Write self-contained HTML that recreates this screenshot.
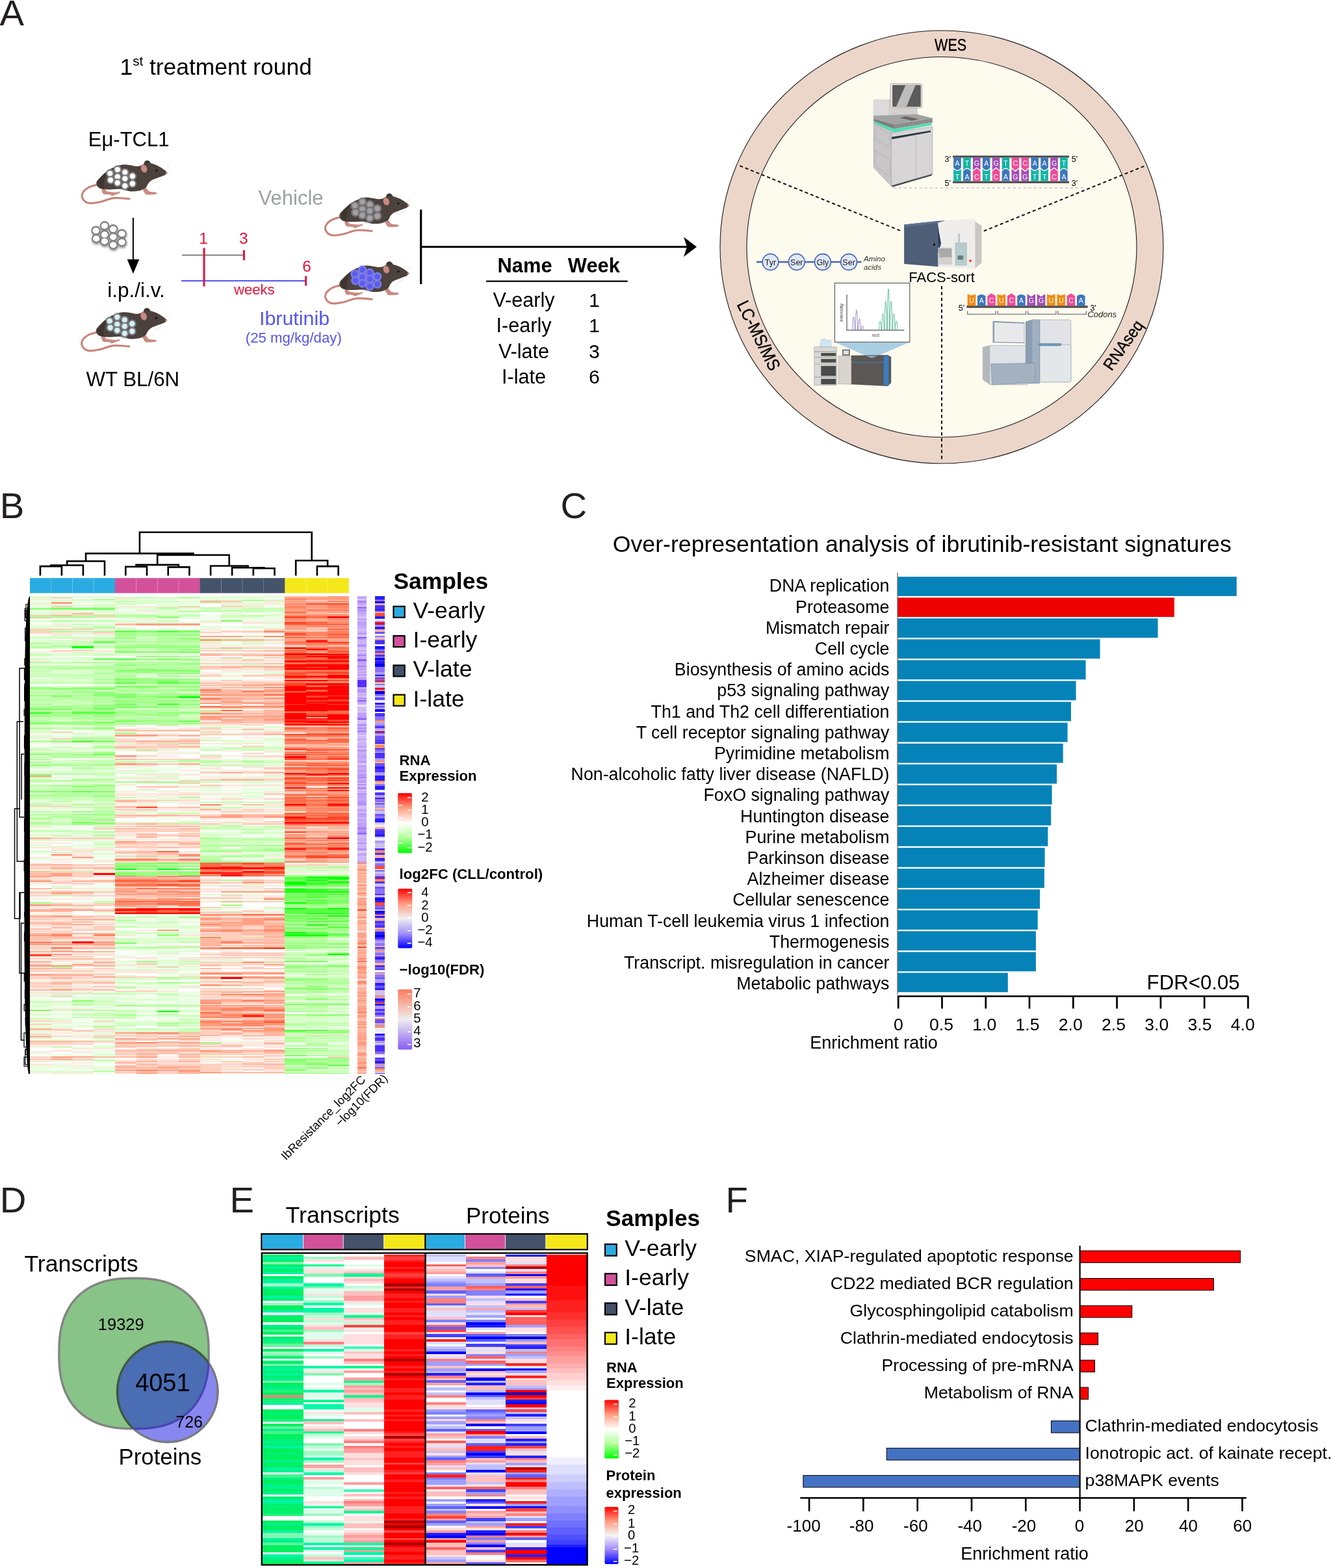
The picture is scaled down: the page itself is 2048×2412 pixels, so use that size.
<!DOCTYPE html>
<html><head><meta charset="utf-8"><title>Figure</title>
<style>html,body{margin:0;padding:0;background:#fff;overflow:hidden;width:2048px;height:2412px;}svg{display:block;}text{font-family:'Liberation Sans', Arial, sans-serif;}</style>
</head><body>
<svg width="2048" height="2412" viewBox="0 0 2048 2412">
<rect width="2048" height="2412" fill="#fff"/>
<defs><g id="mouse"><path d="M29.3,44.2C27.3,44.9 20.5,46.2 17,48C13.5,49.9 9.8,52.5 8.1,55.3C6.4,58 5.5,61.8 6.8,64.6C8.1,67.5 11.6,71.3 16.2,72.3C20.7,73.3 27.5,71.9 34,70.6C40.5,69.3 47.8,65.4 55.3,64.6C62.8,63.8 75.1,65.7 79.1,65.9" fill="none" stroke="#c98379" stroke-width="3.1" stroke-linecap="round"/><path d="M36.6,51C37.1,50.2 39.4,50 40.8,50.6C42.2,51.2 42,53.6 45.1,54.4C48.2,55.3 56.5,55.7 59.5,55.7C62.6,55.7 62.5,54.3 63.4,54.4C64.2,54.6 65.3,55.8 64.6,56.5C64,57.3 61.6,57.9 59.5,58.7C57.4,59.5 53.5,61.1 51.9,61.2C50.2,61.4 51.7,59.9 49.7,59.5C47.8,59.1 42,59.4 40,58.7C37.9,58 38,56.5 37.4,55.3C36.8,54 36,51.8 36.6,51Z" fill="#c98a80"/><path d="M98.6,49.7C99.2,48.8 102.7,48.1 104.6,48.9C106.4,49.7 107.3,53.3 109.7,54.4C112.1,55.6 117.1,55.1 119,55.7C121,56.3 122.6,57.6 121.2,58.2C119.8,58.9 113.4,59.5 110.5,59.5C107.7,59.6 105.7,59.5 104.2,58.7C102.6,57.8 102.1,55.9 101.2,54.4C100.3,52.9 98.1,50.7 98.6,49.7Z" fill="#c98a80"/><path d="M102,11.9C100.7,11.1 102.5,8.9 103.3,8.1C104.2,7.2 105.9,6.6 107.1,6.8C108.4,7 110.3,8.4 111,9.4C111.7,10.3 112.9,12.3 111.4,12.8C109.9,13.2 103.4,12.7 102,11.9Z" fill="#3d3431"/><path d="M28.5,40C29.3,37.3 32.5,34.6 35.7,31.5C38.9,28.3 42.8,24.2 47.6,21.3C52.4,18.4 59.8,15.3 64.6,14C69.4,12.8 72.4,13.3 76.5,13.6C80.6,13.9 86,15.5 89.3,15.7C92.5,15.9 94,15.5 96.1,14.9C98.2,14.2 99.6,12.5 102,11.9C104.5,11.3 107,10.5 110.5,11.1C114.1,11.6 119,13.2 123.3,15.3C127.6,17.4 133.8,22 136.1,23.8C138.4,25.6 137.6,25.2 137.1,26.2C136.5,27.2 134.9,28.6 132.7,29.8C130.4,30.9 126.6,31.9 123.3,33.2C120,34.4 115.6,35.9 113.1,37.4C110.5,39 109.3,40.8 108,42.5C106.7,44.2 106.4,46.3 105.4,47.6C104.5,48.9 104,49.2 102,50.2C100.1,51.2 97.1,52.9 93.5,53.6C90,54.3 85,54.8 80.8,54.4C76.5,54 73,51.5 68,51C63.1,50.5 56,51.4 51,51.4C46.1,51.4 41.7,51.7 38.3,51C34.9,50.4 32.2,49.5 30.6,47.6C29,45.8 27.6,42.7 28.5,40Z" fill="#4b413d"/><path d="M30,41 C33,33 40,27 47,22 C42,30 38,40 40,50 C35,50 31,46 30,41Z" fill="#3e3531"/><ellipse cx="101.6" cy="19.4" rx="4.6" ry="6.2" transform="rotate(-20 101.6 19.4)" fill="#c98a80"/><circle cx="120.7" cy="22.5" r="1.7" fill="#1b1212"/><circle cx="136.3" cy="25.5" r="1.6" fill="#d89088"/><path d="M133,22 L141,13 M134,23 L141,16 M130,34 L120,42 M129,35 L117,41" stroke="#d8d8d8" stroke-width="0.5" fill="none"/></g><linearGradient id="gRNA" x1="0" y1="0" x2="0" y2="1"><stop offset="0" stop-color="#ff0000"/><stop offset="0.25" stop-color="#ff9e81"/><stop offset="0.5" stop-color="#ffffff"/><stop offset="0.75" stop-color="#b1ff9a"/><stop offset="1" stop-color="#00ff00"/></linearGradient><linearGradient id="gFC" x1="0" y1="0" x2="0" y2="1"><stop offset="0" stop-color="#ff0000"/><stop offset="0.25" stop-color="#ff9a80"/><stop offset="0.5" stop-color="#f0f0f0"/><stop offset="0.75" stop-color="#a392fb"/><stop offset="1" stop-color="#0000ff"/></linearGradient><linearGradient id="gFDR" x1="0" y1="0" x2="0" y2="1"><stop offset="0" stop-color="#fa7b5d"/><stop offset="0.5" stop-color="#eeeeee"/><stop offset="1" stop-color="#8b5cf6"/></linearGradient><linearGradient id="gPROT" x1="0" y1="0" x2="0" y2="1"><stop offset="0" stop-color="#ff0000"/><stop offset="0.25" stop-color="#ff9a80"/><stop offset="0.5" stop-color="#f4f4f4"/><stop offset="0.75" stop-color="#9c86ff"/><stop offset="1" stop-color="#0000ff"/></linearGradient><filter id="sh" x="-20%" y="-20%" width="140%" height="150%"><feDropShadow dx="0.6" dy="2.2" stdDeviation="1.8" flood-color="#000" flood-opacity="0.4"/></filter></defs><text x="-0.5" y="39.2" font-size="56.3" fill="#231f20">A</text><text x="184.5" y="114.8" font-size="35.4">1<tspan font-size="20.5" dy="-13.5">st</tspan><tspan dy="13.5"> treatment round</tspan></text><text x="135.8" y="225.3" font-size="31">Eμ-TCL1</text><g transform="translate(120,240) scale(1)"><use href="#mouse"/><ellipse cx="72" cy="52" rx="7" ry="2.2" fill="#000" opacity="0.12"/><circle cx="49.3" cy="26.8" r="5.3" fill="#ffffff" stroke="#7d7d7d" stroke-width="2.3"/><circle cx="60.8" cy="20.8" r="5.3" fill="#ffffff" stroke="#7d7d7d" stroke-width="2.3"/><circle cx="72.3" cy="25.1" r="5.3" fill="#ffffff" stroke="#7d7d7d" stroke-width="2.3"/><circle cx="83.8" cy="31.0" r="5.3" fill="#ffffff" stroke="#7d7d7d" stroke-width="2.3"/><circle cx="50.2" cy="37.0" r="5.3" fill="#ffffff" stroke="#7d7d7d" stroke-width="2.3"/><circle cx="60.8" cy="31.9" r="5.3" fill="#ffffff" stroke="#7d7d7d" stroke-width="2.3"/><circle cx="72.3" cy="34.9" r="5.3" fill="#ffffff" stroke="#7d7d7d" stroke-width="2.3"/><circle cx="60.8" cy="41.2" r="5.3" fill="#ffffff" stroke="#7d7d7d" stroke-width="2.3"/><circle cx="72.3" cy="45.9" r="5.3" fill="#ffffff" stroke="#7d7d7d" stroke-width="2.3"/><circle cx="83.8" cy="42.5" r="5.3" fill="#ffffff" stroke="#7d7d7d" stroke-width="2.3"/></g><g transform="translate(119.5,467) scale(1)"><use href="#mouse"/><ellipse cx="72" cy="52" rx="7" ry="2.2" fill="#000" opacity="0.12"/><circle cx="49.3" cy="26.8" r="5.3" fill="#d3f1f7" stroke="#7d7d7d" stroke-width="2.3"/><circle cx="60.8" cy="20.8" r="5.3" fill="#d3f1f7" stroke="#7d7d7d" stroke-width="2.3"/><circle cx="72.3" cy="25.1" r="5.3" fill="#d3f1f7" stroke="#7d7d7d" stroke-width="2.3"/><circle cx="83.8" cy="31.0" r="5.3" fill="#d3f1f7" stroke="#7d7d7d" stroke-width="2.3"/><circle cx="50.2" cy="37.0" r="5.3" fill="#d3f1f7" stroke="#7d7d7d" stroke-width="2.3"/><circle cx="60.8" cy="31.9" r="5.3" fill="#d3f1f7" stroke="#7d7d7d" stroke-width="2.3"/><circle cx="72.3" cy="34.9" r="5.3" fill="#d3f1f7" stroke="#7d7d7d" stroke-width="2.3"/><circle cx="60.8" cy="41.2" r="5.3" fill="#d3f1f7" stroke="#7d7d7d" stroke-width="2.3"/><circle cx="72.3" cy="45.9" r="5.3" fill="#d3f1f7" stroke="#7d7d7d" stroke-width="2.3"/><circle cx="83.8" cy="42.5" r="5.3" fill="#d3f1f7" stroke="#7d7d7d" stroke-width="2.3"/></g><g transform="translate(494.5,290.8) scale(0.982)"><use href="#mouse"/><ellipse cx="72" cy="52" rx="7" ry="2.2" fill="#000" opacity="0.12"/><circle cx="52.5" cy="26.2" r="5.6" fill="#a3a1a6" stroke="#7a7677" stroke-width="2.6"/><circle cx="64.2" cy="20.0" r="5.6" fill="#a3a1a6" stroke="#7a7677" stroke-width="2.6"/><circle cx="75.9" cy="24.4" r="5.6" fill="#a3a1a6" stroke="#7a7677" stroke-width="2.6"/><circle cx="87.6" cy="30.4" r="5.6" fill="#a3a1a6" stroke="#7a7677" stroke-width="2.6"/><circle cx="53.4" cy="36.6" r="5.6" fill="#a3a1a6" stroke="#7a7677" stroke-width="2.6"/><circle cx="64.2" cy="31.4" r="5.6" fill="#a3a1a6" stroke="#7a7677" stroke-width="2.6"/><circle cx="75.9" cy="34.4" r="5.6" fill="#a3a1a6" stroke="#7a7677" stroke-width="2.6"/><circle cx="64.2" cy="40.9" r="5.6" fill="#a3a1a6" stroke="#7a7677" stroke-width="2.6"/><circle cx="75.9" cy="45.6" r="5.6" fill="#a3a1a6" stroke="#7a7677" stroke-width="2.6"/><circle cx="87.6" cy="42.2" r="5.6" fill="#a3a1a6" stroke="#7a7677" stroke-width="2.6"/></g><g transform="translate(494.5,395.6) scale(0.982)"><use href="#mouse"/><ellipse cx="72" cy="52" rx="7" ry="2.2" fill="#000" opacity="0.12"/><circle cx="52.5" cy="26.2" r="5.6" fill="#5a5af5" stroke="#7b7be2" stroke-width="2.8"/><circle cx="64.2" cy="20.0" r="5.6" fill="#5a5af5" stroke="#7b7be2" stroke-width="2.8"/><circle cx="75.9" cy="24.4" r="5.6" fill="#5a5af5" stroke="#7b7be2" stroke-width="2.8"/><circle cx="87.6" cy="30.4" r="5.6" fill="#5a5af5" stroke="#7b7be2" stroke-width="2.8"/><circle cx="53.4" cy="36.6" r="5.6" fill="#5a5af5" stroke="#7b7be2" stroke-width="2.8"/><circle cx="64.2" cy="31.4" r="5.6" fill="#5a5af5" stroke="#7b7be2" stroke-width="2.8"/><circle cx="75.9" cy="34.4" r="5.6" fill="#5a5af5" stroke="#7b7be2" stroke-width="2.8"/><circle cx="64.2" cy="40.9" r="5.6" fill="#5a5af5" stroke="#7b7be2" stroke-width="2.8"/><circle cx="75.9" cy="45.6" r="5.6" fill="#5a5af5" stroke="#7b7be2" stroke-width="2.8"/><circle cx="87.6" cy="42.2" r="5.6" fill="#5a5af5" stroke="#7b7be2" stroke-width="2.8"/></g><g filter="url(#sh)"><circle cx="147.6" cy="354.7" r="7.3" fill="#838383"/><circle cx="160.9" cy="347.3" r="7.3" fill="#838383"/><circle cx="174.2" cy="352.4" r="7.3" fill="#838383"/><circle cx="187.5" cy="359.5" r="7.3" fill="#838383"/><circle cx="148.1" cy="367.1" r="7.3" fill="#838383"/><circle cx="160.9" cy="360.9" r="7.3" fill="#838383"/><circle cx="174.2" cy="364.6" r="7.3" fill="#838383"/><circle cx="160.9" cy="371.1" r="7.3" fill="#838383"/><circle cx="174.2" cy="376.8" r="7.3" fill="#838383"/><circle cx="187.5" cy="372.5" r="7.3" fill="#838383"/></g><ellipse cx="147.6" cy="354.7" rx="5.1" ry="4.6" fill="#fff"/><ellipse cx="160.9" cy="347.3" rx="5.1" ry="4.6" fill="#fff"/><ellipse cx="174.2" cy="352.4" rx="5.1" ry="4.6" fill="#fff"/><ellipse cx="187.5" cy="359.5" rx="5.1" ry="4.6" fill="#fff"/><ellipse cx="148.1" cy="367.1" rx="5.1" ry="4.6" fill="#fff"/><ellipse cx="160.9" cy="360.9" rx="5.1" ry="4.6" fill="#fff"/><ellipse cx="174.2" cy="364.6" rx="5.1" ry="4.6" fill="#fff"/><ellipse cx="160.9" cy="371.1" rx="5.1" ry="4.6" fill="#fff"/><ellipse cx="174.2" cy="376.8" rx="5.1" ry="4.6" fill="#fff"/><ellipse cx="187.5" cy="372.5" rx="5.1" ry="4.6" fill="#fff"/><line x1="204.9" y1="335" x2="204.9" y2="405" stroke="#000" stroke-width="2"/><path d="M195.7,399 L214.2,399 L204.9,421 Z" fill="#000"/><text x="165.2" y="457.0" font-size="31.5">i.p./i.v.</text><text x="132.4" y="593.7" font-size="31.3">WT BL/6N</text><line x1="280" y1="392.4" x2="376.5" y2="392.4" stroke="#808080" stroke-width="2"/><line x1="279" y1="432.1" x2="471" y2="432.1" stroke="#5555ee" stroke-width="2"/><line x1="314" y1="381.4" x2="314" y2="440.6" stroke="#e8103a" stroke-width="3"/><line x1="375.4" y1="384.8" x2="375.4" y2="400.4" stroke="#e8103a" stroke-width="3"/><line x1="470.7" y1="424.5" x2="470.7" y2="439.5" stroke="#e8103a" stroke-width="3"/><text x="313.0" y="375.4" font-size="24.5" text-anchor="middle" fill="#e8103a">1</text><text x="374.8" y="375.4" font-size="24.5" text-anchor="middle" fill="#e8103a">3</text><text x="472.0" y="418.0" font-size="24.5" text-anchor="middle" fill="#e8103a">6</text><text x="360.0" y="452.8" font-size="22.1" fill="#e8103a">weeks</text><text x="397.6" y="314.8" font-size="31" fill="#9d9fa2">Vehicle</text><text x="399.0" y="499.6" font-size="30.4" fill="#5555ee">Ibrutinib</text><text x="377.8" y="526.5" font-size="22.2" fill="#5555ee">(25 mg/kg/day)</text><line x1="647.7" y1="322.5" x2="647.7" y2="437.1" stroke="#000" stroke-width="3.2"/><line x1="647.7" y1="379.7" x2="1058" y2="379.7" stroke="#000" stroke-width="3"/><path d="M1052,364.5 L1072,379.7 L1052,394.9 L1057,379.7 Z" fill="#000"/><text x="765.5" y="418.8" font-size="30.9" font-weight="bold">Name</text><text x="873.8" y="418.8" font-size="30.9" font-weight="bold">Week</text><line x1="748" y1="432.7" x2="965.7" y2="432.7" stroke="#000" stroke-width="2.2"/><text x="806.0" y="472.2" font-size="30.6" text-anchor="middle">V-early</text><text x="914.4" y="472.2" font-size="30.2" text-anchor="middle">1</text><text x="806.0" y="511.3" font-size="30.6" text-anchor="middle">I-early</text><text x="914.4" y="511.3" font-size="30.2" text-anchor="middle">1</text><text x="806.0" y="551.0" font-size="30.6" text-anchor="middle">V-late</text><text x="914.4" y="551.0" font-size="30.2" text-anchor="middle">3</text><text x="806.0" y="590.0" font-size="30.6" text-anchor="middle">I-late</text><text x="914.4" y="590.0" font-size="30.2" text-anchor="middle">6</text><ellipse cx="1449" cy="380" rx="341" ry="333" fill="#ecd6c9" stroke="#1a1a1a" stroke-width="1.1"/><ellipse cx="1449" cy="380" rx="300" ry="292.5" fill="#fdfaee" stroke="#1a1a1a" stroke-width="1.1"/><text x="1462.6" y="77.6" font-size="26.5" text-anchor="middle" textLength="49.2" lengthAdjust="spacingAndGlyphs" stroke="#000" stroke-width="0.35">WES</text><text transform="translate(1133.2,468.3) rotate(63.5)" font-size="27" stroke="#000" stroke-width="0.35" textLength="116" lengthAdjust="spacingAndGlyphs">LC-MS/MS</text><text transform="translate(1710.5,571.5) rotate(-55)" font-size="25.5" stroke="#000" stroke-width="0.35" textLength="87" lengthAdjust="spacingAndGlyphs">RNAseq</text><path d="M1138.4,255 L1386.8,355.4 M1513.8,355.4 L1761.8,255 M1449,440 L1449,708" stroke="#111" stroke-width="2" stroke-dasharray="5 4" fill="none"/><path d="M1344.2,153.4 L1411.1,154 L1411.1,181.2 L1344.2,181.2Z" fill="#d2d0d0" stroke="#b8b6b6" stroke-width="0.6"/><path d="M1344.2,153.4 L1367.4,153.1 L1367.4,181.2 L1344.2,181.2Z" fill="#dcdada" /><rect x="1369.9" y="128.5" width="48.9" height="37.4" rx="2.5" fill="#e9e2da" stroke="#a89e96" stroke-width="0.7"/><rect x="1373.1" y="130.8" width="43.7" height="33.4" rx="1.5" fill="#5b5b5b"/><path d="M1393.5,130.8 L1408.8,130.8 L1394.6,164.2 L1378.8,164.2Z" fill="#bdbdbd" /><path d="M1344.2,178 L1411.1,175.8 L1434.9,181.8 L1375.9,191.2 L1344.2,182.6Z" fill="#a3a3a3" /><path d="M1384.4,181.2 L1393.5,179 L1413.3,182.9 L1403.7,185.8Z" fill="#666" /><path d="M1375.9,191.2 L1434.9,181.8 L1434.9,188.6 L1375.9,198.2Z" fill="#8d8d8d" /><path d="M1344.2,182.6 L1375.9,191.2 L1375.9,198.2 L1344.2,186.9Z" fill="#7f7f7f" /><path d="M1344.7,186.3 L1375.9,198.2 L1433.7,188.9 L1433.7,192.6 L1375.9,203.7 L1344.7,189.7Z" fill="#52dcb2" /><path d="M1344.2,188.9 L1374.8,204.1 L1371.4,286.1 L1344.2,257.8Z" fill="#c8c6c6" stroke="#9c9a9a" stroke-width="0.6"/><path d="M1371.4,204.8 L1434.9,194.3 L1434.9,267.4 L1371.4,285.8Z" fill="#d7d5d5" stroke="#9c9a9a" stroke-width="0.6"/><path d="M1372.2,210.7 L1432,200.7 L1432,203.3 L1372.2,214.3Z" fill="#2b3741" /><path d="M1371.4,285.8 L1434.9,267.4 L1433.2,270.2 L1373.1,287.8Z" fill="#46494c" /><path d="M1409.4,209.0 L1409.4,275.3" stroke="#aaa" stroke-width="0.6"/><path d="M1347.0,193.7 L1369.1,206.2 L1369.1,227.1 L1347.0,214.1Z M1347.0,231.7 L1369.1,245.9 L1369.1,271.9 L1347.0,254.9Z" fill="none" stroke="#aaa" stroke-width="0.6"/><path d="M1374.8,289 L1671,289" stroke="#c4c4c4" stroke-width="1.3" stroke-dasharray="4 4"/><rect x="1466" y="239.4" width="179" height="3.2" fill="#4d4d4d"/><rect x="1466" y="278.6" width="179" height="3.2" fill="#4d4d4d"/><path d="M1467.2,242.6 h11.6 v15.4 q-5.8,7 -11.6,0z" fill="#3b76bd"/><path d="M1467.2,278.6 v-18.8 q5.8,7 11.6,0 v18.8z" fill="#12b5a6"/><text x="1473.0" y="254.5" font-size="10.5" text-anchor="middle" fill="#fff">A</text><text x="1473.0" y="276.0" font-size="10.5" text-anchor="middle" fill="#fff">T</text><path d="M1482.1,242.6 h11.6 v19.2 q-5.8,-7 -11.6,0z" fill="#12b5a6"/><path d="M1482.1,278.6 v-15.4 q5.8,-7 11.6,0 v15.4z" fill="#3b76bd"/><text x="1487.9" y="254.5" font-size="10.5" text-anchor="middle" fill="#fff">T</text><text x="1487.9" y="276.0" font-size="10.5" text-anchor="middle" fill="#fff">A</text><path d="M1497.0,242.6 h11.6 v19.2 l-5.8,-4.5 l-5.8,4.5z" fill="#a24db5"/><path d="M1497.0,278.6 v-15.2 l5.8,-4.5 l5.8,4.5 v15.2z" fill="#ef4a9a"/><text x="1502.8" y="254.5" font-size="10.5" text-anchor="middle" fill="#fff">G</text><text x="1502.8" y="276.0" font-size="10.5" text-anchor="middle" fill="#fff">C</text><path d="M1511.9,242.6 h11.6 v15.4 q-5.8,7 -11.6,0z" fill="#3b76bd"/><path d="M1511.9,278.6 v-18.8 q5.8,7 11.6,0 v18.8z" fill="#12b5a6"/><text x="1517.7" y="254.5" font-size="10.5" text-anchor="middle" fill="#fff">A</text><text x="1517.7" y="276.0" font-size="10.5" text-anchor="middle" fill="#fff">T</text><path d="M1526.8,242.6 h11.6 v19.2 l-5.8,-4.5 l-5.8,4.5z" fill="#a24db5"/><path d="M1526.8,278.6 v-15.2 l5.8,-4.5 l5.8,4.5 v15.2z" fill="#ef4a9a"/><text x="1532.6" y="254.5" font-size="10.5" text-anchor="middle" fill="#fff">G</text><text x="1532.6" y="276.0" font-size="10.5" text-anchor="middle" fill="#fff">C</text><path d="M1541.7,242.6 h11.6 v19.2 q-5.8,-7 -11.6,0z" fill="#12b5a6"/><path d="M1541.7,278.6 v-15.4 q5.8,-7 11.6,0 v15.4z" fill="#3b76bd"/><text x="1547.5" y="254.5" font-size="10.5" text-anchor="middle" fill="#fff">T</text><text x="1547.5" y="276.0" font-size="10.5" text-anchor="middle" fill="#fff">A</text><path d="M1556.6,242.6 h11.6 v15.2 l-5.8,4.5 l-5.8,-4.5z" fill="#ef4a9a"/><path d="M1556.6,278.6 v-18.8 l5.8,4.5 l5.8,-4.5 v18.8z" fill="#a24db5"/><text x="1562.4" y="254.5" font-size="10.5" text-anchor="middle" fill="#fff">C</text><text x="1562.4" y="276.0" font-size="10.5" text-anchor="middle" fill="#fff">G</text><path d="M1571.5,242.6 h11.6 v15.2 l-5.8,4.5 l-5.8,-4.5z" fill="#ef4a9a"/><path d="M1571.5,278.6 v-18.8 l5.8,4.5 l5.8,-4.5 v18.8z" fill="#a24db5"/><text x="1577.3" y="254.5" font-size="10.5" text-anchor="middle" fill="#fff">C</text><text x="1577.3" y="276.0" font-size="10.5" text-anchor="middle" fill="#fff">G</text><path d="M1586.4,242.6 h11.6 v15.4 q-5.8,7 -11.6,0z" fill="#3b76bd"/><path d="M1586.4,278.6 v-18.8 q5.8,7 11.6,0 v18.8z" fill="#12b5a6"/><text x="1592.2" y="254.5" font-size="10.5" text-anchor="middle" fill="#fff">A</text><text x="1592.2" y="276.0" font-size="10.5" text-anchor="middle" fill="#fff">T</text><path d="M1601.3,242.6 h11.6 v15.4 q-5.8,7 -11.6,0z" fill="#3b76bd"/><path d="M1601.3,278.6 v-18.8 q5.8,7 11.6,0 v18.8z" fill="#12b5a6"/><text x="1607.1" y="254.5" font-size="10.5" text-anchor="middle" fill="#fff">A</text><text x="1607.1" y="276.0" font-size="10.5" text-anchor="middle" fill="#fff">T</text><path d="M1616.2,242.6 h11.6 v19.2 l-5.8,-4.5 l-5.8,4.5z" fill="#a24db5"/><path d="M1616.2,278.6 v-15.2 l5.8,-4.5 l5.8,4.5 v15.2z" fill="#ef4a9a"/><text x="1622.0" y="254.5" font-size="10.5" text-anchor="middle" fill="#fff">G</text><text x="1622.0" y="276.0" font-size="10.5" text-anchor="middle" fill="#fff">C</text><path d="M1631.1,242.6 h11.6 v19.2 q-5.8,-7 -11.6,0z" fill="#12b5a6"/><path d="M1631.1,278.6 v-15.4 q5.8,-7 11.6,0 v15.4z" fill="#3b76bd"/><text x="1636.9" y="254.5" font-size="10.5" text-anchor="middle" fill="#fff">T</text><text x="1636.9" y="276.0" font-size="10.5" text-anchor="middle" fill="#fff">A</text><text x="1453.6" y="248.7" font-size="12.5">3'</text><text x="1453.6" y="285.8" font-size="12.5">5'</text><text x="1648.7" y="249.4" font-size="12.5">5'</text><text x="1648.7" y="286.0" font-size="12.5">3'</text><path d="M1442.9,340 L1500.3,336.6 L1500.3,413.1 L1443.4,410.3Z" fill="#eeedeb" /><path d="M1500.3,340.4 L1510.5,347.2 L1510.5,404.2 L1500.3,413.1Z" fill="#cbc8c3" /><path d="M1391.1,345.5 L1442.9,340 L1443.4,410.3 L1391.1,405.9Z" fill="#4f5f78" /><path d="M1391.1,345.5 L1442.9,340 L1454.8,338.9 L1442.9,343.1 L1391.1,349.3Z" fill="#5e7291" /><path d="M1442.9,343.1 L1444.6,355.7 L1448,374.4 L1443.4,389.7Z" fill="#243a5a" /><path d="M1443.8,380.8 L1465,380.8 L1465,406.9 L1443.8,406.9Z" fill="#d3d1ce" /><path d="M1445.1,382.2 L1464.2,382.2 L1464.2,395.7 L1445.1,395.7Z" fill="#a9a9a9" /><path d="M1470.1,373.7 L1487.3,373.7 L1487.3,408 L1470.1,408Z" fill="#b5cdcc" stroke="#8aa6a6" stroke-width="0.5"/><path d="M1474.4,359.1 L1476.9,359.1 L1476.9,372.7 L1474.4,372.7Z" fill="#c3bfba" /><path d="M1473.5,393.1 L1482,393.1 L1482,399.5 L1473.5,399.5Z" fill="#667c7a" /><circle cx="1493.1" cy="401.2" r="1.9" fill="#ff3b12"/><circle cx="1437.4" cy="376.1" r="1.8" fill="#111"/><text x="1398.3" y="433.5" font-size="22">FACS-sort</text><line x1="1164" y1="403" x2="1325.7" y2="403" stroke="#4a65b5" stroke-width="2.6"/><circle cx="1185.5" cy="403" r="12.4" fill="#dfe8f8" stroke="#4a65b5" stroke-width="1.7"/><text x="1185.5" y="408.0" font-size="12.5" text-anchor="middle" fill="#1a1a1a">Tyr</text><circle cx="1225.8" cy="403" r="12.4" fill="#dfe8f8" stroke="#4a65b5" stroke-width="1.7"/><text x="1225.8" y="408.0" font-size="12.5" text-anchor="middle" fill="#1a1a1a">Ser</text><circle cx="1265.9" cy="403" r="12.4" fill="#dfe8f8" stroke="#4a65b5" stroke-width="1.7"/><text x="1265.9" y="408.0" font-size="12.5" text-anchor="middle" fill="#1a1a1a">Gly</text><circle cx="1306.1" cy="403" r="12.4" fill="#dfe8f8" stroke="#4a65b5" stroke-width="1.7"/><text x="1306.1" y="408.0" font-size="12.5" text-anchor="middle" fill="#1a1a1a">Ser</text><text x="1329.0" y="402.0" font-size="11.6" fill="#333" font-style="italic">Amino</text><text x="1329.0" y="414.5" font-size="11.6" fill="#333" font-style="italic">acids</text><path d="M1284.7,526.6 L1399.5,526.6 L1350.5,547.6 L1341.3,550.7 L1332.9,547.6Z" fill="#abcfe2" /><rect x="1284.4" y="435.4" width="115.4" height="90.8" fill="#fff" stroke="#444" stroke-width="1"/><path d="M1303,453 L1303,507.8 L1391.5,507.8" fill="none" stroke="#555" stroke-width="1.2"/><path d="M1311.8,507.5 C1312.4,480.3 1314.6,480.3 1315.2,507.5 M1316.2,507.5 C1316.8,466.4 1319.0,466.4 1319.6,507.5 M1320.8,507.5 C1321.4,484.4 1323.6,484.4 1324.2,507.5 M1325.4,507.5 C1326.0,498.7 1328.2,498.7 1328.8,507.5 " fill="none" stroke="#8e7fc6" stroke-width="0.9"/><path d="M1352.6,507.5 C1353.2,489.5 1355.4,489.5 1356.0,507.5 M1356.8,507.5 C1357.4,473.8 1359.6,473.8 1360.2,507.5 M1361.1,507.5 C1361.7,448.7 1363.9,448.7 1364.5,507.5 M1365.3,507.5 C1365.9,423.2 1368.1,423.2 1368.7,507.5 M1369.5,507.5 C1370.1,448.7 1372.3,448.7 1372.9,507.5 M1373.6,507.5 C1374.2,473.8 1376.4,473.8 1377.0,507.5 M1377.6,507.5 C1378.2,489.5 1380.4,489.5 1381.0,507.5 " fill="none" stroke="#4fb992" stroke-width="0.9"/><text transform="translate(1297,481) rotate(-90)" font-size="7.5" text-anchor="middle" fill="#444">Intensity</text><text x="1347.5" y="518.0" font-size="7.5" text-anchor="middle" fill="#444" font-style="italic">m/z</text><path d="M1261.7,533.8 L1263.3,523.1 L1267.9,520.8 L1272.5,523.1 L1278.6,523.1 L1278.9,533.8Z" fill="#cfe6f0" stroke="#9ab" stroke-width="0.4"/><rect x="1252.9" y="533.8" width="34.4" height="6.9" fill="#d8d8d8" stroke="#8a8a8a" stroke-width="0.5"/><rect x="1252.9" y="541.5" width="34.4" height="7.7" fill="#d8d8d8" stroke="#8a8a8a" stroke-width="0.5"/><rect x="1252.9" y="549.9" width="34.4" height="9.2" fill="#d8d8d8" stroke="#8a8a8a" stroke-width="0.5"/><rect x="1252.9" y="560.6" width="34.4" height="19.1" fill="#d8d8d8" stroke="#8a8a8a" stroke-width="0.5"/><rect x="1252.9" y="580.5" width="34.4" height="12.2" fill="#d8d8d8" stroke="#8a8a8a" stroke-width="0.5"/><rect x="1263.3" y="543.0" width="23.0" height="4.6" fill="#4a4a4a"/><rect x="1263.3" y="552.2" width="23.0" height="5.4" fill="#4a4a4a"/><rect x="1263.3" y="562.9" width="23.0" height="15.3" fill="#4a4a4a"/><rect x="1263.3" y="582.8" width="23.0" height="8.4" fill="#4a4a4a"/><path d="M1290.1,547.6 L1310,547.6 L1310,591.2 L1290.1,590.5Z" fill="#dad4ce" stroke="#888" stroke-width="0.5"/><path d="M1310,546.8 L1365.8,546.1 L1371.2,549.1 L1371.2,588.9 L1365.8,594 L1310,591.2Z" fill="#5a5755" /><path d="M1359.7,546.8 L1367.4,547.6 L1367.4,593.5 L1359.7,592Z" fill="#3a7cbf" /><path d="M1296.2,537.7 L1307.7,537.7 L1307.7,546.8 L1296.2,546.8Z" fill="#5a5a5a" /><path d="M1297.7,539.2 L1306.1,539.2 L1306.1,545.3 L1297.7,545.3Z" fill="#e0e0e0" /><path d="M1332.9,547.6 L1350.5,547.6 L1341.3,550.7Z" fill="#8ab6cf" /><line x1="1310.0" y1="557.6" x2="1363.5" y2="557.6" stroke="#3a8ac0" stroke-width="0.8"/><rect x="1487.3" y="470.2" width="186.4" height="3.4" fill="#4d4d4d"/><path d="M1488.7,470.2 v-18 q6.25,4 12.5,0 v18z" fill="#f5890c"/><text x="1495.0" y="466.0" font-size="10.5" text-anchor="middle" fill="#fff">U</text><path d="M1504.0,470.2 v-15 q6.25,-4.5 12.5,0 v15z" fill="#3b76bd"/><text x="1510.2" y="466.0" font-size="10.5" text-anchor="middle" fill="#fff">A</text><path d="M1519.3,470.2 v-15 l6.25,-4 l6.25,4 v15z" fill="#ef4a9a"/><text x="1525.5" y="466.0" font-size="10.5" text-anchor="middle" fill="#fff">C</text><path d="M1534.6,470.2 v-18 q6.25,4 12.5,0 v18z" fill="#f5890c"/><text x="1540.9" y="466.0" font-size="10.5" text-anchor="middle" fill="#fff">U</text><path d="M1549.9,470.2 v-15 l6.25,-4 l6.25,4 v15z" fill="#ef4a9a"/><text x="1556.2" y="466.0" font-size="10.5" text-anchor="middle" fill="#fff">C</text><path d="M1565.2,470.2 v-15 q6.25,-4.5 12.5,0 v15z" fill="#3b76bd"/><text x="1571.5" y="466.0" font-size="10.5" text-anchor="middle" fill="#fff">A</text><path d="M1580.5,470.2 v-18 l6.25,4 l6.25,-4 v18z" fill="#a24db5"/><text x="1586.8" y="466.0" font-size="10.5" text-anchor="middle" fill="#fff">G</text><path d="M1595.8,470.2 v-18 l6.25,4 l6.25,-4 v18z" fill="#a24db5"/><text x="1602.0" y="466.0" font-size="10.5" text-anchor="middle" fill="#fff">G</text><path d="M1611.1,470.2 v-18 q6.25,4 12.5,0 v18z" fill="#f5890c"/><text x="1617.4" y="466.0" font-size="10.5" text-anchor="middle" fill="#fff">U</text><path d="M1626.4,470.2 v-18 q6.25,4 12.5,0 v18z" fill="#f5890c"/><text x="1632.7" y="466.0" font-size="10.5" text-anchor="middle" fill="#fff">U</text><path d="M1641.7,470.2 v-15 l6.25,-4 l6.25,4 v15z" fill="#ef4a9a"/><text x="1648.0" y="466.0" font-size="10.5" text-anchor="middle" fill="#fff">C</text><path d="M1657.0,470.2 v-15 q6.25,-4.5 12.5,0 v15z" fill="#3b76bd"/><text x="1663.2" y="466.0" font-size="10.5" text-anchor="middle" fill="#fff">A</text><text x="1474.7" y="477.6" font-size="12.5">5'</text><text x="1677.4" y="477.6" font-size="12.5">3'</text><path d="M1488.7,478.3 V483.3 H1532.2 V478.3 M1535.2,478.3 V483.3 H1578.6 V478.3 M1581.6,478.3 V483.3 H1625 V478.3 M1628,478.3 V483.3 H1671.5 V478.3 " fill="none" stroke="#7a7a7a" stroke-width="1.3"/><text x="1673.4" y="488.3" font-size="13" fill="#222" font-style="italic">Codons</text><path d="M1512.3,534.3 L1523.4,531.4 L1580.9,531.4 L1580.9,591.8 L1523.4,591.8 L1512.3,583.7Z" fill="#dfe2e6" stroke="#8d9aa8" stroke-width="0.6"/><path d="M1512.3,534.3 L1523.4,531.4 L1523.4,591.8 L1512.3,583.7Z" fill="#b3b8bd" /><path d="M1577.9,494.5 L1589.7,491.3 L1600,491.6 L1600,590 L1577.9,590Z" fill="#8a9db1" /><path d="M1588.2,492.3 L1599.3,491.9 L1599.3,589.6 L1588.2,589.6Z" fill="#9fb0c2" /><rect x="1600.0" y="491.9" width="47.9" height="95.8" rx="2.5" fill="#e1e3e6" stroke="#8d9aa8" stroke-width="0.6"/><rect x="1600.0" y="530.2" width="47.9" height="57.5" rx="2" fill="#e4e7ea" stroke="#8d9aa8" stroke-width="0.6"/><path d="M1527.5,493.8 L1576.4,496 L1576.4,528.1 L1527.5,527Z" fill="#8a9db1" /><path d="M1530,496 L1575.7,497.8 L1575.7,526.7 L1530,525.8Z" fill="#e9e9eb" /><path d="M1524.8,559.7 L1592.6,558.6 L1592.6,588.9 L1526.3,591.8Z" fill="#a4b1c1" stroke="#7d8c9c" stroke-width="0.6"/><rect x="1597.1" y="528.1" width="36.1" height="4.1" rx="2" fill="#7a91a8"/><line x1="1598.5" y1="529.5" x2="1631.7" y2="529.5" stroke="#3fb0e6" stroke-width="1"/><text x="-0.2" y="796.9" font-size="56.3" fill="#231f20">B</text><rect x="46.00" y="889.2" width="33.00" height="23.2" fill="#2aace2"/><rect x="78.70" y="889.2" width="33.00" height="23.2" fill="#2aace2"/><rect x="111.40" y="889.2" width="33.00" height="23.2" fill="#2aace2"/><rect x="144.10" y="889.2" width="33.00" height="23.2" fill="#2aace2"/><rect x="176.80" y="889.2" width="33.00" height="23.2" fill="#d3519b"/><rect x="209.50" y="889.2" width="33.00" height="23.2" fill="#d3519b"/><rect x="242.20" y="889.2" width="33.00" height="23.2" fill="#d3519b"/><rect x="274.90" y="889.2" width="33.00" height="23.2" fill="#d3519b"/><rect x="307.60" y="889.2" width="33.00" height="23.2" fill="#44536a"/><rect x="340.30" y="889.2" width="33.00" height="23.2" fill="#44536a"/><rect x="373.00" y="889.2" width="33.00" height="23.2" fill="#44536a"/><rect x="405.70" y="889.2" width="33.00" height="23.2" fill="#44536a"/><rect x="438.40" y="889.2" width="33.00" height="23.2" fill="#f4e81b"/><rect x="471.10" y="889.2" width="33.00" height="23.2" fill="#f4e81b"/><rect x="503.80" y="889.2" width="33.00" height="23.2" fill="#f4e81b"/><line x1="78.70" y1="889.2" x2="78.70" y2="912.4" stroke="#fff" stroke-width="0.5" opacity="0.5"/><line x1="111.40" y1="889.2" x2="111.40" y2="912.4" stroke="#fff" stroke-width="0.5" opacity="0.5"/><line x1="144.10" y1="889.2" x2="144.10" y2="912.4" stroke="#fff" stroke-width="0.5" opacity="0.5"/><line x1="209.50" y1="889.2" x2="209.50" y2="912.4" stroke="#fff" stroke-width="0.5" opacity="0.5"/><line x1="242.20" y1="889.2" x2="242.20" y2="912.4" stroke="#fff" stroke-width="0.5" opacity="0.5"/><line x1="274.90" y1="889.2" x2="274.90" y2="912.4" stroke="#fff" stroke-width="0.5" opacity="0.5"/><line x1="340.30" y1="889.2" x2="340.30" y2="912.4" stroke="#fff" stroke-width="0.5" opacity="0.5"/><line x1="373.00" y1="889.2" x2="373.00" y2="912.4" stroke="#fff" stroke-width="0.5" opacity="0.5"/><line x1="405.70" y1="889.2" x2="405.70" y2="912.4" stroke="#fff" stroke-width="0.5" opacity="0.5"/><line x1="471.10" y1="889.2" x2="471.10" y2="912.4" stroke="#fff" stroke-width="0.5" opacity="0.5"/><line x1="503.80" y1="889.2" x2="503.80" y2="912.4" stroke="#fff" stroke-width="0.5" opacity="0.5"/><path d="M61.9,885.4V871.1H94.9V885.4M78.4,871.1V869.5H127.9V885.4M103.2,869.5V863.2H161.0V885.4M193.3,885.4V871.7H226.0V885.4M258.7,885.4V872.4H291.4V885.4M209.5,871.7V868.9H274.9V872.4M389.8,885.4V874.3H422.5V885.4M357.1,885.4V873.3H406.3V874.3M324.1,885.4V870.5H381.6V873.3M242.2,868.9V853.7H352.7V870.5M132.1,863.2V851.4H297.5V853.7M487.9,885.4V871.1H520.6V885.4M455.2,885.4V862.2H504.1V871.1M214.9,851.4V818.7H479.7V862.2" fill="none" stroke="#000" stroke-width="2.6"/><g shape-rendering="crispEdges"><g transform="translate(46.0,0)"><path fill="#dbffcd" d="M0 917.0v2.3h32.9v-2.3zM0 920.7v2.3h32.9v-2.3zM0 926.2v2.3h32.9v-2.3zM0 929.9v2.3h32.9v-2.3zM0 933.5v2.3h32.9v-2.3zM0 940.9v2.3h32.9v-2.3zM0 953.8v2.3h32.9v-2.3zM0 963.0v4.2h32.9v-4.2zM0 977.7v6.0h32.9v-6.0zM0 985.0v4.2h32.9v-4.2zM0 996.0v2.3h32.9v-2.3zM0 1012.6v4.2h32.9v-4.2zM0 1021.8v2.3h32.9v-2.3zM0 1032.8v2.3h32.9v-2.3zM0 1036.5v2.3h32.9v-2.3zM0 1040.1v2.3h32.9v-2.3zM0 1043.8v6.0h32.9v-6.0zM0 1054.8v2.3h32.9v-2.3zM0 1065.9v2.3h32.9v-2.3zM0 1080.6v2.3h32.9v-2.3zM0 1102.6v2.3h32.9v-2.3zM0 1115.5v4.2h32.9v-4.2zM0 1122.9v6.0h32.9v-6.0zM0 1132.0v4.2h32.9v-4.2zM0 1148.6v4.2h32.9v-4.2zM0 1155.9v2.3h32.9v-2.3zM0 1174.3v2.3h32.9v-2.3zM0 1185.3v2.3h32.9v-2.3zM0 1218.4v4.2h32.9v-4.2zM0 1231.3v2.3h32.9v-2.3zM0 1240.5v2.3h32.9v-2.3zM0 1244.2v2.3h32.9v-2.3zM0 1260.7v2.3h32.9v-2.3zM0 1271.7v2.3h32.9v-2.3zM0 1279.1v2.3h32.9v-2.3zM0 1282.8v4.2h32.9v-4.2zM0 1290.1v4.2h32.9v-4.2zM0 1299.3v2.3h32.9v-2.3zM0 1319.5v2.3h32.9v-2.3zM0 1337.9v2.3h32.9v-2.3zM0 1527.2v2.3h32.9v-2.3zM0 1541.9v2.3h32.9v-2.3zM0 1545.6v4.2h32.9v-4.2zM0 1558.5v4.2h32.9v-4.2zM0 1573.2v2.3h32.9v-2.3zM0 1578.7v2.3h32.9v-2.3zM0 1586.0v2.3h32.9v-2.3zM0 1595.2v2.3h32.9v-2.3zM0 1598.9v2.3h32.9v-2.3zM0 1630.1v2.3h32.9v-2.3zM0 1641.2v2.3h32.9v-2.3zM0 1646.7v2.3h32.9v-2.3z"/><path fill="#ffe7de" d="M0 918.8v2.3h32.9v-2.3zM0 928.0v2.3h32.9v-2.3zM0 950.1v2.3h32.9v-2.3zM0 974.0v2.3h32.9v-2.3zM0 1001.5v2.3h32.9v-2.3zM0 1016.3v2.3h32.9v-2.3zM0 1121.0v2.3h32.9v-2.3zM0 1130.2v2.3h32.9v-2.3zM0 1154.1v2.3h32.9v-2.3zM0 1165.1v2.3h32.9v-2.3zM0 1262.5v2.3h32.9v-2.3zM0 1269.9v2.3h32.9v-2.3zM0 1295.6v2.3h32.9v-2.3zM0 1303.0v2.3h32.9v-2.3zM0 1317.7v2.3h32.9v-2.3zM0 1326.9v2.3h32.9v-2.3zM0 1332.4v2.3h32.9v-2.3zM0 1336.1v2.3h32.9v-2.3zM0 1350.8v2.3h32.9v-2.3zM0 1358.1v2.3h32.9v-2.3zM0 1374.7v2.3h32.9v-2.3zM0 1382.0v2.3h32.9v-2.3zM0 1389.4v2.3h32.9v-2.3zM0 1394.9v4.2h32.9v-4.2zM0 1405.9v2.3h32.9v-2.3zM0 1411.4v2.3h32.9v-2.3zM0 1422.5v4.2h32.9v-4.2zM0 1429.8v2.3h32.9v-2.3zM0 1453.7v2.3h32.9v-2.3zM0 1459.2v4.2h32.9v-4.2zM0 1464.7v2.3h32.9v-2.3zM0 1470.2v2.3h32.9v-2.3zM0 1486.8v2.3h32.9v-2.3zM0 1490.5v2.3h32.9v-2.3zM0 1501.5v2.3h32.9v-2.3zM0 1505.2v2.3h32.9v-2.3zM0 1508.8v2.3h32.9v-2.3zM0 1514.3v2.3h32.9v-2.3zM0 1518.0v4.2h32.9v-4.2zM0 1525.4v2.3h32.9v-2.3zM0 1530.9v2.3h32.9v-2.3zM0 1554.8v2.3h32.9v-2.3zM0 1567.7v2.3h32.9v-2.3zM0 1580.5v2.3h32.9v-2.3zM0 1606.2v4.2h32.9v-4.2zM0 1617.3v2.3h32.9v-2.3zM0 1626.5v2.3h32.9v-2.3zM0 1632.0v2.3h32.9v-2.3zM0 1635.7v4.2h32.9v-4.2zM0 1648.5v2.3h32.9v-2.3z"/><path fill="#edffe6" d="M0 922.5v4.2h32.9v-4.2zM0 937.2v4.2h32.9v-4.2zM0 942.7v2.3h32.9v-2.3zM0 955.6v2.3h32.9v-2.3zM0 959.3v4.2h32.9v-4.2zM0 990.5v2.3h32.9v-2.3zM0 997.9v2.3h32.9v-2.3zM0 1008.9v4.2h32.9v-4.2zM0 1019.9v2.3h32.9v-2.3zM0 1042.0v2.3h32.9v-2.3zM0 1128.4v2.3h32.9v-2.3zM0 1135.7v2.3h32.9v-2.3zM0 1141.2v4.2h32.9v-4.2zM0 1168.8v2.3h32.9v-2.3zM0 1187.2v2.3h32.9v-2.3zM0 1196.4v2.3h32.9v-2.3zM0 1205.6v2.3h32.9v-2.3zM0 1211.1v2.3h32.9v-2.3zM0 1229.5v2.3h32.9v-2.3zM0 1233.1v2.3h32.9v-2.3zM0 1242.3v2.3h32.9v-2.3zM0 1246.0v2.3h32.9v-2.3zM0 1249.7v2.3h32.9v-2.3zM0 1255.2v2.3h32.9v-2.3zM0 1275.4v2.3h32.9v-2.3zM0 1301.1v2.3h32.9v-2.3zM0 1312.2v2.3h32.9v-2.3zM0 1321.4v2.3h32.9v-2.3zM0 1360.0v2.3h32.9v-2.3zM0 1367.3v4.2h32.9v-4.2zM0 1380.2v2.3h32.9v-2.3zM0 1385.7v2.3h32.9v-2.3zM0 1402.2v2.3h32.9v-2.3zM0 1472.1v2.3h32.9v-2.3zM0 1494.1v2.3h32.9v-2.3zM0 1507.0v2.3h32.9v-2.3zM0 1529.1v2.3h32.9v-2.3zM0 1532.7v2.3h32.9v-2.3zM0 1536.4v4.2h32.9v-4.2zM0 1543.8v2.3h32.9v-2.3zM0 1549.3v2.3h32.9v-2.3zM0 1556.6v2.3h32.9v-2.3zM0 1562.1v4.2h32.9v-4.2zM0 1576.8v2.3h32.9v-2.3zM0 1587.9v2.3h32.9v-2.3zM0 1591.5v2.3h32.9v-2.3zM0 1609.9v2.3h32.9v-2.3zM0 1619.1v4.2h32.9v-4.2zM0 1639.3v2.3h32.9v-2.3zM0 1643.0v4.2h32.9v-4.2zM0 1650.4v1.8h32.9v-1.8z"/><path fill="#99ff80" d="M0 935.4v2.3h32.9v-2.3zM0 948.2v2.3h32.9v-2.3zM0 1056.7v4.2h32.9v-4.2zM0 1064.0v2.3h32.9v-2.3zM0 1069.6v2.3h32.9v-2.3zM0 1075.1v2.3h32.9v-2.3zM0 1087.9v2.3h32.9v-2.3zM0 1100.8v2.3h32.9v-2.3zM0 1110.0v2.3h32.9v-2.3zM0 1159.6v2.3h32.9v-2.3zM0 1176.2v2.3h32.9v-2.3zM0 1190.9v2.3h32.9v-2.3zM0 1387.5v2.3h32.9v-2.3z"/><path fill="#b1ff9a" d="M0 944.6v2.3h32.9v-2.3zM0 970.3v2.3h32.9v-2.3zM0 988.7v2.3h32.9v-2.3zM0 994.2v2.3h32.9v-2.3zM0 1018.1v2.3h32.9v-2.3zM0 1025.4v2.3h32.9v-2.3zM0 1031.0v2.3h32.9v-2.3zM0 1060.4v2.3h32.9v-2.3zM0 1067.7v2.3h32.9v-2.3zM0 1082.4v2.3h32.9v-2.3zM0 1086.1v2.3h32.9v-2.3zM0 1091.6v2.3h32.9v-2.3zM0 1099.0v2.3h32.9v-2.3zM0 1104.5v2.3h32.9v-2.3zM0 1108.2v2.3h32.9v-2.3zM0 1119.2v2.3h32.9v-2.3zM0 1139.4v2.3h32.9v-2.3zM0 1157.8v2.3h32.9v-2.3zM0 1167.0v2.3h32.9v-2.3zM0 1170.6v2.3h32.9v-2.3zM0 1200.1v2.3h32.9v-2.3zM0 1222.1v4.2h32.9v-4.2zM0 1247.8v2.3h32.9v-2.3zM0 1251.5v2.3h32.9v-2.3zM0 1257.0v4.2h32.9v-4.2zM0 1264.4v4.2h32.9v-4.2z"/><path fill="#ffcfbf" d="M0 946.4v2.3h32.9v-2.3zM0 966.6v4.2h32.9v-4.2zM0 972.1v2.3h32.9v-2.3zM0 1238.7v2.3h32.9v-2.3zM0 1330.5v2.3h32.9v-2.3zM0 1334.2v2.3h32.9v-2.3zM0 1341.6v2.3h32.9v-2.3zM0 1345.3v2.3h32.9v-2.3zM0 1348.9v2.3h32.9v-2.3zM0 1371.0v4.2h32.9v-4.2zM0 1376.5v2.3h32.9v-2.3zM0 1413.3v2.3h32.9v-2.3zM0 1416.9v2.3h32.9v-2.3zM0 1420.6v2.3h32.9v-2.3zM0 1431.6v2.3h32.9v-2.3zM0 1439.0v2.3h32.9v-2.3zM0 1442.7v2.3h32.9v-2.3zM0 1455.5v4.2h32.9v-4.2zM0 1473.9v2.3h32.9v-2.3zM0 1479.4v2.3h32.9v-2.3zM0 1492.3v2.3h32.9v-2.3zM0 1503.3v2.3h32.9v-2.3zM0 1510.7v4.2h32.9v-4.2zM0 1516.2v2.3h32.9v-2.3zM0 1569.5v2.3h32.9v-2.3zM0 1575.0v2.3h32.9v-2.3zM0 1589.7v2.3h32.9v-2.3zM0 1602.6v4.2h32.9v-4.2zM0 1624.6v2.3h32.9v-2.3zM0 1628.3v2.3h32.9v-2.3z"/><path fill="#c7ffb4" d="M0 992.4v2.3h32.9v-2.3zM0 1005.2v4.2h32.9v-4.2zM0 1023.6v2.3h32.9v-2.3zM0 1027.3v2.3h32.9v-2.3zM0 1034.6v2.3h32.9v-2.3zM0 1038.3v2.3h32.9v-2.3zM0 1049.3v2.3h32.9v-2.3zM0 1062.2v2.3h32.9v-2.3zM0 1071.4v4.2h32.9v-4.2zM0 1076.9v4.2h32.9v-4.2zM0 1084.3v2.3h32.9v-2.3zM0 1093.4v2.3h32.9v-2.3zM0 1106.3v2.3h32.9v-2.3zM0 1113.7v2.3h32.9v-2.3zM0 1152.3v2.3h32.9v-2.3zM0 1163.3v2.3h32.9v-2.3zM0 1172.5v2.3h32.9v-2.3zM0 1179.8v2.3h32.9v-2.3zM0 1189.0v2.3h32.9v-2.3zM0 1194.5v2.3h32.9v-2.3zM0 1198.2v2.3h32.9v-2.3zM0 1201.9v2.3h32.9v-2.3zM0 1207.4v4.2h32.9v-4.2zM0 1212.9v4.2h32.9v-4.2zM0 1225.8v4.2h32.9v-4.2zM0 1235.0v4.2h32.9v-4.2zM0 1253.4v2.3h32.9v-2.3zM0 1268.1v2.3h32.9v-2.3zM0 1277.2v2.3h32.9v-2.3zM0 1308.5v2.3h32.9v-2.3zM0 1540.1v2.3h32.9v-2.3zM0 1565.8v2.3h32.9v-2.3z"/><path fill="#7dff64" d="M0 1089.8v2.3h32.9v-2.3zM0 1097.1v2.3h32.9v-2.3zM0 1111.8v2.3h32.9v-2.3zM0 1216.6v2.3h32.9v-2.3zM0 1552.9v2.3h32.9v-2.3z"/><path fill="#58ff43" d="M0 1095.3v2.3h32.9v-2.3z"/><path fill="#ff9e81" d="M0 1192.7v2.3h32.9v-2.3zM0 1347.1v2.3h32.9v-2.3zM0 1354.4v2.3h32.9v-2.3zM0 1391.2v2.3h32.9v-2.3zM0 1398.6v2.3h32.9v-2.3zM0 1437.2v2.3h32.9v-2.3zM0 1451.9v2.3h32.9v-2.3zM0 1484.9v2.3h32.9v-2.3zM0 1497.8v2.3h32.9v-2.3z"/><path fill="#ffb7a0" d="M0 1288.3v2.3h32.9v-2.3zM0 1328.7v2.3h32.9v-2.3zM0 1339.7v2.3h32.9v-2.3zM0 1343.4v2.3h32.9v-2.3zM0 1352.6v2.3h32.9v-2.3zM0 1365.5v2.3h32.9v-2.3zM0 1400.4v2.3h32.9v-2.3zM0 1407.7v4.2h32.9v-4.2zM0 1418.8v2.3h32.9v-2.3zM0 1428.0v2.3h32.9v-2.3zM0 1435.3v2.3h32.9v-2.3zM0 1440.8v2.3h32.9v-2.3zM0 1444.5v2.3h32.9v-2.3zM0 1450.0v2.3h32.9v-2.3zM0 1462.9v2.3h32.9v-2.3zM0 1466.6v2.3h32.9v-2.3zM0 1477.6v2.3h32.9v-2.3zM0 1483.1v2.3h32.9v-2.3zM0 1488.6v2.3h32.9v-2.3zM0 1499.6v2.3h32.9v-2.3zM0 1521.7v2.3h32.9v-2.3zM0 1582.4v2.3h32.9v-2.3zM0 1593.4v2.3h32.9v-2.3zM0 1600.7v2.3h32.9v-2.3z"/><path fill="#ff8464" d="M0 1448.2v2.3h32.9v-2.3z"/><path fill="#ff4628" d="M0 1468.4v2.3h32.9v-2.3z"/></g><g transform="translate(78.7,0)"><path fill="#dbffcd" d="M0 917.0v2.3h32.9v-2.3zM0 922.5v2.3h32.9v-2.3zM0 929.9v2.3h32.9v-2.3zM0 940.9v2.3h32.9v-2.3zM0 955.6v2.3h32.9v-2.3zM0 959.3v2.3h32.9v-2.3zM0 963.0v2.3h32.9v-2.3zM0 977.7v2.3h32.9v-2.3zM0 996.0v2.3h32.9v-2.3zM0 1005.2v4.2h32.9v-4.2zM0 1010.7v4.2h32.9v-4.2zM0 1019.9v2.3h32.9v-2.3zM0 1025.4v2.3h32.9v-2.3zM0 1031.0v6.0h32.9v-6.0zM0 1040.1v9.7h32.9v-9.7zM0 1054.8v2.3h32.9v-2.3zM0 1060.4v2.3h32.9v-2.3zM0 1075.1v2.3h32.9v-2.3zM0 1082.4v2.3h32.9v-2.3zM0 1106.3v4.2h32.9v-4.2zM0 1117.3v2.3h32.9v-2.3zM0 1121.0v2.3h32.9v-2.3zM0 1126.5v2.3h32.9v-2.3zM0 1133.9v2.3h32.9v-2.3zM0 1152.3v6.0h32.9v-6.0zM0 1168.8v4.2h32.9v-4.2zM0 1179.8v2.3h32.9v-2.3zM0 1185.3v2.3h32.9v-2.3zM0 1190.9v2.3h32.9v-2.3zM0 1194.5v2.3h32.9v-2.3zM0 1201.9v2.3h32.9v-2.3zM0 1218.4v2.3h32.9v-2.3zM0 1229.5v2.3h32.9v-2.3zM0 1235.0v4.2h32.9v-4.2zM0 1240.5v4.2h32.9v-4.2zM0 1249.7v2.3h32.9v-2.3zM0 1253.4v2.3h32.9v-2.3zM0 1258.9v2.3h32.9v-2.3zM0 1282.8v2.3h32.9v-2.3zM0 1292.0v2.3h32.9v-2.3zM0 1301.1v2.3h32.9v-2.3zM0 1337.9v2.3h32.9v-2.3zM0 1363.6v2.3h32.9v-2.3zM0 1387.5v2.3h32.9v-2.3zM0 1532.7v2.3h32.9v-2.3zM0 1543.8v2.3h32.9v-2.3zM0 1558.5v2.3h32.9v-2.3zM0 1565.8v4.2h32.9v-4.2zM0 1573.2v2.3h32.9v-2.3zM0 1578.7v2.3h32.9v-2.3zM0 1598.9v2.3h32.9v-2.3zM0 1630.1v2.3h32.9v-2.3zM0 1639.3v2.3h32.9v-2.3zM0 1646.7v2.3h32.9v-2.3zM0 1650.4v1.8h32.9v-1.8z"/><path fill="#ffcfbf" d="M0 918.8v2.3h32.9v-2.3zM0 931.7v2.3h32.9v-2.3zM0 966.6v2.3h32.9v-2.3zM0 999.7v2.3h32.9v-2.3zM0 1124.7v2.3h32.9v-2.3zM0 1135.7v2.3h32.9v-2.3zM0 1238.7v2.3h32.9v-2.3zM0 1288.3v2.3h32.9v-2.3zM0 1310.3v2.3h32.9v-2.3zM0 1330.5v4.2h32.9v-4.2zM0 1336.1v2.3h32.9v-2.3zM0 1339.7v4.2h32.9v-4.2zM0 1347.1v2.3h32.9v-2.3zM0 1354.4v6.0h32.9v-6.0zM0 1365.5v2.3h32.9v-2.3zM0 1374.7v2.3h32.9v-2.3zM0 1389.4v2.3h32.9v-2.3zM0 1413.3v2.3h32.9v-2.3zM0 1416.9v2.3h32.9v-2.3zM0 1422.5v2.3h32.9v-2.3zM0 1431.6v2.3h32.9v-2.3zM0 1442.7v4.2h32.9v-4.2zM0 1455.5v2.3h32.9v-2.3zM0 1461.0v2.3h32.9v-2.3zM0 1468.4v4.2h32.9v-4.2zM0 1483.1v2.3h32.9v-2.3zM0 1492.3v2.3h32.9v-2.3zM0 1508.8v2.3h32.9v-2.3zM0 1516.2v2.3h32.9v-2.3zM0 1519.9v2.3h32.9v-2.3zM0 1530.9v2.3h32.9v-2.3zM0 1582.4v4.2h32.9v-4.2zM0 1593.4v2.3h32.9v-2.3zM0 1602.6v4.2h32.9v-4.2zM0 1626.5v2.3h32.9v-2.3z"/><path fill="#edffe6" d="M0 920.7v2.3h32.9v-2.3zM0 937.2v2.3h32.9v-2.3zM0 957.4v2.3h32.9v-2.3zM0 964.8v2.3h32.9v-2.3zM0 981.3v2.3h32.9v-2.3zM0 986.8v2.3h32.9v-2.3zM0 990.5v2.3h32.9v-2.3zM0 1014.4v2.3h32.9v-2.3zM0 1021.8v2.3h32.9v-2.3zM0 1029.1v2.3h32.9v-2.3zM0 1115.5v2.3h32.9v-2.3zM0 1128.4v6.0h32.9v-6.0zM0 1137.6v2.3h32.9v-2.3zM0 1144.9v4.2h32.9v-4.2zM0 1150.4v2.3h32.9v-2.3zM0 1167.0v2.3h32.9v-2.3zM0 1172.5v2.3h32.9v-2.3zM0 1181.7v4.2h32.9v-4.2zM0 1198.2v2.3h32.9v-2.3zM0 1203.7v2.3h32.9v-2.3zM0 1211.1v2.3h32.9v-2.3zM0 1233.1v2.3h32.9v-2.3zM0 1244.2v4.2h32.9v-4.2zM0 1271.7v6.0h32.9v-6.0zM0 1279.1v4.2h32.9v-4.2zM0 1308.5v2.3h32.9v-2.3zM0 1312.2v2.3h32.9v-2.3zM0 1317.7v2.3h32.9v-2.3zM0 1367.3v2.3h32.9v-2.3zM0 1405.9v2.3h32.9v-2.3zM0 1446.3v2.3h32.9v-2.3zM0 1481.3v2.3h32.9v-2.3zM0 1507.0v2.3h32.9v-2.3zM0 1523.5v2.3h32.9v-2.3zM0 1541.9v2.3h32.9v-2.3zM0 1545.6v2.3h32.9v-2.3zM0 1549.3v2.3h32.9v-2.3zM0 1556.6v2.3h32.9v-2.3zM0 1560.3v2.3h32.9v-2.3zM0 1564.0v2.3h32.9v-2.3zM0 1575.0v4.2h32.9v-4.2zM0 1586.0v2.3h32.9v-2.3zM0 1595.2v2.3h32.9v-2.3zM0 1613.6v2.3h32.9v-2.3zM0 1621.0v4.2h32.9v-4.2zM0 1632.0v2.3h32.9v-2.3zM0 1641.2v2.3h32.9v-2.3zM0 1644.8v2.3h32.9v-2.3z"/><path fill="#ff9e81" d="M0 926.2v2.3h32.9v-2.3zM0 1343.4v4.2h32.9v-4.2zM0 1372.8v2.3h32.9v-2.3zM0 1398.6v2.3h32.9v-2.3zM0 1407.7v2.3h32.9v-2.3zM0 1448.2v2.3h32.9v-2.3zM0 1451.9v2.3h32.9v-2.3zM0 1462.9v2.3h32.9v-2.3zM0 1466.6v2.3h32.9v-2.3zM0 1484.9v2.3h32.9v-2.3zM0 1521.7v2.3h32.9v-2.3zM0 1624.6v2.3h32.9v-2.3z"/><path fill="#c7ffb4" d="M0 933.5v2.3h32.9v-2.3zM0 944.6v2.3h32.9v-2.3zM0 979.5v2.3h32.9v-2.3zM0 985.0v2.3h32.9v-2.3zM0 988.7v2.3h32.9v-2.3zM0 994.2v2.3h32.9v-2.3zM0 1018.1v2.3h32.9v-2.3zM0 1036.5v4.2h32.9v-4.2zM0 1049.3v2.3h32.9v-2.3zM0 1062.2v2.3h32.9v-2.3zM0 1065.9v2.3h32.9v-2.3zM0 1071.4v2.3h32.9v-2.3zM0 1076.9v6.0h32.9v-6.0zM0 1084.3v2.3h32.9v-2.3zM0 1091.6v4.2h32.9v-4.2zM0 1097.1v2.3h32.9v-2.3zM0 1102.6v4.2h32.9v-4.2zM0 1113.7v2.3h32.9v-2.3zM0 1119.2v2.3h32.9v-2.3zM0 1148.6v2.3h32.9v-2.3zM0 1161.5v2.3h32.9v-2.3zM0 1209.2v2.3h32.9v-2.3zM0 1214.8v2.3h32.9v-2.3zM0 1225.8v4.2h32.9v-4.2zM0 1231.3v2.3h32.9v-2.3zM0 1247.8v2.3h32.9v-2.3zM0 1257.0v2.3h32.9v-2.3zM0 1260.7v2.3h32.9v-2.3zM0 1264.4v6.0h32.9v-6.0zM0 1277.2v2.3h32.9v-2.3zM0 1284.6v2.3h32.9v-2.3zM0 1376.5v2.3h32.9v-2.3zM0 1527.2v2.3h32.9v-2.3zM0 1540.1v2.3h32.9v-2.3zM0 1552.9v2.3h32.9v-2.3zM0 1609.9v2.3h32.9v-2.3z"/><path fill="#7dff64" d="M0 935.4v2.3h32.9v-2.3zM0 1058.5v2.3h32.9v-2.3zM0 1069.6v2.3h32.9v-2.3zM0 1089.8v2.3h32.9v-2.3zM0 1216.6v2.3h32.9v-2.3z"/><path fill="#ffe7de" d="M0 939.1v2.3h32.9v-2.3zM0 942.7v2.3h32.9v-2.3zM0 961.1v2.3h32.9v-2.3zM0 968.5v2.3h32.9v-2.3zM0 972.1v6.0h32.9v-6.0zM0 1001.5v2.3h32.9v-2.3zM0 1141.2v2.3h32.9v-2.3zM0 1295.6v2.3h32.9v-2.3zM0 1303.0v6.0h32.9v-6.0zM0 1315.8v2.3h32.9v-2.3zM0 1321.4v2.3h32.9v-2.3zM0 1325.0v2.3h32.9v-2.3zM0 1348.9v6.0h32.9v-6.0zM0 1361.8v2.3h32.9v-2.3zM0 1369.1v2.3h32.9v-2.3zM0 1382.0v2.3h32.9v-2.3zM0 1393.0v2.3h32.9v-2.3zM0 1404.1v2.3h32.9v-2.3zM0 1411.4v2.3h32.9v-2.3zM0 1415.1v2.3h32.9v-2.3zM0 1424.3v2.3h32.9v-2.3zM0 1428.0v4.2h32.9v-4.2zM0 1433.5v2.3h32.9v-2.3zM0 1453.7v2.3h32.9v-2.3zM0 1472.1v2.3h32.9v-2.3zM0 1475.8v4.2h32.9v-4.2zM0 1496.0v2.3h32.9v-2.3zM0 1501.5v2.3h32.9v-2.3zM0 1505.2v2.3h32.9v-2.3zM0 1518.0v2.3h32.9v-2.3zM0 1525.4v2.3h32.9v-2.3zM0 1551.1v2.3h32.9v-2.3zM0 1569.5v4.2h32.9v-4.2zM0 1587.9v2.3h32.9v-2.3zM0 1591.5v2.3h32.9v-2.3zM0 1608.1v2.3h32.9v-2.3zM0 1615.4v2.3h32.9v-2.3zM0 1635.7v2.3h32.9v-2.3zM0 1648.5v2.3h32.9v-2.3z"/><path fill="#ffb7a0" d="M0 946.4v2.3h32.9v-2.3zM0 1328.7v2.3h32.9v-2.3zM0 1334.2v2.3h32.9v-2.3zM0 1371.0v2.3h32.9v-2.3zM0 1391.2v2.3h32.9v-2.3zM0 1396.7v2.3h32.9v-2.3zM0 1400.4v2.3h32.9v-2.3zM0 1409.6v2.3h32.9v-2.3zM0 1418.8v4.2h32.9v-4.2zM0 1426.1v2.3h32.9v-2.3zM0 1435.3v2.3h32.9v-2.3zM0 1439.0v4.2h32.9v-4.2zM0 1450.0v2.3h32.9v-2.3zM0 1473.9v2.3h32.9v-2.3zM0 1488.6v2.3h32.9v-2.3zM0 1497.8v4.2h32.9v-4.2zM0 1503.3v2.3h32.9v-2.3zM0 1510.7v4.2h32.9v-4.2zM0 1600.7v2.3h32.9v-2.3zM0 1628.3v2.3h32.9v-2.3z"/><path fill="#b1ff9a" d="M0 948.2v2.3h32.9v-2.3zM0 953.8v2.3h32.9v-2.3zM0 970.3v2.3h32.9v-2.3zM0 992.4v2.3h32.9v-2.3zM0 1023.6v2.3h32.9v-2.3zM0 1027.3v2.3h32.9v-2.3zM0 1056.7v2.3h32.9v-2.3zM0 1064.0v2.3h32.9v-2.3zM0 1067.7v2.3h32.9v-2.3zM0 1073.2v2.3h32.9v-2.3zM0 1087.9v2.3h32.9v-2.3zM0 1100.8v2.3h32.9v-2.3zM0 1157.8v4.2h32.9v-4.2zM0 1163.3v2.3h32.9v-2.3zM0 1174.3v4.2h32.9v-4.2zM0 1189.0v2.3h32.9v-2.3zM0 1200.1v2.3h32.9v-2.3zM0 1207.4v2.3h32.9v-2.3zM0 1212.9v2.3h32.9v-2.3zM0 1220.3v6.0h32.9v-6.0zM0 1251.5v2.3h32.9v-2.3zM0 1255.2v2.3h32.9v-2.3zM0 1486.8v2.3h32.9v-2.3z"/><path fill="#99ff80" d="M0 1086.1v2.3h32.9v-2.3zM0 1095.3v2.3h32.9v-2.3zM0 1099.0v2.3h32.9v-2.3zM0 1110.0v4.2h32.9v-4.2zM0 1139.4v2.3h32.9v-2.3z"/><path fill="#ff8464" d="M0 1314.0v2.3h32.9v-2.3zM0 1437.2v2.3h32.9v-2.3zM0 1457.4v2.3h32.9v-2.3z"/></g><g transform="translate(111.4,0)"><path fill="#dbffcd" d="M0 917.0v2.3h32.9v-2.3zM0 920.7v2.3h32.9v-2.3zM0 929.9v2.3h32.9v-2.3zM0 937.2v2.3h32.9v-2.3zM0 940.9v2.3h32.9v-2.3zM0 955.6v2.3h32.9v-2.3zM0 963.0v2.3h32.9v-2.3zM0 981.3v2.3h32.9v-2.3zM0 997.9v2.3h32.9v-2.3zM0 1003.4v6.0h32.9v-6.0zM0 1010.7v6.0h32.9v-6.0zM0 1021.8v4.2h32.9v-4.2zM0 1031.0v6.0h32.9v-6.0zM0 1040.1v2.3h32.9v-2.3zM0 1043.8v6.0h32.9v-6.0zM0 1054.8v2.3h32.9v-2.3zM0 1080.6v2.3h32.9v-2.3zM0 1106.3v2.3h32.9v-2.3zM0 1117.3v2.3h32.9v-2.3zM0 1126.5v4.2h32.9v-4.2zM0 1132.0v2.3h32.9v-2.3zM0 1137.6v2.3h32.9v-2.3zM0 1148.6v6.0h32.9v-6.0zM0 1161.5v2.3h32.9v-2.3zM0 1170.6v2.3h32.9v-2.3zM0 1183.5v4.2h32.9v-4.2zM0 1190.9v2.3h32.9v-2.3zM0 1194.5v2.3h32.9v-2.3zM0 1201.9v6.0h32.9v-6.0zM0 1218.4v2.3h32.9v-2.3zM0 1225.8v2.3h32.9v-2.3zM0 1229.5v4.2h32.9v-4.2zM0 1235.0v2.3h32.9v-2.3zM0 1242.3v2.3h32.9v-2.3zM0 1246.0v2.3h32.9v-2.3zM0 1253.4v2.3h32.9v-2.3zM0 1262.5v2.3h32.9v-2.3zM0 1279.1v4.2h32.9v-4.2zM0 1284.6v2.3h32.9v-2.3zM0 1290.1v4.2h32.9v-4.2zM0 1301.1v2.3h32.9v-2.3zM0 1337.9v2.3h32.9v-2.3zM0 1393.0v2.3h32.9v-2.3zM0 1494.1v2.3h32.9v-2.3zM0 1532.7v2.3h32.9v-2.3zM0 1541.9v2.3h32.9v-2.3zM0 1545.6v2.3h32.9v-2.3zM0 1576.8v2.3h32.9v-2.3zM0 1641.2v2.3h32.9v-2.3zM0 1646.7v2.3h32.9v-2.3zM0 1650.4v1.8h32.9v-1.8z"/><path fill="#c7ffb4" d="M0 922.5v2.3h32.9v-2.3zM0 933.5v2.3h32.9v-2.3zM0 944.6v2.3h32.9v-2.3zM0 953.8v2.3h32.9v-2.3zM0 959.3v2.3h32.9v-2.3zM0 964.8v2.3h32.9v-2.3zM0 979.5v2.3h32.9v-2.3zM0 985.0v6.0h32.9v-6.0zM0 996.0v2.3h32.9v-2.3zM0 1036.5v4.2h32.9v-4.2zM0 1042.0v2.3h32.9v-2.3zM0 1049.3v2.3h32.9v-2.3zM0 1065.9v2.3h32.9v-2.3zM0 1071.4v2.3h32.9v-2.3zM0 1075.1v6.0h32.9v-6.0zM0 1082.4v2.3h32.9v-2.3zM0 1086.1v2.3h32.9v-2.3zM0 1091.6v2.3h32.9v-2.3zM0 1108.2v2.3h32.9v-2.3zM0 1135.7v2.3h32.9v-2.3zM0 1155.9v4.2h32.9v-4.2zM0 1168.8v2.3h32.9v-2.3zM0 1172.5v4.2h32.9v-4.2zM0 1181.7v2.3h32.9v-2.3zM0 1214.8v2.3h32.9v-2.3zM0 1222.1v2.3h32.9v-2.3zM0 1227.6v2.3h32.9v-2.3zM0 1240.5v2.3h32.9v-2.3zM0 1255.2v2.3h32.9v-2.3zM0 1277.2v2.3h32.9v-2.3zM0 1308.5v2.3h32.9v-2.3zM0 1507.0v2.3h32.9v-2.3zM0 1527.2v2.3h32.9v-2.3zM0 1558.5v4.2h32.9v-4.2zM0 1564.0v2.3h32.9v-2.3zM0 1586.0v2.3h32.9v-2.3zM0 1630.1v2.3h32.9v-2.3z"/><path fill="#edffe6" d="M0 924.4v4.2h32.9v-4.2zM0 939.1v2.3h32.9v-2.3zM0 951.9v2.3h32.9v-2.3zM0 957.4v2.3h32.9v-2.3zM0 975.8v2.3h32.9v-2.3zM0 1016.3v2.3h32.9v-2.3zM0 1019.9v2.3h32.9v-2.3zM0 1029.1v2.3h32.9v-2.3zM0 1115.5v2.3h32.9v-2.3zM0 1121.0v4.2h32.9v-4.2zM0 1130.2v2.3h32.9v-2.3zM0 1143.1v4.2h32.9v-4.2zM0 1167.0v2.3h32.9v-2.3zM0 1192.7v2.3h32.9v-2.3zM0 1196.4v2.3h32.9v-2.3zM0 1211.1v2.3h32.9v-2.3zM0 1233.1v2.3h32.9v-2.3zM0 1244.2v2.3h32.9v-2.3zM0 1249.7v2.3h32.9v-2.3zM0 1268.1v2.3h32.9v-2.3zM0 1271.7v2.3h32.9v-2.3zM0 1275.4v2.3h32.9v-2.3zM0 1282.8v2.3h32.9v-2.3zM0 1297.5v4.2h32.9v-4.2zM0 1312.2v2.3h32.9v-2.3zM0 1321.4v2.3h32.9v-2.3zM0 1325.0v2.3h32.9v-2.3zM0 1363.6v2.3h32.9v-2.3zM0 1367.3v4.2h32.9v-4.2zM0 1378.3v2.3h32.9v-2.3zM0 1385.7v4.2h32.9v-4.2zM0 1415.1v2.3h32.9v-2.3zM0 1472.1v2.3h32.9v-2.3zM0 1481.3v2.3h32.9v-2.3zM0 1490.5v2.3h32.9v-2.3zM0 1514.3v2.3h32.9v-2.3zM0 1518.0v2.3h32.9v-2.3zM0 1523.5v2.3h32.9v-2.3zM0 1534.6v4.2h32.9v-4.2zM0 1547.4v4.2h32.9v-4.2zM0 1554.8v4.2h32.9v-4.2zM0 1562.1v2.3h32.9v-2.3zM0 1565.8v4.2h32.9v-4.2zM0 1571.3v4.2h32.9v-4.2zM0 1578.7v2.3h32.9v-2.3zM0 1591.5v2.3h32.9v-2.3zM0 1595.2v2.3h32.9v-2.3zM0 1598.9v2.3h32.9v-2.3zM0 1609.9v2.3h32.9v-2.3zM0 1613.6v2.3h32.9v-2.3zM0 1621.0v4.2h32.9v-4.2zM0 1639.3v2.3h32.9v-2.3z"/><path fill="#7dff64" d="M0 935.4v2.3h32.9v-2.3zM0 1058.5v2.3h32.9v-2.3zM0 1264.4v2.3h32.9v-2.3z"/><path fill="#ffb7a0" d="M0 942.7v2.3h32.9v-2.3zM0 1334.2v2.3h32.9v-2.3zM0 1354.4v2.3h32.9v-2.3zM0 1371.0v4.2h32.9v-4.2zM0 1391.2v2.3h32.9v-2.3zM0 1409.6v2.3h32.9v-2.3zM0 1413.3v2.3h32.9v-2.3zM0 1416.9v2.3h32.9v-2.3zM0 1420.6v2.3h32.9v-2.3zM0 1435.3v2.3h32.9v-2.3zM0 1440.8v2.3h32.9v-2.3zM0 1457.4v2.3h32.9v-2.3zM0 1473.9v2.3h32.9v-2.3zM0 1497.8v4.2h32.9v-4.2zM0 1503.3v2.3h32.9v-2.3zM0 1600.7v2.3h32.9v-2.3z"/><path fill="#ffcfbf" d="M0 946.4v2.3h32.9v-2.3zM0 966.6v2.3h32.9v-2.3zM0 999.7v2.3h32.9v-2.3zM0 1288.3v2.3h32.9v-2.3zM0 1328.7v4.2h32.9v-4.2zM0 1339.7v9.7h32.9v-9.7zM0 1352.6v2.3h32.9v-2.3zM0 1358.1v2.3h32.9v-2.3zM0 1376.5v2.3h32.9v-2.3zM0 1396.7v2.3h32.9v-2.3zM0 1407.7v2.3h32.9v-2.3zM0 1422.5v2.3h32.9v-2.3zM0 1428.0v4.2h32.9v-4.2zM0 1442.7v2.3h32.9v-2.3zM0 1455.5v2.3h32.9v-2.3zM0 1466.6v2.3h32.9v-2.3zM0 1470.2v2.3h32.9v-2.3zM0 1484.9v2.3h32.9v-2.3zM0 1492.3v2.3h32.9v-2.3zM0 1508.8v4.2h32.9v-4.2zM0 1519.9v4.2h32.9v-4.2zM0 1584.2v2.3h32.9v-2.3zM0 1604.4v2.3h32.9v-2.3zM0 1628.3v2.3h32.9v-2.3z"/><path fill="#b1ff9a" d="M0 948.2v2.3h32.9v-2.3zM0 970.3v2.3h32.9v-2.3zM0 992.4v2.3h32.9v-2.3zM0 1018.1v2.3h32.9v-2.3zM0 1025.4v4.2h32.9v-4.2zM0 1060.4v4.2h32.9v-4.2zM0 1067.7v4.2h32.9v-4.2zM0 1073.2v2.3h32.9v-2.3zM0 1084.3v2.3h32.9v-2.3zM0 1089.8v2.3h32.9v-2.3zM0 1099.0v7.9h32.9v-7.9zM0 1113.7v2.3h32.9v-2.3zM0 1119.2v2.3h32.9v-2.3zM0 1133.9v2.3h32.9v-2.3zM0 1163.3v2.3h32.9v-2.3zM0 1176.2v2.3h32.9v-2.3zM0 1179.8v2.3h32.9v-2.3zM0 1189.0v2.3h32.9v-2.3zM0 1198.2v4.2h32.9v-4.2zM0 1207.4v2.3h32.9v-2.3zM0 1212.9v2.3h32.9v-2.3zM0 1220.3v2.3h32.9v-2.3zM0 1223.9v2.3h32.9v-2.3zM0 1236.8v2.3h32.9v-2.3zM0 1257.0v6.0h32.9v-6.0zM0 1540.1v2.3h32.9v-2.3zM0 1543.8v2.3h32.9v-2.3zM0 1552.9v2.3h32.9v-2.3z"/><path fill="#ffe7de" d="M0 968.5v2.3h32.9v-2.3zM0 974.0v2.3h32.9v-2.3zM0 983.2v2.3h32.9v-2.3zM0 1141.2v2.3h32.9v-2.3zM0 1238.7v2.3h32.9v-2.3zM0 1304.8v4.2h32.9v-4.2zM0 1310.3v2.3h32.9v-2.3zM0 1314.0v4.2h32.9v-4.2zM0 1319.5v2.3h32.9v-2.3zM0 1336.1v2.3h32.9v-2.3zM0 1348.9v2.3h32.9v-2.3zM0 1360.0v2.3h32.9v-2.3zM0 1365.5v2.3h32.9v-2.3zM0 1374.7v2.3h32.9v-2.3zM0 1382.0v2.3h32.9v-2.3zM0 1389.4v2.3h32.9v-2.3zM0 1394.9v2.3h32.9v-2.3zM0 1418.8v2.3h32.9v-2.3zM0 1424.3v4.2h32.9v-4.2zM0 1437.2v4.2h32.9v-4.2zM0 1453.7v2.3h32.9v-2.3zM0 1464.7v2.3h32.9v-2.3zM0 1468.4v2.3h32.9v-2.3zM0 1475.8v2.3h32.9v-2.3zM0 1479.4v2.3h32.9v-2.3zM0 1488.6v2.3h32.9v-2.3zM0 1496.0v2.3h32.9v-2.3zM0 1501.5v2.3h32.9v-2.3zM0 1505.2v2.3h32.9v-2.3zM0 1512.5v2.3h32.9v-2.3zM0 1516.2v2.3h32.9v-2.3zM0 1525.4v2.3h32.9v-2.3zM0 1551.1v2.3h32.9v-2.3zM0 1589.7v2.3h32.9v-2.3zM0 1593.4v2.3h32.9v-2.3zM0 1602.6v2.3h32.9v-2.3zM0 1611.8v2.3h32.9v-2.3zM0 1617.3v2.3h32.9v-2.3zM0 1633.8v2.3h32.9v-2.3zM0 1637.5v2.3h32.9v-2.3zM0 1648.5v2.3h32.9v-2.3z"/><path fill="#0f0" d="M0 994.2v2.3h32.9v-2.3z"/><path fill="#99ff80" d="M0 1056.7v2.3h32.9v-2.3zM0 1064.0v2.3h32.9v-2.3zM0 1087.9v2.3h32.9v-2.3zM0 1093.4v2.3h32.9v-2.3zM0 1097.1v2.3h32.9v-2.3zM0 1110.0v4.2h32.9v-4.2zM0 1159.6v2.3h32.9v-2.3zM0 1209.2v2.3h32.9v-2.3zM0 1247.8v2.3h32.9v-2.3zM0 1251.5v2.3h32.9v-2.3zM0 1266.2v2.3h32.9v-2.3zM0 1538.2v2.3h32.9v-2.3z"/><path fill="#58ff43" d="M0 1095.3v2.3h32.9v-2.3zM0 1139.4v2.3h32.9v-2.3zM0 1216.6v2.3h32.9v-2.3z"/><path fill="#ff9e81" d="M0 1317.7v2.3h32.9v-2.3zM0 1398.6v2.3h32.9v-2.3zM0 1450.0v4.2h32.9v-4.2zM0 1462.9v2.3h32.9v-2.3zM0 1483.1v2.3h32.9v-2.3zM0 1624.6v2.3h32.9v-2.3z"/><path fill="#f00" d="M0 1448.2v2.3h32.9v-2.3z"/></g><g transform="translate(144.1,0)"><path fill="#dbffcd" d="M0 917.0v2.3h32.9v-2.3zM0 922.5v4.2h32.9v-4.2zM0 940.9v2.3h32.9v-2.3zM0 955.6v2.3h32.9v-2.3zM0 959.3v2.3h32.9v-2.3zM0 975.8v2.3h32.9v-2.3zM0 983.2v2.3h32.9v-2.3zM0 996.0v2.3h32.9v-2.3zM0 1007.1v2.3h32.9v-2.3zM0 1010.7v2.3h32.9v-2.3zM0 1016.3v2.3h32.9v-2.3zM0 1019.9v4.2h32.9v-4.2zM0 1029.1v2.3h32.9v-2.3zM0 1040.1v2.3h32.9v-2.3zM0 1047.5v2.3h32.9v-2.3zM0 1051.2v2.3h32.9v-2.3zM0 1060.4v2.3h32.9v-2.3zM0 1115.5v2.3h32.9v-2.3zM0 1121.0v4.2h32.9v-4.2zM0 1126.5v2.3h32.9v-2.3zM0 1130.2v4.2h32.9v-4.2zM0 1137.6v2.3h32.9v-2.3zM0 1150.4v4.2h32.9v-4.2zM0 1165.1v2.3h32.9v-2.3zM0 1172.5v2.3h32.9v-2.3zM0 1185.3v4.2h32.9v-4.2zM0 1192.7v2.3h32.9v-2.3zM0 1196.4v2.3h32.9v-2.3zM0 1205.6v2.3h32.9v-2.3zM0 1211.1v2.3h32.9v-2.3zM0 1268.1v2.3h32.9v-2.3zM0 1277.2v2.3h32.9v-2.3zM0 1293.8v4.2h32.9v-4.2zM0 1301.1v4.2h32.9v-4.2zM0 1312.2v2.3h32.9v-2.3zM0 1325.0v2.3h32.9v-2.3zM0 1337.9v2.3h32.9v-2.3zM0 1369.1v2.3h32.9v-2.3zM0 1507.0v2.3h32.9v-2.3zM0 1532.7v7.9h32.9v-7.9zM0 1541.9v6.0h32.9v-6.0zM0 1549.3v2.3h32.9v-2.3zM0 1556.6v2.3h32.9v-2.3zM0 1565.8v2.3h32.9v-2.3zM0 1571.3v2.3h32.9v-2.3zM0 1591.5v2.3h32.9v-2.3zM0 1598.9v2.3h32.9v-2.3zM0 1608.1v4.2h32.9v-4.2zM0 1621.0v2.3h32.9v-2.3zM0 1641.2v2.3h32.9v-2.3z"/><path fill="#b1ff9a" d="M0 920.7v2.3h32.9v-2.3zM0 933.5v2.3h32.9v-2.3zM0 948.2v2.3h32.9v-2.3zM0 963.0v2.3h32.9v-2.3zM0 970.3v2.3h32.9v-2.3zM0 985.0v2.3h32.9v-2.3zM0 992.4v2.3h32.9v-2.3zM0 1018.1v2.3h32.9v-2.3zM0 1023.6v6.0h32.9v-6.0zM0 1034.6v2.3h32.9v-2.3zM0 1043.8v2.3h32.9v-2.3zM0 1049.3v2.3h32.9v-2.3zM0 1073.2v7.9h32.9v-7.9zM0 1091.6v4.2h32.9v-4.2zM0 1104.5v4.2h32.9v-4.2zM0 1113.7v2.3h32.9v-2.3zM0 1133.9v2.3h32.9v-2.3zM0 1146.8v4.2h32.9v-4.2zM0 1155.9v2.3h32.9v-2.3zM0 1174.3v4.2h32.9v-4.2zM0 1198.2v2.3h32.9v-2.3zM0 1209.2v2.3h32.9v-2.3zM0 1212.9v2.3h32.9v-2.3zM0 1220.3v4.2h32.9v-4.2zM0 1231.3v2.3h32.9v-2.3zM0 1240.5v2.3h32.9v-2.3zM0 1247.8v2.3h32.9v-2.3zM0 1257.0v4.2h32.9v-4.2zM0 1266.2v2.3h32.9v-2.3zM0 1279.1v2.3h32.9v-2.3zM0 1284.6v2.3h32.9v-2.3zM0 1527.2v2.3h32.9v-2.3zM0 1552.9v2.3h32.9v-2.3zM0 1578.7v2.3h32.9v-2.3zM0 1630.1v2.3h32.9v-2.3zM0 1646.7v2.3h32.9v-2.3z"/><path fill="#edffe6" d="M0 926.2v4.2h32.9v-4.2zM0 931.7v2.3h32.9v-2.3zM0 942.7v2.3h32.9v-2.3zM0 950.1v4.2h32.9v-4.2zM0 957.4v2.3h32.9v-2.3zM0 977.7v2.3h32.9v-2.3zM0 990.5v2.3h32.9v-2.3zM0 997.9v2.3h32.9v-2.3zM0 1003.4v2.3h32.9v-2.3zM0 1014.4v2.3h32.9v-2.3zM0 1053.0v2.3h32.9v-2.3zM0 1128.4v2.3h32.9v-2.3zM0 1141.2v2.3h32.9v-2.3zM0 1144.9v2.3h32.9v-2.3zM0 1154.1v2.3h32.9v-2.3zM0 1167.0v2.3h32.9v-2.3zM0 1183.5v2.3h32.9v-2.3zM0 1194.5v2.3h32.9v-2.3zM0 1203.7v2.3h32.9v-2.3zM0 1233.1v2.3h32.9v-2.3zM0 1275.4v2.3h32.9v-2.3zM0 1280.9v2.3h32.9v-2.3zM0 1290.1v4.2h32.9v-4.2zM0 1299.3v2.3h32.9v-2.3zM0 1308.5v2.3h32.9v-2.3zM0 1315.8v4.2h32.9v-4.2zM0 1321.4v2.3h32.9v-2.3zM0 1360.0v2.3h32.9v-2.3zM0 1363.6v2.3h32.9v-2.3zM0 1367.3v2.3h32.9v-2.3zM0 1380.2v2.3h32.9v-2.3zM0 1383.9v2.3h32.9v-2.3zM0 1402.2v4.2h32.9v-4.2zM0 1415.1v2.3h32.9v-2.3zM0 1433.5v2.3h32.9v-2.3zM0 1464.7v2.3h32.9v-2.3zM0 1472.1v2.3h32.9v-2.3zM0 1481.3v2.3h32.9v-2.3zM0 1486.8v2.3h32.9v-2.3zM0 1494.1v2.3h32.9v-2.3zM0 1525.4v2.3h32.9v-2.3zM0 1554.8v2.3h32.9v-2.3zM0 1567.7v2.3h32.9v-2.3zM0 1573.2v2.3h32.9v-2.3zM0 1587.9v2.3h32.9v-2.3zM0 1615.4v4.2h32.9v-4.2zM0 1622.8v2.3h32.9v-2.3zM0 1626.5v2.3h32.9v-2.3zM0 1632.0v4.2h32.9v-4.2zM0 1639.3v2.3h32.9v-2.3zM0 1644.8v2.3h32.9v-2.3zM0 1650.4v1.8h32.9v-1.8z"/><path fill="#c7ffb4" d="M0 929.9v2.3h32.9v-2.3zM0 937.2v2.3h32.9v-2.3zM0 953.8v2.3h32.9v-2.3zM0 964.8v2.3h32.9v-2.3zM0 979.5v4.2h32.9v-4.2zM0 988.7v2.3h32.9v-2.3zM0 994.2v2.3h32.9v-2.3zM0 1005.2v2.3h32.9v-2.3zM0 1031.0v4.2h32.9v-4.2zM0 1036.5v4.2h32.9v-4.2zM0 1042.0v2.3h32.9v-2.3zM0 1045.7v2.3h32.9v-2.3zM0 1054.8v2.3h32.9v-2.3zM0 1062.2v2.3h32.9v-2.3zM0 1071.4v2.3h32.9v-2.3zM0 1080.6v4.2h32.9v-4.2zM0 1102.6v2.3h32.9v-2.3zM0 1108.2v2.3h32.9v-2.3zM0 1117.3v2.3h32.9v-2.3zM0 1135.7v2.3h32.9v-2.3zM0 1143.1v2.3h32.9v-2.3zM0 1161.5v4.2h32.9v-4.2zM0 1168.8v4.2h32.9v-4.2zM0 1179.8v4.2h32.9v-4.2zM0 1189.0v4.2h32.9v-4.2zM0 1200.1v4.2h32.9v-4.2zM0 1214.8v2.3h32.9v-2.3zM0 1218.4v2.3h32.9v-2.3zM0 1225.8v6.0h32.9v-6.0zM0 1235.0v4.2h32.9v-4.2zM0 1242.3v6.0h32.9v-6.0zM0 1249.7v2.3h32.9v-2.3zM0 1253.4v4.2h32.9v-4.2zM0 1271.7v2.3h32.9v-2.3zM0 1282.8v2.3h32.9v-2.3zM0 1297.5v2.3h32.9v-2.3zM0 1385.7v4.2h32.9v-4.2zM0 1540.1v2.3h32.9v-2.3zM0 1558.5v4.2h32.9v-4.2zM0 1564.0v2.3h32.9v-2.3zM0 1576.8v2.3h32.9v-2.3zM0 1586.0v2.3h32.9v-2.3zM0 1595.2v2.3h32.9v-2.3z"/><path fill="#7dff64" d="M0 935.4v2.3h32.9v-2.3zM0 1058.5v2.3h32.9v-2.3zM0 1067.7v2.3h32.9v-2.3zM0 1087.9v4.2h32.9v-4.2zM0 1110.0v2.3h32.9v-2.3zM0 1139.4v2.3h32.9v-2.3zM0 1159.6v2.3h32.9v-2.3zM0 1216.6v2.3h32.9v-2.3zM0 1264.4v2.3h32.9v-2.3z"/><path fill="#99ff80" d="M0 944.6v2.3h32.9v-2.3zM0 1056.7v2.3h32.9v-2.3zM0 1064.0v4.2h32.9v-4.2zM0 1069.6v2.3h32.9v-2.3zM0 1084.3v4.2h32.9v-4.2zM0 1097.1v6.0h32.9v-6.0zM0 1111.8v2.3h32.9v-2.3zM0 1119.2v2.3h32.9v-2.3zM0 1157.8v2.3h32.9v-2.3zM0 1207.4v2.3h32.9v-2.3zM0 1223.9v2.3h32.9v-2.3zM0 1251.5v2.3h32.9v-2.3zM0 1260.7v2.3h32.9v-2.3z"/><path fill="#ffcfbf" d="M0 946.4v2.3h32.9v-2.3zM0 972.1v2.3h32.9v-2.3zM0 1273.6v2.3h32.9v-2.3zM0 1288.3v2.3h32.9v-2.3zM0 1328.7v2.3h32.9v-2.3zM0 1341.6v2.3h32.9v-2.3zM0 1352.6v2.3h32.9v-2.3zM0 1371.0v2.3h32.9v-2.3zM0 1376.5v2.3h32.9v-2.3zM0 1389.4v4.2h32.9v-4.2zM0 1400.4v2.3h32.9v-2.3zM0 1407.7v4.2h32.9v-4.2zM0 1420.6v2.3h32.9v-2.3zM0 1424.3v7.9h32.9v-7.9zM0 1440.8v6.0h32.9v-6.0zM0 1453.7v2.3h32.9v-2.3zM0 1466.6v2.3h32.9v-2.3zM0 1473.9v2.3h32.9v-2.3zM0 1483.1v2.3h32.9v-2.3zM0 1488.6v2.3h32.9v-2.3zM0 1497.8v2.3h32.9v-2.3zM0 1508.8v2.3h32.9v-2.3zM0 1516.2v2.3h32.9v-2.3zM0 1569.5v2.3h32.9v-2.3zM0 1582.4v2.3h32.9v-2.3zM0 1593.4v2.3h32.9v-2.3zM0 1600.7v2.3h32.9v-2.3z"/><path fill="#ffe7de" d="M0 966.6v2.3h32.9v-2.3zM0 974.0v2.3h32.9v-2.3zM0 999.7v4.2h32.9v-4.2zM0 1238.7v2.3h32.9v-2.3zM0 1262.5v2.3h32.9v-2.3zM0 1269.9v2.3h32.9v-2.3zM0 1304.8v4.2h32.9v-4.2zM0 1323.2v2.3h32.9v-2.3zM0 1330.5v4.2h32.9v-4.2zM0 1336.1v2.3h32.9v-2.3zM0 1339.7v2.3h32.9v-2.3zM0 1345.3v4.2h32.9v-4.2zM0 1356.3v2.3h32.9v-2.3zM0 1365.5v2.3h32.9v-2.3zM0 1372.8v2.3h32.9v-2.3zM0 1396.7v2.3h32.9v-2.3zM0 1411.4v2.3h32.9v-2.3zM0 1416.9v4.2h32.9v-4.2zM0 1439.0v2.3h32.9v-2.3zM0 1446.3v2.3h32.9v-2.3zM0 1455.5v2.3h32.9v-2.3zM0 1468.4v2.3h32.9v-2.3zM0 1475.8v4.2h32.9v-4.2zM0 1490.5v4.2h32.9v-4.2zM0 1496.0v2.3h32.9v-2.3zM0 1499.6v2.3h32.9v-2.3zM0 1505.2v2.3h32.9v-2.3zM0 1512.5v2.3h32.9v-2.3zM0 1519.9v2.3h32.9v-2.3zM0 1584.2v2.3h32.9v-2.3zM0 1589.7v2.3h32.9v-2.3zM0 1602.6v2.3h32.9v-2.3zM0 1611.8v2.3h32.9v-2.3z"/><path fill="#58ff43" d="M0 986.8v2.3h32.9v-2.3zM0 1012.6v2.3h32.9v-2.3zM0 1095.3v2.3h32.9v-2.3z"/><path fill="#ffb7a0" d="M0 1334.2v2.3h32.9v-2.3zM0 1354.4v2.3h32.9v-2.3zM0 1398.6v2.3h32.9v-2.3zM0 1413.3v2.3h32.9v-2.3zM0 1435.3v2.3h32.9v-2.3zM0 1450.0v2.3h32.9v-2.3zM0 1457.4v2.3h32.9v-2.3zM0 1462.9v2.3h32.9v-2.3zM0 1479.4v2.3h32.9v-2.3zM0 1484.9v2.3h32.9v-2.3zM0 1510.7v2.3h32.9v-2.3zM0 1521.7v2.3h32.9v-2.3zM0 1624.6v2.3h32.9v-2.3z"/><path fill="#f00" d="M0 1343.4v2.3h32.9v-2.3z"/><path fill="#ff8464" d="M0 1437.2v2.3h32.9v-2.3z"/><path fill="#ff9e81" d="M0 1448.2v2.3h32.9v-2.3zM0 1451.9v2.3h32.9v-2.3zM0 1501.5v2.3h32.9v-2.3z"/></g><g transform="translate(176.8,0)"><path fill="#edffe6" d="M0 917.0v2.3h32.9v-2.3zM0 922.5v2.3h32.9v-2.3zM0 929.9v2.3h32.9v-2.3zM0 935.4v4.2h32.9v-4.2zM0 940.9v2.3h32.9v-2.3zM0 961.1v2.3h32.9v-2.3zM0 1010.7v2.3h32.9v-2.3zM0 1036.5v2.3h32.9v-2.3zM0 1051.2v2.3h32.9v-2.3zM0 1064.0v2.3h32.9v-2.3zM0 1110.0v2.3h32.9v-2.3zM0 1124.7v2.3h32.9v-2.3zM0 1132.0v2.3h32.9v-2.3zM0 1154.1v2.3h32.9v-2.3zM0 1185.3v2.3h32.9v-2.3zM0 1189.0v2.3h32.9v-2.3zM0 1192.7v2.3h32.9v-2.3zM0 1207.4v2.3h32.9v-2.3zM0 1211.1v2.3h32.9v-2.3zM0 1214.8v2.3h32.9v-2.3zM0 1218.4v2.3h32.9v-2.3zM0 1227.6v2.3h32.9v-2.3zM0 1246.0v2.3h32.9v-2.3zM0 1251.5v2.3h32.9v-2.3zM0 1257.0v2.3h32.9v-2.3zM0 1288.3v2.3h32.9v-2.3zM0 1312.2v4.2h32.9v-4.2zM0 1317.7v2.3h32.9v-2.3zM0 1337.9v2.3h32.9v-2.3zM0 1405.9v2.3h32.9v-2.3zM0 1411.4v2.3h32.9v-2.3zM0 1420.6v2.3h32.9v-2.3zM0 1426.1v2.3h32.9v-2.3zM0 1429.8v2.3h32.9v-2.3zM0 1439.0v2.3h32.9v-2.3zM0 1451.9v4.2h32.9v-4.2zM0 1461.0v2.3h32.9v-2.3zM0 1468.4v4.2h32.9v-4.2zM0 1479.4v4.2h32.9v-4.2zM0 1488.6v2.3h32.9v-2.3zM0 1507.0v4.2h32.9v-4.2zM0 1514.3v2.3h32.9v-2.3zM0 1525.4v2.3h32.9v-2.3zM0 1530.9v4.2h32.9v-4.2zM0 1536.4v6.0h32.9v-6.0zM0 1543.8v2.3h32.9v-2.3zM0 1547.4v4.2h32.9v-4.2zM0 1567.7v2.3h32.9v-2.3zM0 1584.2v2.3h32.9v-2.3z"/><path fill="#c7ffb4" d="M0 918.8v2.3h32.9v-2.3zM0 924.4v2.3h32.9v-2.3zM0 928.0v2.3h32.9v-2.3zM0 977.7v2.3h32.9v-2.3zM0 997.9v2.3h32.9v-2.3zM0 1003.4v2.3h32.9v-2.3zM0 1025.4v2.3h32.9v-2.3zM0 1040.1v2.3h32.9v-2.3zM0 1053.0v2.3h32.9v-2.3zM0 1058.5v2.3h32.9v-2.3zM0 1073.2v2.3h32.9v-2.3zM0 1084.3v2.3h32.9v-2.3zM0 1113.7v2.3h32.9v-2.3zM0 1150.4v2.3h32.9v-2.3zM0 1170.6v2.3h32.9v-2.3zM0 1225.8v2.3h32.9v-2.3zM0 1409.6v2.3h32.9v-2.3zM0 1424.3v2.3h32.9v-2.3zM0 1433.5v2.3h32.9v-2.3zM0 1442.7v2.3h32.9v-2.3zM0 1448.2v2.3h32.9v-2.3zM0 1455.5v4.2h32.9v-4.2zM0 1490.5v2.3h32.9v-2.3zM0 1503.3v2.3h32.9v-2.3zM0 1510.7v2.3h32.9v-2.3zM0 1527.2v2.3h32.9v-2.3zM0 1552.9v4.2h32.9v-4.2zM0 1564.0v2.3h32.9v-2.3zM0 1573.2v2.3h32.9v-2.3zM0 1576.8v2.3h32.9v-2.3z"/><path fill="#ffe7de" d="M0 920.7v2.3h32.9v-2.3zM0 931.7v2.3h32.9v-2.3zM0 1115.5v2.3h32.9v-2.3zM0 1128.4v2.3h32.9v-2.3zM0 1137.6v2.3h32.9v-2.3zM0 1143.1v4.2h32.9v-4.2zM0 1152.3v2.3h32.9v-2.3zM0 1163.3v2.3h32.9v-2.3zM0 1176.2v2.3h32.9v-2.3zM0 1183.5v2.3h32.9v-2.3zM0 1196.4v2.3h32.9v-2.3zM0 1205.6v2.3h32.9v-2.3zM0 1216.6v2.3h32.9v-2.3zM0 1220.3v4.2h32.9v-4.2zM0 1235.0v2.3h32.9v-2.3zM0 1247.8v2.3h32.9v-2.3zM0 1271.7v2.3h32.9v-2.3zM0 1275.4v2.3h32.9v-2.3zM0 1279.1v7.9h32.9v-7.9zM0 1290.1v4.2h32.9v-4.2zM0 1299.3v2.3h32.9v-2.3zM0 1306.7v2.3h32.9v-2.3zM0 1325.0v2.3h32.9v-2.3zM0 1394.9v2.3h32.9v-2.3zM0 1437.2v2.3h32.9v-2.3zM0 1472.1v2.3h32.9v-2.3zM0 1483.1v2.3h32.9v-2.3zM0 1492.3v4.2h32.9v-4.2zM0 1516.2v2.3h32.9v-2.3zM0 1589.7v2.3h32.9v-2.3zM0 1593.4v2.3h32.9v-2.3zM0 1600.7v2.3h32.9v-2.3zM0 1617.3v2.3h32.9v-2.3zM0 1622.8v2.3h32.9v-2.3zM0 1630.1v2.3h32.9v-2.3zM0 1635.7v4.2h32.9v-4.2zM0 1643.0v2.3h32.9v-2.3zM0 1650.4v1.8h32.9v-1.8z"/><path fill="#dbffcd" d="M0 933.5v2.3h32.9v-2.3zM0 942.7v4.2h32.9v-4.2zM0 948.2v4.2h32.9v-4.2zM0 953.8v4.2h32.9v-4.2zM0 964.8v6.0h32.9v-6.0zM0 983.2v2.3h32.9v-2.3zM0 988.7v2.3h32.9v-2.3zM0 1005.2v4.2h32.9v-4.2zM0 1089.8v2.3h32.9v-2.3zM0 1102.6v2.3h32.9v-2.3zM0 1141.2v2.3h32.9v-2.3zM0 1168.8v2.3h32.9v-2.3zM0 1179.8v2.3h32.9v-2.3zM0 1187.2v2.3h32.9v-2.3zM0 1194.5v2.3h32.9v-2.3zM0 1233.1v2.3h32.9v-2.3zM0 1249.7v2.3h32.9v-2.3zM0 1264.4v2.3h32.9v-2.3zM0 1334.2v2.3h32.9v-2.3zM0 1413.3v2.3h32.9v-2.3zM0 1416.9v4.2h32.9v-4.2zM0 1431.6v2.3h32.9v-2.3zM0 1435.3v2.3h32.9v-2.3zM0 1444.5v4.2h32.9v-4.2zM0 1477.6v2.3h32.9v-2.3zM0 1484.9v2.3h32.9v-2.3zM0 1499.6v2.3h32.9v-2.3zM0 1505.2v2.3h32.9v-2.3zM0 1519.9v2.3h32.9v-2.3zM0 1529.1v2.3h32.9v-2.3zM0 1534.6v2.3h32.9v-2.3zM0 1541.9v2.3h32.9v-2.3zM0 1556.6v4.2h32.9v-4.2zM0 1562.1v2.3h32.9v-2.3zM0 1565.8v2.3h32.9v-2.3zM0 1571.3v2.3h32.9v-2.3zM0 1575.0v2.3h32.9v-2.3zM0 1580.5v4.2h32.9v-4.2zM0 1586.0v2.3h32.9v-2.3z"/><path fill="#b1ff9a" d="M0 946.4v2.3h32.9v-2.3zM0 974.0v2.3h32.9v-2.3zM0 981.3v2.3h32.9v-2.3zM0 985.0v4.2h32.9v-4.2zM0 990.5v4.2h32.9v-4.2zM0 996.0v2.3h32.9v-2.3zM0 999.7v2.3h32.9v-2.3zM0 1014.4v2.3h32.9v-2.3zM0 1018.1v4.2h32.9v-4.2zM0 1023.6v2.3h32.9v-2.3zM0 1027.3v4.2h32.9v-4.2zM0 1032.8v4.2h32.9v-4.2zM0 1038.3v2.3h32.9v-2.3zM0 1042.0v2.3h32.9v-2.3zM0 1056.7v2.3h32.9v-2.3zM0 1060.4v4.2h32.9v-4.2zM0 1075.1v2.3h32.9v-2.3zM0 1080.6v2.3h32.9v-2.3zM0 1091.6v4.2h32.9v-4.2zM0 1097.1v6.0h32.9v-6.0zM0 1104.5v4.2h32.9v-4.2zM0 1339.7v2.3h32.9v-2.3zM0 1415.1v2.3h32.9v-2.3zM0 1518.0v2.3h32.9v-2.3zM0 1560.3v2.3h32.9v-2.3z"/><path fill="#ffb7a0" d="M0 959.3v2.3h32.9v-2.3zM0 1122.9v2.3h32.9v-2.3zM0 1148.6v2.3h32.9v-2.3zM0 1167.0v2.3h32.9v-2.3zM0 1229.5v4.2h32.9v-4.2zM0 1240.5v2.3h32.9v-2.3zM0 1253.4v2.3h32.9v-2.3zM0 1273.6v2.3h32.9v-2.3zM0 1295.6v2.3h32.9v-2.3zM0 1310.3v2.3h32.9v-2.3zM0 1348.9v2.3h32.9v-2.3zM0 1367.3v2.3h32.9v-2.3zM0 1372.8v2.3h32.9v-2.3zM0 1604.4v2.3h32.9v-2.3zM0 1608.1v2.3h32.9v-2.3zM0 1615.4v2.3h32.9v-2.3zM0 1624.6v2.3h32.9v-2.3zM0 1633.8v2.3h32.9v-2.3zM0 1639.3v4.2h32.9v-4.2z"/><path fill="#58ff43" d="M0 970.3v2.3h32.9v-2.3zM0 1012.6v2.3h32.9v-2.3zM0 1049.3v2.3h32.9v-2.3zM0 1345.3v2.3h32.9v-2.3z"/><path fill="#99ff80" d="M0 972.1v2.3h32.9v-2.3zM0 975.8v2.3h32.9v-2.3zM0 979.5v2.3h32.9v-2.3zM0 994.2v2.3h32.9v-2.3zM0 1021.8v2.3h32.9v-2.3zM0 1045.7v4.2h32.9v-4.2zM0 1065.9v2.3h32.9v-2.3zM0 1069.6v2.3h32.9v-2.3zM0 1076.9v4.2h32.9v-4.2zM0 1087.9v2.3h32.9v-2.3zM0 1095.3v2.3h32.9v-2.3zM0 1111.8v2.3h32.9v-2.3zM0 1126.5v2.3h32.9v-2.3zM0 1201.9v2.3h32.9v-2.3zM0 1326.9v4.2h32.9v-4.2zM0 1332.4v2.3h32.9v-2.3zM0 1343.4v2.3h32.9v-2.3zM0 1545.6v2.3h32.9v-2.3z"/><path fill="#7dff64" d="M0 1001.5v2.3h32.9v-2.3zM0 1031.0v2.3h32.9v-2.3zM0 1043.8v2.3h32.9v-2.3zM0 1054.8v2.3h32.9v-2.3zM0 1067.7v2.3h32.9v-2.3zM0 1071.4v2.3h32.9v-2.3zM0 1082.4v2.3h32.9v-2.3zM0 1086.1v2.3h32.9v-2.3zM0 1108.2v2.3h32.9v-2.3zM0 1330.5v2.3h32.9v-2.3zM0 1341.6v2.3h32.9v-2.3zM0 1450.0v2.3h32.9v-2.3z"/><path fill="#ffcfbf" d="M0 1121.0v2.3h32.9v-2.3zM0 1135.7v2.3h32.9v-2.3zM0 1139.4v2.3h32.9v-2.3zM0 1146.8v2.3h32.9v-2.3zM0 1172.5v2.3h32.9v-2.3zM0 1238.7v2.3h32.9v-2.3zM0 1244.2v2.3h32.9v-2.3zM0 1255.2v2.3h32.9v-2.3zM0 1266.2v2.3h32.9v-2.3zM0 1269.9v2.3h32.9v-2.3zM0 1277.2v2.3h32.9v-2.3zM0 1297.5v2.3h32.9v-2.3zM0 1301.1v4.2h32.9v-4.2zM0 1308.5v2.3h32.9v-2.3zM0 1315.8v2.3h32.9v-2.3zM0 1319.5v2.3h32.9v-2.3zM0 1323.2v2.3h32.9v-2.3zM0 1363.6v2.3h32.9v-2.3zM0 1376.5v6.0h32.9v-6.0zM0 1501.5v2.3h32.9v-2.3zM0 1523.5v2.3h32.9v-2.3zM0 1591.5v2.3h32.9v-2.3zM0 1598.9v2.3h32.9v-2.3zM0 1606.2v2.3h32.9v-2.3zM0 1609.9v2.3h32.9v-2.3zM0 1613.6v2.3h32.9v-2.3zM0 1619.1v4.2h32.9v-4.2zM0 1632.0v2.3h32.9v-2.3zM0 1646.7v4.2h32.9v-4.2z"/><path fill="#ff9e81" d="M0 1130.2v2.3h32.9v-2.3zM0 1174.3v2.3h32.9v-2.3zM0 1293.8v2.3h32.9v-2.3zM0 1347.1v2.3h32.9v-2.3zM0 1350.8v2.3h32.9v-2.3zM0 1356.3v4.2h32.9v-4.2zM0 1365.5v2.3h32.9v-2.3zM0 1369.1v4.2h32.9v-4.2zM0 1374.7v2.3h32.9v-2.3zM0 1382.0v4.2h32.9v-4.2zM0 1387.5v2.3h32.9v-2.3zM0 1391.2v4.2h32.9v-4.2zM0 1587.9v2.3h32.9v-2.3zM0 1597.1v2.3h32.9v-2.3zM0 1602.6v2.3h32.9v-2.3zM0 1644.8v2.3h32.9v-2.3z"/><path fill="#ff8464" d="M0 1161.5v2.3h32.9v-2.3zM0 1321.4v2.3h32.9v-2.3zM0 1361.8v2.3h32.9v-2.3zM0 1389.4v2.3h32.9v-2.3z"/><path fill="#0f0" d="M0 1336.1v2.3h32.9v-2.3z"/><path fill="#ff6846" d="M0 1352.6v4.2h32.9v-4.2zM0 1360.0v2.3h32.9v-2.3zM0 1385.7v2.3h32.9v-2.3zM0 1400.4v4.2h32.9v-4.2z"/><path fill="#ff4628" d="M0 1396.7v2.3h32.9v-2.3z"/><path fill="#f00" d="M0 1398.6v2.3h32.9v-2.3zM0 1404.1v2.3h32.9v-2.3z"/></g><g transform="translate(209.5,0)"><path fill="#edffe6" d="M0 917.0v2.3h32.9v-2.3zM0 920.7v2.3h32.9v-2.3zM0 928.0v2.3h32.9v-2.3zM0 935.4v2.3h32.9v-2.3zM0 940.9v4.2h32.9v-4.2zM0 950.1v2.3h32.9v-2.3zM0 953.8v2.3h32.9v-2.3zM0 957.4v2.3h32.9v-2.3zM0 961.1v2.3h32.9v-2.3zM0 966.6v2.3h32.9v-2.3zM0 1036.5v2.3h32.9v-2.3zM0 1040.1v2.3h32.9v-2.3zM0 1064.0v2.3h32.9v-2.3zM0 1110.0v2.3h32.9v-2.3zM0 1124.7v2.3h32.9v-2.3zM0 1159.6v2.3h32.9v-2.3zM0 1168.8v2.3h32.9v-2.3zM0 1178.0v6.0h32.9v-6.0zM0 1192.7v2.3h32.9v-2.3zM0 1198.2v2.3h32.9v-2.3zM0 1225.8v4.2h32.9v-4.2zM0 1233.1v2.3h32.9v-2.3zM0 1236.8v2.3h32.9v-2.3zM0 1249.7v2.3h32.9v-2.3zM0 1257.0v2.3h32.9v-2.3zM0 1268.1v2.3h32.9v-2.3zM0 1405.9v2.3h32.9v-2.3zM0 1413.3v2.3h32.9v-2.3zM0 1426.1v2.3h32.9v-2.3zM0 1435.3v2.3h32.9v-2.3zM0 1439.0v4.2h32.9v-4.2zM0 1444.5v2.3h32.9v-2.3zM0 1451.9v2.3h32.9v-2.3zM0 1459.2v9.7h32.9v-9.7zM0 1488.6v2.3h32.9v-2.3zM0 1514.3v2.3h32.9v-2.3zM0 1519.9v2.3h32.9v-2.3zM0 1525.4v2.3h32.9v-2.3zM0 1532.7v2.3h32.9v-2.3zM0 1538.2v7.9h32.9v-7.9zM0 1551.1v4.2h32.9v-4.2zM0 1556.6v2.3h32.9v-2.3zM0 1562.1v4.2h32.9v-4.2zM0 1567.7v4.2h32.9v-4.2zM0 1576.8v2.3h32.9v-2.3zM0 1580.5v2.3h32.9v-2.3zM0 1584.2v2.3h32.9v-2.3z"/><path fill="#c7ffb4" d="M0 918.8v2.3h32.9v-2.3zM0 944.6v2.3h32.9v-2.3zM0 948.2v2.3h32.9v-2.3zM0 972.1v2.3h32.9v-2.3zM0 977.7v2.3h32.9v-2.3zM0 981.3v6.0h32.9v-6.0zM0 997.9v2.3h32.9v-2.3zM0 1014.4v2.3h32.9v-2.3zM0 1019.9v2.3h32.9v-2.3zM0 1027.3v2.3h32.9v-2.3zM0 1034.6v2.3h32.9v-2.3zM0 1053.0v2.3h32.9v-2.3zM0 1058.5v2.3h32.9v-2.3zM0 1073.2v2.3h32.9v-2.3zM0 1104.5v2.3h32.9v-2.3zM0 1150.4v2.3h32.9v-2.3zM0 1170.6v2.3h32.9v-2.3zM0 1334.2v2.3h32.9v-2.3zM0 1409.6v2.3h32.9v-2.3zM0 1433.5v2.3h32.9v-2.3zM0 1457.4v2.3h32.9v-2.3zM0 1490.5v2.3h32.9v-2.3zM0 1510.7v2.3h32.9v-2.3zM0 1582.4v2.3h32.9v-2.3z"/><path fill="#dbffcd" d="M0 922.5v6.0h32.9v-6.0zM0 933.5v2.3h32.9v-2.3zM0 937.2v2.3h32.9v-2.3zM0 955.6v2.3h32.9v-2.3zM0 968.5v2.3h32.9v-2.3zM0 979.5v2.3h32.9v-2.3zM0 988.7v2.3h32.9v-2.3zM0 996.0v2.3h32.9v-2.3zM0 999.7v2.3h32.9v-2.3zM0 1003.4v6.0h32.9v-6.0zM0 1016.3v2.3h32.9v-2.3zM0 1023.6v2.3h32.9v-2.3zM0 1038.3v2.3h32.9v-2.3zM0 1051.2v2.3h32.9v-2.3zM0 1084.3v2.3h32.9v-2.3zM0 1089.8v2.3h32.9v-2.3zM0 1100.8v2.3h32.9v-2.3zM0 1113.7v2.3h32.9v-2.3zM0 1183.5v4.2h32.9v-4.2zM0 1189.0v2.3h32.9v-2.3zM0 1194.5v2.3h32.9v-2.3zM0 1214.8v2.3h32.9v-2.3zM0 1247.8v2.3h32.9v-2.3zM0 1264.4v2.3h32.9v-2.3zM0 1317.7v2.3h32.9v-2.3zM0 1416.9v6.0h32.9v-6.0zM0 1424.3v2.3h32.9v-2.3zM0 1442.7v2.3h32.9v-2.3zM0 1446.3v6.0h32.9v-6.0zM0 1479.4v2.3h32.9v-2.3zM0 1484.9v2.3h32.9v-2.3zM0 1503.3v4.2h32.9v-4.2zM0 1512.5v2.3h32.9v-2.3zM0 1518.0v2.3h32.9v-2.3zM0 1527.2v2.3h32.9v-2.3zM0 1536.4v2.3h32.9v-2.3zM0 1547.4v2.3h32.9v-2.3zM0 1554.8v2.3h32.9v-2.3zM0 1560.3v2.3h32.9v-2.3zM0 1571.3v6.0h32.9v-6.0zM0 1586.0v2.3h32.9v-2.3z"/><path fill="#ffe7de" d="M0 931.7v2.3h32.9v-2.3zM0 939.1v2.3h32.9v-2.3zM0 951.9v2.3h32.9v-2.3zM0 1119.2v2.3h32.9v-2.3zM0 1128.4v2.3h32.9v-2.3zM0 1133.9v2.3h32.9v-2.3zM0 1137.6v2.3h32.9v-2.3zM0 1141.2v2.3h32.9v-2.3zM0 1144.9v2.3h32.9v-2.3zM0 1172.5v2.3h32.9v-2.3zM0 1176.2v2.3h32.9v-2.3zM0 1190.9v2.3h32.9v-2.3zM0 1196.4v2.3h32.9v-2.3zM0 1200.1v2.3h32.9v-2.3zM0 1203.7v2.3h32.9v-2.3zM0 1212.9v2.3h32.9v-2.3zM0 1220.3v2.3h32.9v-2.3zM0 1223.9v2.3h32.9v-2.3zM0 1235.0v2.3h32.9v-2.3zM0 1246.0v2.3h32.9v-2.3zM0 1255.2v2.3h32.9v-2.3zM0 1271.7v2.3h32.9v-2.3zM0 1284.6v2.3h32.9v-2.3zM0 1290.1v2.3h32.9v-2.3zM0 1299.3v2.3h32.9v-2.3zM0 1304.8v4.2h32.9v-4.2zM0 1314.0v2.3h32.9v-2.3zM0 1325.0v2.3h32.9v-2.3zM0 1337.9v2.3h32.9v-2.3zM0 1407.7v2.3h32.9v-2.3zM0 1429.8v2.3h32.9v-2.3zM0 1472.1v4.2h32.9v-4.2zM0 1483.1v2.3h32.9v-2.3zM0 1486.8v2.3h32.9v-2.3zM0 1492.3v4.2h32.9v-4.2zM0 1521.7v2.3h32.9v-2.3zM0 1609.9v4.2h32.9v-4.2zM0 1626.5v4.2h32.9v-4.2zM0 1633.8v2.3h32.9v-2.3zM0 1643.0v2.3h32.9v-2.3z"/><path fill="#b1ff9a" d="M0 946.4v2.3h32.9v-2.3zM0 974.0v4.2h32.9v-4.2zM0 986.8v2.3h32.9v-2.3zM0 992.4v2.3h32.9v-2.3zM0 1018.1v2.3h32.9v-2.3zM0 1025.4v2.3h32.9v-2.3zM0 1042.0v2.3h32.9v-2.3zM0 1047.5v2.3h32.9v-2.3zM0 1060.4v4.2h32.9v-4.2zM0 1065.9v4.2h32.9v-4.2zM0 1076.9v2.3h32.9v-2.3zM0 1080.6v4.2h32.9v-4.2zM0 1087.9v2.3h32.9v-2.3zM0 1091.6v7.9h32.9v-7.9zM0 1102.6v2.3h32.9v-2.3zM0 1106.3v2.3h32.9v-2.3zM0 1154.1v2.3h32.9v-2.3zM0 1328.7v2.3h32.9v-2.3zM0 1332.4v2.3h32.9v-2.3zM0 1339.7v2.3h32.9v-2.3zM0 1455.5v2.3h32.9v-2.3zM0 1545.6v2.3h32.9v-2.3z"/><path fill="#ff9e81" d="M0 959.3v2.3h32.9v-2.3zM0 1130.2v2.3h32.9v-2.3zM0 1347.1v2.3h32.9v-2.3zM0 1350.8v2.3h32.9v-2.3zM0 1356.3v2.3h32.9v-2.3zM0 1372.8v4.2h32.9v-4.2zM0 1382.0v4.2h32.9v-4.2zM0 1393.0v2.3h32.9v-2.3zM0 1624.6v2.3h32.9v-2.3zM0 1650.4v1.8h32.9v-1.8z"/><path fill="#7dff64" d="M0 970.3v2.3h32.9v-2.3zM0 1001.5v2.3h32.9v-2.3zM0 1029.1v2.3h32.9v-2.3zM0 1054.8v2.3h32.9v-2.3zM0 1086.1v2.3h32.9v-2.3zM0 1326.9v2.3h32.9v-2.3zM0 1330.5v2.3h32.9v-2.3zM0 1336.1v2.3h32.9v-2.3z"/><path fill="#99ff80" d="M0 990.5v2.3h32.9v-2.3zM0 994.2v2.3h32.9v-2.3zM0 1008.9v2.3h32.9v-2.3zM0 1012.6v2.3h32.9v-2.3zM0 1021.8v2.3h32.9v-2.3zM0 1031.0v4.2h32.9v-4.2zM0 1043.8v4.2h32.9v-4.2zM0 1049.3v2.3h32.9v-2.3zM0 1056.7v2.3h32.9v-2.3zM0 1069.6v4.2h32.9v-4.2zM0 1075.1v2.3h32.9v-2.3zM0 1078.7v2.3h32.9v-2.3zM0 1099.0v2.3h32.9v-2.3zM0 1108.2v2.3h32.9v-2.3zM0 1111.8v2.3h32.9v-2.3zM0 1201.9v2.3h32.9v-2.3zM0 1341.6v6.0h32.9v-6.0zM0 1477.6v2.3h32.9v-2.3z"/><path fill="#ffb7a0" d="M0 1122.9v2.3h32.9v-2.3zM0 1139.4v2.3h32.9v-2.3zM0 1174.3v2.3h32.9v-2.3zM0 1253.4v2.3h32.9v-2.3zM0 1266.2v2.3h32.9v-2.3zM0 1269.9v2.3h32.9v-2.3zM0 1273.6v2.3h32.9v-2.3zM0 1282.8v2.3h32.9v-2.3zM0 1286.4v2.3h32.9v-2.3zM0 1293.8v2.3h32.9v-2.3zM0 1308.5v4.2h32.9v-4.2zM0 1315.8v2.3h32.9v-2.3zM0 1319.5v2.3h32.9v-2.3zM0 1348.9v2.3h32.9v-2.3zM0 1369.1v4.2h32.9v-4.2zM0 1378.3v2.3h32.9v-2.3zM0 1387.5v2.3h32.9v-2.3zM0 1391.2v2.3h32.9v-2.3zM0 1597.1v2.3h32.9v-2.3zM0 1608.1v2.3h32.9v-2.3zM0 1613.6v4.2h32.9v-4.2zM0 1619.1v4.2h32.9v-4.2zM0 1632.0v2.3h32.9v-2.3zM0 1635.7v2.3h32.9v-2.3zM0 1641.2v2.3h32.9v-2.3zM0 1646.7v4.2h32.9v-4.2z"/><path fill="#ffcfbf" d="M0 1143.1v2.3h32.9v-2.3zM0 1146.8v4.2h32.9v-4.2zM0 1152.3v2.3h32.9v-2.3zM0 1161.5v2.3h32.9v-2.3zM0 1167.0v2.3h32.9v-2.3zM0 1209.2v2.3h32.9v-2.3zM0 1229.5v4.2h32.9v-4.2zM0 1238.7v2.3h32.9v-2.3zM0 1244.2v2.3h32.9v-2.3zM0 1275.4v4.2h32.9v-4.2zM0 1280.9v2.3h32.9v-2.3zM0 1295.6v4.2h32.9v-4.2zM0 1301.1v4.2h32.9v-4.2zM0 1312.2v2.3h32.9v-2.3zM0 1323.2v2.3h32.9v-2.3zM0 1363.6v2.3h32.9v-2.3zM0 1367.3v2.3h32.9v-2.3zM0 1376.5v2.3h32.9v-2.3zM0 1380.2v2.3h32.9v-2.3zM0 1394.9v2.3h32.9v-2.3zM0 1481.3v2.3h32.9v-2.3zM0 1501.5v2.3h32.9v-2.3zM0 1523.5v2.3h32.9v-2.3zM0 1589.7v6.0h32.9v-6.0zM0 1598.9v2.3h32.9v-2.3zM0 1604.4v4.2h32.9v-4.2zM0 1617.3v2.3h32.9v-2.3zM0 1622.8v2.3h32.9v-2.3zM0 1630.1v2.3h32.9v-2.3zM0 1637.5v4.2h32.9v-4.2z"/><path fill="#ff4628" d="M0 1240.5v2.3h32.9v-2.3zM0 1400.4v4.2h32.9v-4.2z"/><path fill="#ff8464" d="M0 1321.4v2.3h32.9v-2.3zM0 1358.1v2.3h32.9v-2.3zM0 1361.8v2.3h32.9v-2.3zM0 1389.4v2.3h32.9v-2.3zM0 1587.9v2.3h32.9v-2.3zM0 1602.6v2.3h32.9v-2.3zM0 1644.8v2.3h32.9v-2.3z"/><path fill="#ff6846" d="M0 1352.6v4.2h32.9v-4.2zM0 1360.0v2.3h32.9v-2.3zM0 1365.5v2.3h32.9v-2.3zM0 1385.7v2.3h32.9v-2.3z"/><path fill="#f00" d="M0 1396.7v4.2h32.9v-4.2zM0 1404.1v2.3h32.9v-2.3z"/></g><g transform="translate(242.2,0)"><path fill="#c7ffb4" d="M0 918.8v2.3h32.9v-2.3zM0 924.4v2.3h32.9v-2.3zM0 935.4v2.3h32.9v-2.3zM0 946.4v2.3h32.9v-2.3zM0 953.8v2.3h32.9v-2.3zM0 972.1v2.3h32.9v-2.3zM0 977.7v2.3h32.9v-2.3zM0 983.2v2.3h32.9v-2.3zM0 988.7v2.3h32.9v-2.3zM0 999.7v2.3h32.9v-2.3zM0 1023.6v2.3h32.9v-2.3zM0 1027.3v2.3h32.9v-2.3zM0 1032.8v2.3h32.9v-2.3zM0 1056.7v2.3h32.9v-2.3zM0 1073.2v2.3h32.9v-2.3zM0 1089.8v2.3h32.9v-2.3zM0 1102.6v2.3h32.9v-2.3zM0 1106.3v2.3h32.9v-2.3zM0 1141.2v2.3h32.9v-2.3zM0 1170.6v2.3h32.9v-2.3zM0 1249.7v2.3h32.9v-2.3zM0 1409.6v2.3h32.9v-2.3zM0 1416.9v2.3h32.9v-2.3zM0 1433.5v2.3h32.9v-2.3zM0 1442.7v2.3h32.9v-2.3zM0 1448.2v2.3h32.9v-2.3zM0 1457.4v2.3h32.9v-2.3zM0 1484.9v2.3h32.9v-2.3zM0 1490.5v2.3h32.9v-2.3zM0 1527.2v4.2h32.9v-4.2zM0 1552.9v2.3h32.9v-2.3zM0 1558.5v4.2h32.9v-4.2z"/><path fill="#edffe6" d="M0 920.7v4.2h32.9v-4.2zM0 929.9v2.3h32.9v-2.3zM0 939.1v2.3h32.9v-2.3zM0 942.7v2.3h32.9v-2.3zM0 957.4v2.3h32.9v-2.3zM0 961.1v4.2h32.9v-4.2zM0 968.5v2.3h32.9v-2.3zM0 1010.7v2.3h32.9v-2.3zM0 1036.5v2.3h32.9v-2.3zM0 1064.0v2.3h32.9v-2.3zM0 1124.7v2.3h32.9v-2.3zM0 1133.9v2.3h32.9v-2.3zM0 1155.9v2.3h32.9v-2.3zM0 1179.8v6.0h32.9v-6.0zM0 1198.2v2.3h32.9v-2.3zM0 1207.4v2.3h32.9v-2.3zM0 1211.1v2.3h32.9v-2.3zM0 1214.8v2.3h32.9v-2.3zM0 1227.6v2.3h32.9v-2.3zM0 1231.3v2.3h32.9v-2.3zM0 1247.8v2.3h32.9v-2.3zM0 1257.0v4.2h32.9v-4.2zM0 1292.0v2.3h32.9v-2.3zM0 1306.7v2.3h32.9v-2.3zM0 1334.2v2.3h32.9v-2.3zM0 1411.4v2.3h32.9v-2.3zM0 1426.1v4.2h32.9v-4.2zM0 1440.8v2.3h32.9v-2.3zM0 1444.5v2.3h32.9v-2.3zM0 1450.0v4.2h32.9v-4.2zM0 1461.0v2.3h32.9v-2.3zM0 1470.2v2.3h32.9v-2.3zM0 1477.6v2.3h32.9v-2.3zM0 1481.3v2.3h32.9v-2.3zM0 1499.6v2.3h32.9v-2.3zM0 1508.8v2.3h32.9v-2.3zM0 1519.9v4.2h32.9v-4.2zM0 1525.4v2.3h32.9v-2.3zM0 1532.7v4.2h32.9v-4.2zM0 1538.2v2.3h32.9v-2.3zM0 1541.9v2.3h32.9v-2.3zM0 1549.3v2.3h32.9v-2.3zM0 1556.6v2.3h32.9v-2.3zM0 1564.0v7.9h32.9v-7.9zM0 1578.7v2.3h32.9v-2.3z"/><path fill="#dbffcd" d="M0 928.0v2.3h32.9v-2.3zM0 937.2v2.3h32.9v-2.3zM0 940.9v2.3h32.9v-2.3zM0 944.6v2.3h32.9v-2.3zM0 950.1v2.3h32.9v-2.3zM0 955.6v2.3h32.9v-2.3zM0 966.6v2.3h32.9v-2.3zM0 1003.4v6.0h32.9v-6.0zM0 1040.1v4.2h32.9v-4.2zM0 1051.2v2.3h32.9v-2.3zM0 1058.5v2.3h32.9v-2.3zM0 1084.3v2.3h32.9v-2.3zM0 1093.4v2.3h32.9v-2.3zM0 1110.0v2.3h32.9v-2.3zM0 1150.4v2.3h32.9v-2.3zM0 1168.8v2.3h32.9v-2.3zM0 1189.0v2.3h32.9v-2.3zM0 1192.7v4.2h32.9v-4.2zM0 1225.8v2.3h32.9v-2.3zM0 1233.1v2.3h32.9v-2.3zM0 1264.4v2.3h32.9v-2.3zM0 1268.1v2.3h32.9v-2.3zM0 1317.7v2.3h32.9v-2.3zM0 1337.9v2.3h32.9v-2.3zM0 1345.3v2.3h32.9v-2.3zM0 1405.9v2.3h32.9v-2.3zM0 1413.3v2.3h32.9v-2.3zM0 1418.8v4.2h32.9v-4.2zM0 1424.3v2.3h32.9v-2.3zM0 1431.6v2.3h32.9v-2.3zM0 1435.3v2.3h32.9v-2.3zM0 1439.0v2.3h32.9v-2.3zM0 1446.3v2.3h32.9v-2.3zM0 1462.9v4.2h32.9v-4.2zM0 1475.8v2.3h32.9v-2.3zM0 1479.4v2.3h32.9v-2.3zM0 1496.0v2.3h32.9v-2.3zM0 1505.2v2.3h32.9v-2.3zM0 1514.3v2.3h32.9v-2.3zM0 1518.0v2.3h32.9v-2.3zM0 1530.9v2.3h32.9v-2.3zM0 1536.4v2.3h32.9v-2.3zM0 1543.8v2.3h32.9v-2.3zM0 1547.4v2.3h32.9v-2.3zM0 1562.1v2.3h32.9v-2.3zM0 1571.3v2.3h32.9v-2.3zM0 1575.0v2.3h32.9v-2.3zM0 1582.4v6.0h32.9v-6.0z"/><path fill="#ffe7de" d="M0 931.7v2.3h32.9v-2.3zM0 1115.5v2.3h32.9v-2.3zM0 1121.0v2.3h32.9v-2.3zM0 1128.4v2.3h32.9v-2.3zM0 1135.7v4.2h32.9v-4.2zM0 1152.3v2.3h32.9v-2.3zM0 1157.8v2.3h32.9v-2.3zM0 1161.5v2.3h32.9v-2.3zM0 1190.9v2.3h32.9v-2.3zM0 1196.4v2.3h32.9v-2.3zM0 1203.7v2.3h32.9v-2.3zM0 1216.6v2.3h32.9v-2.3zM0 1220.3v4.2h32.9v-4.2zM0 1242.3v4.2h32.9v-4.2zM0 1251.5v2.3h32.9v-2.3zM0 1271.7v2.3h32.9v-2.3zM0 1290.1v2.3h32.9v-2.3zM0 1297.5v6.0h32.9v-6.0zM0 1314.0v2.3h32.9v-2.3zM0 1323.2v2.3h32.9v-2.3zM0 1363.6v2.3h32.9v-2.3zM0 1394.9v2.3h32.9v-2.3zM0 1453.7v2.3h32.9v-2.3zM0 1466.6v2.3h32.9v-2.3zM0 1492.3v2.3h32.9v-2.3zM0 1501.5v2.3h32.9v-2.3zM0 1523.5v2.3h32.9v-2.3zM0 1595.2v2.3h32.9v-2.3zM0 1611.8v2.3h32.9v-2.3zM0 1617.3v2.3h32.9v-2.3zM0 1621.0v2.3h32.9v-2.3zM0 1624.6v2.3h32.9v-2.3zM0 1628.3v4.2h32.9v-4.2zM0 1633.8v2.3h32.9v-2.3zM0 1637.5v2.3h32.9v-2.3zM0 1643.0v2.3h32.9v-2.3z"/><path fill="#b1ff9a" d="M0 933.5v2.3h32.9v-2.3zM0 974.0v2.3h32.9v-2.3zM0 979.5v4.2h32.9v-4.2zM0 985.0v4.2h32.9v-4.2zM0 990.5v4.2h32.9v-4.2zM0 996.0v4.2h32.9v-4.2zM0 1014.4v2.3h32.9v-2.3zM0 1018.1v6.0h32.9v-6.0zM0 1025.4v2.3h32.9v-2.3zM0 1038.3v2.3h32.9v-2.3zM0 1053.0v2.3h32.9v-2.3zM0 1060.4v4.2h32.9v-4.2zM0 1067.7v2.3h32.9v-2.3zM0 1075.1v2.3h32.9v-2.3zM0 1078.7v4.2h32.9v-4.2zM0 1087.9v2.3h32.9v-2.3zM0 1091.6v2.3h32.9v-2.3zM0 1097.1v2.3h32.9v-2.3zM0 1100.8v2.3h32.9v-2.3zM0 1104.5v2.3h32.9v-2.3zM0 1111.8v4.2h32.9v-4.2zM0 1328.7v2.3h32.9v-2.3zM0 1455.5v2.3h32.9v-2.3zM0 1503.3v2.3h32.9v-2.3zM0 1545.6v2.3h32.9v-2.3zM0 1573.2v2.3h32.9v-2.3zM0 1576.8v2.3h32.9v-2.3z"/><path fill="#99ff80" d="M0 948.2v2.3h32.9v-2.3zM0 975.8v2.3h32.9v-2.3zM0 994.2v2.3h32.9v-2.3zM0 1008.9v2.3h32.9v-2.3zM0 1029.1v2.3h32.9v-2.3zM0 1034.6v2.3h32.9v-2.3zM0 1043.8v2.3h32.9v-2.3zM0 1047.5v2.3h32.9v-2.3zM0 1054.8v2.3h32.9v-2.3zM0 1065.9v2.3h32.9v-2.3zM0 1069.6v2.3h32.9v-2.3zM0 1076.9v2.3h32.9v-2.3zM0 1086.1v2.3h32.9v-2.3zM0 1095.3v2.3h32.9v-2.3zM0 1099.0v2.3h32.9v-2.3zM0 1108.2v2.3h32.9v-2.3zM0 1201.9v2.3h32.9v-2.3zM0 1330.5v4.2h32.9v-4.2zM0 1339.7v6.0h32.9v-6.0zM0 1437.2v2.3h32.9v-2.3zM0 1510.7v2.3h32.9v-2.3z"/><path fill="#ff9e81" d="M0 959.3v2.3h32.9v-2.3zM0 1321.4v2.3h32.9v-2.3zM0 1356.3v4.2h32.9v-4.2zM0 1374.7v2.3h32.9v-2.3zM0 1383.9v2.3h32.9v-2.3zM0 1387.5v2.3h32.9v-2.3zM0 1429.8v2.3h32.9v-2.3zM0 1597.1v2.3h32.9v-2.3zM0 1602.6v2.3h32.9v-2.3zM0 1641.2v2.3h32.9v-2.3zM0 1644.8v2.3h32.9v-2.3z"/><path fill="#58ff43" d="M0 970.3v2.3h32.9v-2.3zM0 1049.3v2.3h32.9v-2.3zM0 1082.4v2.3h32.9v-2.3z"/><path fill="#7dff64" d="M0 1001.5v2.3h32.9v-2.3zM0 1012.6v2.3h32.9v-2.3zM0 1031.0v2.3h32.9v-2.3zM0 1045.7v2.3h32.9v-2.3zM0 1071.4v2.3h32.9v-2.3zM0 1326.9v2.3h32.9v-2.3z"/><path fill="#ffb7a0" d="M0 1122.9v2.3h32.9v-2.3zM0 1139.4v2.3h32.9v-2.3zM0 1253.4v2.3h32.9v-2.3zM0 1269.9v2.3h32.9v-2.3zM0 1293.8v2.3h32.9v-2.3zM0 1303.0v2.3h32.9v-2.3zM0 1310.3v4.2h32.9v-4.2zM0 1348.9v4.2h32.9v-4.2zM0 1367.3v4.2h32.9v-4.2zM0 1372.8v2.3h32.9v-2.3zM0 1376.5v4.2h32.9v-4.2zM0 1391.2v2.3h32.9v-2.3zM0 1589.7v2.3h32.9v-2.3zM0 1608.1v2.3h32.9v-2.3zM0 1613.6v4.2h32.9v-4.2zM0 1619.1v2.3h32.9v-2.3zM0 1639.3v2.3h32.9v-2.3z"/><path fill="#ffcfbf" d="M0 1130.2v2.3h32.9v-2.3zM0 1143.1v7.9h32.9v-7.9zM0 1167.0v2.3h32.9v-2.3zM0 1174.3v2.3h32.9v-2.3zM0 1209.2v2.3h32.9v-2.3zM0 1229.5v2.3h32.9v-2.3zM0 1240.5v2.3h32.9v-2.3zM0 1266.2v2.3h32.9v-2.3zM0 1273.6v6.0h32.9v-6.0zM0 1282.8v4.2h32.9v-4.2zM0 1295.6v2.3h32.9v-2.3zM0 1315.8v2.3h32.9v-2.3zM0 1319.5v2.3h32.9v-2.3zM0 1325.0v2.3h32.9v-2.3zM0 1380.2v2.3h32.9v-2.3zM0 1393.0v2.3h32.9v-2.3zM0 1486.8v2.3h32.9v-2.3zM0 1593.4v2.3h32.9v-2.3zM0 1600.7v2.3h32.9v-2.3zM0 1604.4v4.2h32.9v-4.2zM0 1632.0v2.3h32.9v-2.3zM0 1635.7v2.3h32.9v-2.3zM0 1646.7v5.5h32.9v-5.5z"/><path fill="#ff6846" d="M0 1308.5v2.3h32.9v-2.3zM0 1354.4v2.3h32.9v-2.3zM0 1385.7v2.3h32.9v-2.3zM0 1389.4v2.3h32.9v-2.3zM0 1400.4v4.2h32.9v-4.2z"/><path fill="#0f0" d="M0 1336.1v2.3h32.9v-2.3zM0 1554.8v2.3h32.9v-2.3z"/><path fill="#ff8464" d="M0 1347.1v2.3h32.9v-2.3zM0 1352.6v2.3h32.9v-2.3zM0 1361.8v2.3h32.9v-2.3zM0 1365.5v2.3h32.9v-2.3zM0 1371.0v2.3h32.9v-2.3zM0 1382.0v2.3h32.9v-2.3zM0 1587.9v2.3h32.9v-2.3z"/><path fill="#ff4628" d="M0 1360.0v2.3h32.9v-2.3zM0 1398.6v2.3h32.9v-2.3z"/><path fill="#f00" d="M0 1396.7v2.3h32.9v-2.3zM0 1404.1v2.3h32.9v-2.3z"/></g><g transform="translate(274.9,0)"><path fill="#dbffcd" d="M0 917.0v2.3h32.9v-2.3zM0 924.4v2.3h32.9v-2.3zM0 928.0v2.3h32.9v-2.3zM0 940.9v2.3h32.9v-2.3zM0 950.1v2.3h32.9v-2.3zM0 968.5v2.3h32.9v-2.3zM0 988.7v2.3h32.9v-2.3zM0 996.0v2.3h32.9v-2.3zM0 1007.1v2.3h32.9v-2.3zM0 1016.3v2.3h32.9v-2.3zM0 1040.1v2.3h32.9v-2.3zM0 1058.5v2.3h32.9v-2.3zM0 1073.2v2.3h32.9v-2.3zM0 1089.8v4.2h32.9v-4.2zM0 1100.8v2.3h32.9v-2.3zM0 1110.0v2.3h32.9v-2.3zM0 1113.7v2.3h32.9v-2.3zM0 1405.9v2.3h32.9v-2.3zM0 1416.9v2.3h32.9v-2.3zM0 1424.3v4.2h32.9v-4.2zM0 1433.5v2.3h32.9v-2.3zM0 1440.8v2.3h32.9v-2.3zM0 1444.5v2.3h32.9v-2.3zM0 1457.4v2.3h32.9v-2.3zM0 1462.9v2.3h32.9v-2.3zM0 1472.1v2.3h32.9v-2.3zM0 1484.9v2.3h32.9v-2.3zM0 1490.5v2.3h32.9v-2.3zM0 1499.6v2.3h32.9v-2.3zM0 1530.9v2.3h32.9v-2.3zM0 1540.1v2.3h32.9v-2.3zM0 1547.4v2.3h32.9v-2.3zM0 1552.9v4.2h32.9v-4.2zM0 1560.3v2.3h32.9v-2.3zM0 1565.8v2.3h32.9v-2.3z"/><path fill="#b1ff9a" d="M0 918.8v2.3h32.9v-2.3zM0 939.1v2.3h32.9v-2.3zM0 974.0v2.3h32.9v-2.3zM0 983.2v6.0h32.9v-6.0zM0 990.5v4.2h32.9v-4.2zM0 999.7v2.3h32.9v-2.3zM0 1003.4v2.3h32.9v-2.3zM0 1008.9v2.3h32.9v-2.3zM0 1014.4v2.3h32.9v-2.3zM0 1021.8v2.3h32.9v-2.3zM0 1025.4v6.0h32.9v-6.0zM0 1032.8v2.3h32.9v-2.3zM0 1038.3v2.3h32.9v-2.3zM0 1045.7v4.2h32.9v-4.2zM0 1053.0v2.3h32.9v-2.3zM0 1056.7v2.3h32.9v-2.3zM0 1062.2v2.3h32.9v-2.3zM0 1065.9v2.3h32.9v-2.3zM0 1078.7v2.3h32.9v-2.3zM0 1086.1v4.2h32.9v-4.2zM0 1168.8v2.3h32.9v-2.3zM0 1201.9v2.3h32.9v-2.3zM0 1225.8v2.3h32.9v-2.3zM0 1332.4v2.3h32.9v-2.3zM0 1448.2v2.3h32.9v-2.3zM0 1455.5v2.3h32.9v-2.3zM0 1510.7v2.3h32.9v-2.3zM0 1545.6v2.3h32.9v-2.3z"/><path fill="#edffe6" d="M0 922.5v2.3h32.9v-2.3zM0 926.2v2.3h32.9v-2.3zM0 929.9v2.3h32.9v-2.3zM0 942.7v2.3h32.9v-2.3zM0 948.2v2.3h32.9v-2.3zM0 955.6v4.2h32.9v-4.2zM0 961.1v4.2h32.9v-4.2zM0 966.6v2.3h32.9v-2.3zM0 1005.2v2.3h32.9v-2.3zM0 1010.7v2.3h32.9v-2.3zM0 1036.5v2.3h32.9v-2.3zM0 1042.0v2.3h32.9v-2.3zM0 1064.0v2.3h32.9v-2.3zM0 1115.5v2.3h32.9v-2.3zM0 1141.2v2.3h32.9v-2.3zM0 1144.9v2.3h32.9v-2.3zM0 1150.4v2.3h32.9v-2.3zM0 1155.9v2.3h32.9v-2.3zM0 1178.0v4.2h32.9v-4.2zM0 1189.0v2.3h32.9v-2.3zM0 1194.5v2.3h32.9v-2.3zM0 1198.2v2.3h32.9v-2.3zM0 1207.4v2.3h32.9v-2.3zM0 1212.9v4.2h32.9v-4.2zM0 1227.6v2.3h32.9v-2.3zM0 1233.1v2.3h32.9v-2.3zM0 1247.8v2.3h32.9v-2.3zM0 1260.7v4.2h32.9v-4.2zM0 1279.1v2.3h32.9v-2.3zM0 1334.2v2.3h32.9v-2.3zM0 1337.9v2.3h32.9v-2.3zM0 1411.4v4.2h32.9v-4.2zM0 1420.6v2.3h32.9v-2.3zM0 1429.8v4.2h32.9v-4.2zM0 1435.3v2.3h32.9v-2.3zM0 1439.0v2.3h32.9v-2.3zM0 1450.0v2.3h32.9v-2.3zM0 1459.2v4.2h32.9v-4.2zM0 1466.6v2.3h32.9v-2.3zM0 1479.4v2.3h32.9v-2.3zM0 1486.8v4.2h32.9v-4.2zM0 1496.0v2.3h32.9v-2.3zM0 1505.2v2.3h32.9v-2.3zM0 1508.8v2.3h32.9v-2.3zM0 1514.3v2.3h32.9v-2.3zM0 1525.4v6.0h32.9v-6.0zM0 1532.7v7.9h32.9v-7.9zM0 1541.9v4.2h32.9v-4.2zM0 1549.3v2.3h32.9v-2.3zM0 1556.6v2.3h32.9v-2.3zM0 1564.0v2.3h32.9v-2.3zM0 1569.5v2.3h32.9v-2.3zM0 1578.7v4.2h32.9v-4.2zM0 1595.2v2.3h32.9v-2.3z"/><path fill="#ffcfbf" d="M0 931.7v2.3h32.9v-2.3zM0 1121.0v2.3h32.9v-2.3zM0 1135.7v4.2h32.9v-4.2zM0 1148.6v2.3h32.9v-2.3zM0 1167.0v2.3h32.9v-2.3zM0 1200.1v2.3h32.9v-2.3zM0 1203.7v2.3h32.9v-2.3zM0 1220.3v2.3h32.9v-2.3zM0 1229.5v2.3h32.9v-2.3zM0 1266.2v2.3h32.9v-2.3zM0 1275.4v4.2h32.9v-4.2zM0 1280.9v4.2h32.9v-4.2zM0 1293.8v2.3h32.9v-2.3zM0 1301.1v4.2h32.9v-4.2zM0 1319.5v2.3h32.9v-2.3zM0 1323.2v4.2h32.9v-4.2zM0 1348.9v2.3h32.9v-2.3zM0 1363.6v2.3h32.9v-2.3zM0 1501.5v2.3h32.9v-2.3zM0 1589.7v4.2h32.9v-4.2zM0 1598.9v2.3h32.9v-2.3zM0 1604.4v4.2h32.9v-4.2zM0 1611.8v2.3h32.9v-2.3zM0 1619.1v2.3h32.9v-2.3zM0 1622.8v2.3h32.9v-2.3zM0 1628.3v4.2h32.9v-4.2zM0 1635.7v2.3h32.9v-2.3z"/><path fill="#c7ffb4" d="M0 933.5v2.3h32.9v-2.3zM0 944.6v4.2h32.9v-4.2zM0 972.1v2.3h32.9v-2.3zM0 977.7v4.2h32.9v-4.2zM0 1018.1v2.3h32.9v-2.3zM0 1023.6v2.3h32.9v-2.3zM0 1051.2v2.3h32.9v-2.3zM0 1075.1v2.3h32.9v-2.3zM0 1080.6v2.3h32.9v-2.3zM0 1084.3v2.3h32.9v-2.3zM0 1093.4v2.3h32.9v-2.3zM0 1097.1v4.2h32.9v-4.2zM0 1102.6v6.0h32.9v-6.0zM0 1170.6v2.3h32.9v-2.3zM0 1249.7v2.3h32.9v-2.3zM0 1264.4v2.3h32.9v-2.3zM0 1328.7v2.3h32.9v-2.3zM0 1442.7v2.3h32.9v-2.3zM0 1477.6v2.3h32.9v-2.3zM0 1481.3v2.3h32.9v-2.3zM0 1503.3v2.3h32.9v-2.3zM0 1518.0v2.3h32.9v-2.3zM0 1562.1v2.3h32.9v-2.3zM0 1567.7v2.3h32.9v-2.3zM0 1571.3v4.2h32.9v-4.2zM0 1576.8v2.3h32.9v-2.3zM0 1582.4v6.0h32.9v-6.0z"/><path fill="#ff9e81" d="M0 959.3v2.3h32.9v-2.3zM0 1253.4v2.3h32.9v-2.3zM0 1315.8v2.3h32.9v-2.3zM0 1358.1v2.3h32.9v-2.3zM0 1372.8v4.2h32.9v-4.2zM0 1378.3v2.3h32.9v-2.3zM0 1400.4v2.3h32.9v-2.3zM0 1597.1v2.3h32.9v-2.3zM0 1602.6v2.3h32.9v-2.3zM0 1644.8v4.2h32.9v-4.2z"/><path fill="#7dff64" d="M0 970.3v2.3h32.9v-2.3zM0 1001.5v2.3h32.9v-2.3zM0 1031.0v2.3h32.9v-2.3zM0 1049.3v2.3h32.9v-2.3zM0 1108.2v2.3h32.9v-2.3zM0 1341.6v2.3h32.9v-2.3zM0 1345.3v2.3h32.9v-2.3z"/><path fill="#99ff80" d="M0 975.8v2.3h32.9v-2.3zM0 981.3v2.3h32.9v-2.3zM0 994.2v2.3h32.9v-2.3zM0 997.9v2.3h32.9v-2.3zM0 1012.6v2.3h32.9v-2.3zM0 1019.9v2.3h32.9v-2.3zM0 1034.6v2.3h32.9v-2.3zM0 1043.8v2.3h32.9v-2.3zM0 1054.8v2.3h32.9v-2.3zM0 1060.4v2.3h32.9v-2.3zM0 1067.7v4.2h32.9v-4.2zM0 1076.9v2.3h32.9v-2.3zM0 1082.4v2.3h32.9v-2.3zM0 1095.3v2.3h32.9v-2.3zM0 1111.8v2.3h32.9v-2.3zM0 1326.9v2.3h32.9v-2.3zM0 1330.5v2.3h32.9v-2.3zM0 1339.7v2.3h32.9v-2.3zM0 1343.4v2.3h32.9v-2.3zM0 1409.6v2.3h32.9v-2.3z"/><path fill="#0f0" d="M0 1071.4v2.3h32.9v-2.3z"/><path fill="#ffe7de" d="M0 1119.2v2.3h32.9v-2.3zM0 1157.8v2.3h32.9v-2.3zM0 1172.5v2.3h32.9v-2.3zM0 1183.5v2.3h32.9v-2.3zM0 1190.9v2.3h32.9v-2.3zM0 1209.2v2.3h32.9v-2.3zM0 1218.4v2.3h32.9v-2.3zM0 1222.1v4.2h32.9v-4.2zM0 1231.3v2.3h32.9v-2.3zM0 1235.0v2.3h32.9v-2.3zM0 1242.3v6.0h32.9v-6.0zM0 1251.5v2.3h32.9v-2.3zM0 1255.2v2.3h32.9v-2.3zM0 1271.7v2.3h32.9v-2.3zM0 1286.4v7.9h32.9v-7.9zM0 1308.5v6.0h32.9v-6.0zM0 1369.1v2.3h32.9v-2.3zM0 1380.2v2.3h32.9v-2.3zM0 1394.9v2.3h32.9v-2.3zM0 1437.2v2.3h32.9v-2.3zM0 1453.7v2.3h32.9v-2.3zM0 1473.9v4.2h32.9v-4.2zM0 1483.1v2.3h32.9v-2.3zM0 1497.8v2.3h32.9v-2.3zM0 1516.2v2.3h32.9v-2.3zM0 1600.7v2.3h32.9v-2.3zM0 1609.9v2.3h32.9v-2.3zM0 1617.3v2.3h32.9v-2.3zM0 1626.5v2.3h32.9v-2.3zM0 1633.8v2.3h32.9v-2.3zM0 1637.5v2.3h32.9v-2.3zM0 1643.0v2.3h32.9v-2.3z"/><path fill="#ffb7a0" d="M0 1122.9v2.3h32.9v-2.3zM0 1130.2v2.3h32.9v-2.3zM0 1139.4v2.3h32.9v-2.3zM0 1143.1v2.3h32.9v-2.3zM0 1146.8v2.3h32.9v-2.3zM0 1174.3v2.3h32.9v-2.3zM0 1240.5v2.3h32.9v-2.3zM0 1269.9v2.3h32.9v-2.3zM0 1273.6v2.3h32.9v-2.3zM0 1284.6v2.3h32.9v-2.3zM0 1295.6v4.2h32.9v-4.2zM0 1350.8v2.3h32.9v-2.3zM0 1356.3v2.3h32.9v-2.3zM0 1367.3v2.3h32.9v-2.3zM0 1376.5v2.3h32.9v-2.3zM0 1383.9v2.3h32.9v-2.3zM0 1393.0v2.3h32.9v-2.3zM0 1587.9v2.3h32.9v-2.3zM0 1593.4v2.3h32.9v-2.3zM0 1608.1v2.3h32.9v-2.3zM0 1613.6v4.2h32.9v-4.2zM0 1621.0v2.3h32.9v-2.3zM0 1624.6v2.3h32.9v-2.3zM0 1632.0v2.3h32.9v-2.3zM0 1639.3v4.2h32.9v-4.2zM0 1648.5v3.7h32.9v-3.7z"/><path fill="#ff8464" d="M0 1314.0v2.3h32.9v-2.3zM0 1321.4v2.3h32.9v-2.3zM0 1347.1v2.3h32.9v-2.3zM0 1352.6v2.3h32.9v-2.3zM0 1365.5v2.3h32.9v-2.3zM0 1371.0v2.3h32.9v-2.3zM0 1382.0v2.3h32.9v-2.3zM0 1387.5v2.3h32.9v-2.3zM0 1391.2v2.3h32.9v-2.3z"/><path fill="#58ff43" d="M0 1336.1v2.3h32.9v-2.3z"/><path fill="#ff4628" d="M0 1354.4v2.3h32.9v-2.3zM0 1402.2v2.3h32.9v-2.3z"/><path fill="#ff6846" d="M0 1360.0v4.2h32.9v-4.2zM0 1385.7v2.3h32.9v-2.3zM0 1389.4v2.3h32.9v-2.3z"/><path fill="#f00" d="M0 1396.7v4.2h32.9v-4.2zM0 1404.1v2.3h32.9v-2.3z"/></g><g transform="translate(307.6,0)"><path fill="#edffe6" d="M0 917.0v2.3h32.9v-2.3zM0 920.7v2.3h32.9v-2.3zM0 937.2v2.3h32.9v-2.3zM0 944.6v2.3h32.9v-2.3zM0 948.2v2.3h32.9v-2.3zM0 951.9v2.3h32.9v-2.3zM0 957.4v2.3h32.9v-2.3zM0 964.8v2.3h32.9v-2.3zM0 968.5v2.3h32.9v-2.3zM0 990.5v2.3h32.9v-2.3zM0 1012.6v2.3h32.9v-2.3zM0 1016.3v4.2h32.9v-4.2zM0 1021.8v2.3h32.9v-2.3zM0 1032.8v2.3h32.9v-2.3zM0 1040.1v2.3h32.9v-2.3zM0 1043.8v2.3h32.9v-2.3zM0 1089.8v2.3h32.9v-2.3zM0 1115.5v2.3h32.9v-2.3zM0 1130.2v2.3h32.9v-2.3zM0 1135.7v2.3h32.9v-2.3zM0 1146.8v2.3h32.9v-2.3zM0 1167.0v2.3h32.9v-2.3zM0 1185.3v2.3h32.9v-2.3zM0 1192.7v2.3h32.9v-2.3zM0 1205.6v2.3h32.9v-2.3zM0 1212.9v2.3h32.9v-2.3zM0 1218.4v2.3h32.9v-2.3zM0 1222.1v4.2h32.9v-4.2zM0 1275.4v2.3h32.9v-2.3zM0 1279.1v2.3h32.9v-2.3zM0 1286.4v2.3h32.9v-2.3zM0 1297.5v2.3h32.9v-2.3zM0 1360.0v2.3h32.9v-2.3zM0 1383.9v2.3h32.9v-2.3zM0 1505.2v2.3h32.9v-2.3zM0 1518.0v2.3h32.9v-2.3zM0 1630.1v2.3h32.9v-2.3zM0 1650.4v1.8h32.9v-1.8z"/><path fill="#dbffcd" d="M0 918.8v2.3h32.9v-2.3zM0 926.2v2.3h32.9v-2.3zM0 953.8v2.3h32.9v-2.3zM0 963.0v2.3h32.9v-2.3zM0 981.3v2.3h32.9v-2.3zM0 986.8v2.3h32.9v-2.3zM0 997.9v2.3h32.9v-2.3zM0 1117.3v2.3h32.9v-2.3zM0 1122.9v2.3h32.9v-2.3zM0 1148.6v2.3h32.9v-2.3zM0 1159.6v2.3h32.9v-2.3zM0 1172.5v2.3h32.9v-2.3zM0 1200.1v2.3h32.9v-2.3zM0 1211.1v2.3h32.9v-2.3zM0 1214.8v2.3h32.9v-2.3zM0 1240.5v4.2h32.9v-4.2zM0 1268.1v4.2h32.9v-4.2zM0 1280.9v6.0h32.9v-6.0zM0 1312.2v4.2h32.9v-4.2zM0 1319.5v2.3h32.9v-2.3zM0 1358.1v2.3h32.9v-2.3zM0 1374.7v2.3h32.9v-2.3zM0 1396.7v2.3h32.9v-2.3zM0 1439.0v2.3h32.9v-2.3zM0 1475.8v2.3h32.9v-2.3zM0 1622.8v2.3h32.9v-2.3z"/><path fill="#c7ffb4" d="M0 922.5v2.3h32.9v-2.3zM0 933.5v4.2h32.9v-4.2zM0 985.0v2.3h32.9v-2.3zM0 1137.6v2.3h32.9v-2.3zM0 1152.3v2.3h32.9v-2.3zM0 1168.8v2.3h32.9v-2.3zM0 1176.2v2.3h32.9v-2.3zM0 1201.9v2.3h32.9v-2.3zM0 1233.1v2.3h32.9v-2.3zM0 1271.7v4.2h32.9v-4.2zM0 1290.1v7.9h32.9v-7.9zM0 1301.1v7.9h32.9v-7.9zM0 1315.8v2.3h32.9v-2.3zM0 1323.2v2.3h32.9v-2.3z"/><path fill="#ffb7a0" d="M0 924.4v2.3h32.9v-2.3zM0 972.1v2.3h32.9v-2.3zM0 1005.2v4.2h32.9v-4.2zM0 1025.4v2.3h32.9v-2.3zM0 1049.3v2.3h32.9v-2.3zM0 1053.0v2.3h32.9v-2.3zM0 1062.2v2.3h32.9v-2.3zM0 1087.9v2.3h32.9v-2.3zM0 1095.3v2.3h32.9v-2.3zM0 1106.3v2.3h32.9v-2.3zM0 1110.0v2.3h32.9v-2.3zM0 1244.2v2.3h32.9v-2.3zM0 1356.3v2.3h32.9v-2.3zM0 1407.7v2.3h32.9v-2.3zM0 1416.9v4.2h32.9v-4.2zM0 1422.5v4.2h32.9v-4.2zM0 1428.0v2.3h32.9v-2.3zM0 1435.3v2.3h32.9v-2.3zM0 1442.7v13.4h32.9v-13.4zM0 1483.1v2.3h32.9v-2.3zM0 1488.6v2.3h32.9v-2.3zM0 1497.8v2.3h32.9v-2.3zM0 1523.5v2.3h32.9v-2.3zM0 1529.1v2.3h32.9v-2.3zM0 1536.4v2.3h32.9v-2.3zM0 1540.1v2.3h32.9v-2.3zM0 1547.4v2.3h32.9v-2.3zM0 1552.9v4.2h32.9v-4.2zM0 1567.7v2.3h32.9v-2.3zM0 1582.4v2.3h32.9v-2.3zM0 1591.5v2.3h32.9v-2.3zM0 1608.1v2.3h32.9v-2.3zM0 1617.3v2.3h32.9v-2.3z"/><path fill="#b1ff9a" d="M0 939.1v2.3h32.9v-2.3zM0 1093.4v2.3h32.9v-2.3zM0 1170.6v2.3h32.9v-2.3zM0 1288.3v2.3h32.9v-2.3zM0 1299.3v2.3h32.9v-2.3zM0 1317.7v2.3h32.9v-2.3zM0 1321.4v2.3h32.9v-2.3z"/><path fill="#ffe7de" d="M0 955.6v2.3h32.9v-2.3zM0 966.6v2.3h32.9v-2.3zM0 970.3v2.3h32.9v-2.3zM0 988.7v2.3h32.9v-2.3zM0 992.4v2.3h32.9v-2.3zM0 1010.7v2.3h32.9v-2.3zM0 1014.4v2.3h32.9v-2.3zM0 1034.6v4.2h32.9v-4.2zM0 1045.7v4.2h32.9v-4.2zM0 1054.8v2.3h32.9v-2.3zM0 1071.4v2.3h32.9v-2.3zM0 1099.0v2.3h32.9v-2.3zM0 1108.2v2.3h32.9v-2.3zM0 1113.7v2.3h32.9v-2.3zM0 1121.0v2.3h32.9v-2.3zM0 1126.5v2.3h32.9v-2.3zM0 1133.9v2.3h32.9v-2.3zM0 1143.1v2.3h32.9v-2.3zM0 1163.3v4.2h32.9v-4.2zM0 1179.8v4.2h32.9v-4.2zM0 1194.5v2.3h32.9v-2.3zM0 1220.3v2.3h32.9v-2.3zM0 1227.6v2.3h32.9v-2.3zM0 1238.7v2.3h32.9v-2.3zM0 1247.8v2.3h32.9v-2.3zM0 1251.5v2.3h32.9v-2.3zM0 1257.0v4.2h32.9v-4.2zM0 1262.5v2.3h32.9v-2.3zM0 1347.1v2.3h32.9v-2.3zM0 1350.8v2.3h32.9v-2.3zM0 1354.4v2.3h32.9v-2.3zM0 1361.8v2.3h32.9v-2.3zM0 1365.5v7.9h32.9v-7.9zM0 1385.7v2.3h32.9v-2.3zM0 1398.6v2.3h32.9v-2.3zM0 1415.1v2.3h32.9v-2.3zM0 1426.1v2.3h32.9v-2.3zM0 1433.5v2.3h32.9v-2.3zM0 1459.2v2.3h32.9v-2.3zM0 1464.7v2.3h32.9v-2.3zM0 1468.4v2.3h32.9v-2.3zM0 1473.9v2.3h32.9v-2.3zM0 1492.3v4.2h32.9v-4.2zM0 1507.0v2.3h32.9v-2.3zM0 1510.7v4.2h32.9v-4.2zM0 1521.7v2.3h32.9v-2.3zM0 1530.9v2.3h32.9v-2.3zM0 1534.6v2.3h32.9v-2.3zM0 1565.8v2.3h32.9v-2.3zM0 1595.2v2.3h32.9v-2.3zM0 1598.9v2.3h32.9v-2.3zM0 1606.2v2.3h32.9v-2.3zM0 1609.9v4.2h32.9v-4.2zM0 1628.3v2.3h32.9v-2.3zM0 1632.0v2.3h32.9v-2.3z"/><path fill="#ff9e81" d="M0 977.7v2.3h32.9v-2.3zM0 983.2v2.3h32.9v-2.3zM0 1064.0v2.3h32.9v-2.3zM0 1075.1v2.3h32.9v-2.3zM0 1080.6v2.3h32.9v-2.3zM0 1100.8v6.0h32.9v-6.0zM0 1255.2v2.3h32.9v-2.3zM0 1411.4v4.2h32.9v-4.2zM0 1429.8v4.2h32.9v-4.2zM0 1501.5v4.2h32.9v-4.2zM0 1514.3v2.3h32.9v-2.3zM0 1538.2v2.3h32.9v-2.3zM0 1545.6v2.3h32.9v-2.3zM0 1549.3v4.2h32.9v-4.2zM0 1558.5v6.0h32.9v-6.0zM0 1573.2v6.0h32.9v-6.0zM0 1580.5v2.3h32.9v-2.3zM0 1615.4v2.3h32.9v-2.3zM0 1648.5v2.3h32.9v-2.3z"/><path fill="#ffcfbf" d="M0 996.0v2.3h32.9v-2.3zM0 999.7v2.3h32.9v-2.3zM0 1019.9v2.3h32.9v-2.3zM0 1023.6v2.3h32.9v-2.3zM0 1027.3v2.3h32.9v-2.3zM0 1038.3v2.3h32.9v-2.3zM0 1056.7v4.2h32.9v-4.2zM0 1065.9v2.3h32.9v-2.3zM0 1069.6v2.3h32.9v-2.3zM0 1076.9v4.2h32.9v-4.2zM0 1091.6v2.3h32.9v-2.3zM0 1111.8v2.3h32.9v-2.3zM0 1119.2v2.3h32.9v-2.3zM0 1124.7v2.3h32.9v-2.3zM0 1128.4v2.3h32.9v-2.3zM0 1161.5v2.3h32.9v-2.3zM0 1187.2v2.3h32.9v-2.3zM0 1198.2v2.3h32.9v-2.3zM0 1207.4v2.3h32.9v-2.3zM0 1253.4v2.3h32.9v-2.3zM0 1266.2v2.3h32.9v-2.3zM0 1352.6v2.3h32.9v-2.3zM0 1380.2v2.3h32.9v-2.3zM0 1394.9v2.3h32.9v-2.3zM0 1402.2v2.3h32.9v-2.3zM0 1437.2v2.3h32.9v-2.3zM0 1466.6v2.3h32.9v-2.3zM0 1472.1v2.3h32.9v-2.3zM0 1479.4v2.3h32.9v-2.3zM0 1484.9v2.3h32.9v-2.3zM0 1508.8v2.3h32.9v-2.3zM0 1519.9v2.3h32.9v-2.3zM0 1525.4v4.2h32.9v-4.2zM0 1532.7v2.3h32.9v-2.3zM0 1543.8v2.3h32.9v-2.3zM0 1578.7v2.3h32.9v-2.3zM0 1584.2v7.9h32.9v-7.9zM0 1604.4v2.3h32.9v-2.3zM0 1619.1v4.2h32.9v-4.2zM0 1624.6v2.3h32.9v-2.3zM0 1635.7v13.4h32.9v-13.4z"/><path fill="#ff8464" d="M0 1060.4v2.3h32.9v-2.3zM0 1067.7v2.3h32.9v-2.3zM0 1073.2v2.3h32.9v-2.3zM0 1097.1v2.3h32.9v-2.3zM0 1236.8v2.3h32.9v-2.3zM0 1337.9v2.3h32.9v-2.3zM0 1343.4v4.2h32.9v-4.2zM0 1405.9v2.3h32.9v-2.3zM0 1420.6v2.3h32.9v-2.3zM0 1440.8v2.3h32.9v-2.3zM0 1457.4v2.3h32.9v-2.3zM0 1496.0v2.3h32.9v-2.3zM0 1541.9v2.3h32.9v-2.3zM0 1564.0v2.3h32.9v-2.3zM0 1569.5v4.2h32.9v-4.2z"/><path fill="#ff6846" d="M0 1086.1v2.3h32.9v-2.3zM0 1326.9v7.9h32.9v-7.9zM0 1336.1v2.3h32.9v-2.3zM0 1339.7v2.3h32.9v-2.3zM0 1556.6v2.3h32.9v-2.3z"/><path fill="#99ff80" d="M0 1308.5v2.3h32.9v-2.3zM0 1325.0v2.3h32.9v-2.3zM0 1602.6v2.3h32.9v-2.3z"/><path fill="#f00" d="M0 1334.2v2.3h32.9v-2.3zM0 1341.6v2.3h32.9v-2.3z"/></g><g transform="translate(340.3,0)"><path fill="#dbffcd" d="M0 917.0v2.3h32.9v-2.3zM0 929.9v2.3h32.9v-2.3zM0 933.5v6.0h32.9v-6.0zM0 948.2v2.3h32.9v-2.3zM0 951.9v2.3h32.9v-2.3zM0 981.3v2.3h32.9v-2.3zM0 985.0v2.3h32.9v-2.3zM0 990.5v2.3h32.9v-2.3zM0 997.9v2.3h32.9v-2.3zM0 1117.3v2.3h32.9v-2.3zM0 1137.6v4.2h32.9v-4.2zM0 1148.6v2.3h32.9v-2.3zM0 1168.8v2.3h32.9v-2.3zM0 1201.9v2.3h32.9v-2.3zM0 1231.3v2.3h32.9v-2.3zM0 1242.3v2.3h32.9v-2.3zM0 1268.1v2.3h32.9v-2.3zM0 1271.7v2.3h32.9v-2.3zM0 1279.1v2.3h32.9v-2.3zM0 1282.8v2.3h32.9v-2.3zM0 1295.6v2.3h32.9v-2.3zM0 1301.1v2.3h32.9v-2.3zM0 1304.8v2.3h32.9v-2.3zM0 1314.0v2.3h32.9v-2.3zM0 1317.7v2.3h32.9v-2.3zM0 1321.4v4.2h32.9v-4.2zM0 1374.7v2.3h32.9v-2.3zM0 1475.8v2.3h32.9v-2.3z"/><path fill="#edffe6" d="M0 918.8v4.2h32.9v-4.2zM0 926.2v2.3h32.9v-2.3zM0 940.9v2.3h32.9v-2.3zM0 944.6v2.3h32.9v-2.3zM0 963.0v4.2h32.9v-4.2zM0 968.5v2.3h32.9v-2.3zM0 979.5v2.3h32.9v-2.3zM0 986.8v2.3h32.9v-2.3zM0 1003.4v2.3h32.9v-2.3zM0 1021.8v2.3h32.9v-2.3zM0 1032.8v4.2h32.9v-4.2zM0 1042.0v4.2h32.9v-4.2zM0 1089.8v2.3h32.9v-2.3zM0 1115.5v2.3h32.9v-2.3zM0 1122.9v2.3h32.9v-2.3zM0 1130.2v2.3h32.9v-2.3zM0 1141.2v2.3h32.9v-2.3zM0 1144.9v2.3h32.9v-2.3zM0 1152.3v2.3h32.9v-2.3zM0 1167.0v2.3h32.9v-2.3zM0 1190.9v4.2h32.9v-4.2zM0 1196.4v2.3h32.9v-2.3zM0 1200.1v2.3h32.9v-2.3zM0 1211.1v2.3h32.9v-2.3zM0 1214.8v2.3h32.9v-2.3zM0 1218.4v2.3h32.9v-2.3zM0 1222.1v6.0h32.9v-6.0zM0 1229.5v2.3h32.9v-2.3zM0 1249.7v2.3h32.9v-2.3zM0 1275.4v4.2h32.9v-4.2zM0 1280.9v2.3h32.9v-2.3zM0 1284.6v2.3h32.9v-2.3zM0 1303.0v2.3h32.9v-2.3zM0 1312.2v2.3h32.9v-2.3zM0 1319.5v2.3h32.9v-2.3zM0 1358.1v2.3h32.9v-2.3zM0 1367.3v2.3h32.9v-2.3zM0 1382.0v4.2h32.9v-4.2zM0 1387.5v2.3h32.9v-2.3zM0 1396.7v2.3h32.9v-2.3zM0 1400.4v2.3h32.9v-2.3zM0 1404.1v2.3h32.9v-2.3zM0 1455.5v2.3h32.9v-2.3zM0 1461.0v2.3h32.9v-2.3zM0 1470.2v2.3h32.9v-2.3zM0 1481.3v2.3h32.9v-2.3zM0 1516.2v4.2h32.9v-4.2zM0 1534.6v2.3h32.9v-2.3zM0 1600.7v2.3h32.9v-2.3zM0 1622.8v2.3h32.9v-2.3zM0 1630.1v2.3h32.9v-2.3z"/><path fill="#c7ffb4" d="M0 922.5v2.3h32.9v-2.3zM0 946.4v2.3h32.9v-2.3zM0 1012.6v2.3h32.9v-2.3zM0 1150.4v2.3h32.9v-2.3zM0 1170.6v2.3h32.9v-2.3zM0 1176.2v2.3h32.9v-2.3zM0 1233.1v2.3h32.9v-2.3zM0 1240.5v2.3h32.9v-2.3zM0 1264.4v2.3h32.9v-2.3zM0 1273.6v2.3h32.9v-2.3zM0 1288.3v7.9h32.9v-7.9z"/><path fill="#ffcfbf" d="M0 924.4v2.3h32.9v-2.3zM0 931.7v2.3h32.9v-2.3zM0 970.3v2.3h32.9v-2.3zM0 999.7v2.3h32.9v-2.3zM0 1005.2v4.2h32.9v-4.2zM0 1010.7v2.3h32.9v-2.3zM0 1019.9v2.3h32.9v-2.3zM0 1023.6v2.3h32.9v-2.3zM0 1045.7v2.3h32.9v-2.3zM0 1049.3v4.2h32.9v-4.2zM0 1082.4v2.3h32.9v-2.3zM0 1095.3v2.3h32.9v-2.3zM0 1099.0v2.3h32.9v-2.3zM0 1111.8v2.3h32.9v-2.3zM0 1128.4v2.3h32.9v-2.3zM0 1227.6v2.3h32.9v-2.3zM0 1247.8v2.3h32.9v-2.3zM0 1347.1v2.3h32.9v-2.3zM0 1356.3v2.3h32.9v-2.3zM0 1361.8v2.3h32.9v-2.3zM0 1376.5v2.3h32.9v-2.3zM0 1380.2v2.3h32.9v-2.3zM0 1402.2v2.3h32.9v-2.3zM0 1407.7v2.3h32.9v-2.3zM0 1415.1v2.3h32.9v-2.3zM0 1426.1v2.3h32.9v-2.3zM0 1433.5v13.4h32.9v-13.4zM0 1453.7v2.3h32.9v-2.3zM0 1464.7v6.0h32.9v-6.0zM0 1472.1v2.3h32.9v-2.3zM0 1479.4v2.3h32.9v-2.3zM0 1483.1v2.3h32.9v-2.3zM0 1510.7v2.3h32.9v-2.3zM0 1519.9v2.3h32.9v-2.3zM0 1523.5v2.3h32.9v-2.3zM0 1530.9v4.2h32.9v-4.2zM0 1541.9v2.3h32.9v-2.3zM0 1547.4v2.3h32.9v-2.3zM0 1565.8v4.2h32.9v-4.2zM0 1578.7v2.3h32.9v-2.3zM0 1584.2v2.3h32.9v-2.3zM0 1606.2v2.3h32.9v-2.3zM0 1619.1v4.2h32.9v-4.2zM0 1624.6v2.3h32.9v-2.3zM0 1632.0v2.3h32.9v-2.3zM0 1635.7v2.3h32.9v-2.3zM0 1639.3v2.3h32.9v-2.3zM0 1643.0v2.3h32.9v-2.3z"/><path fill="#ffe7de" d="M0 928.0v2.3h32.9v-2.3zM0 942.7v2.3h32.9v-2.3zM0 955.6v2.3h32.9v-2.3zM0 972.1v2.3h32.9v-2.3zM0 994.2v2.3h32.9v-2.3zM0 1014.4v4.2h32.9v-4.2zM0 1027.3v6.0h32.9v-6.0zM0 1038.3v2.3h32.9v-2.3zM0 1047.5v2.3h32.9v-2.3zM0 1054.8v2.3h32.9v-2.3zM0 1071.4v2.3h32.9v-2.3zM0 1093.4v2.3h32.9v-2.3zM0 1113.7v2.3h32.9v-2.3zM0 1121.0v2.3h32.9v-2.3zM0 1126.5v2.3h32.9v-2.3zM0 1143.1v2.3h32.9v-2.3zM0 1154.1v2.3h32.9v-2.3zM0 1161.5v2.3h32.9v-2.3zM0 1174.3v2.3h32.9v-2.3zM0 1183.5v2.3h32.9v-2.3zM0 1194.5v2.3h32.9v-2.3zM0 1207.4v2.3h32.9v-2.3zM0 1220.3v2.3h32.9v-2.3zM0 1235.0v4.2h32.9v-4.2zM0 1244.2v4.2h32.9v-4.2zM0 1257.0v4.2h32.9v-4.2zM0 1262.5v2.3h32.9v-2.3zM0 1266.2v2.3h32.9v-2.3zM0 1310.3v2.3h32.9v-2.3zM0 1354.4v2.3h32.9v-2.3zM0 1365.5v2.3h32.9v-2.3zM0 1369.1v2.3h32.9v-2.3zM0 1394.9v2.3h32.9v-2.3zM0 1451.9v2.3h32.9v-2.3zM0 1462.9v2.3h32.9v-2.3zM0 1473.9v2.3h32.9v-2.3zM0 1477.6v2.3h32.9v-2.3zM0 1484.9v2.3h32.9v-2.3zM0 1488.6v2.3h32.9v-2.3zM0 1494.1v2.3h32.9v-2.3zM0 1521.7v2.3h32.9v-2.3zM0 1527.2v2.3h32.9v-2.3zM0 1543.8v2.3h32.9v-2.3zM0 1586.0v2.3h32.9v-2.3zM0 1591.5v4.2h32.9v-4.2zM0 1602.6v4.2h32.9v-4.2zM0 1609.9v2.3h32.9v-2.3zM0 1613.6v2.3h32.9v-2.3zM0 1633.8v2.3h32.9v-2.3zM0 1637.5v2.3h32.9v-2.3zM0 1641.2v2.3h32.9v-2.3zM0 1644.8v4.2h32.9v-4.2z"/><path fill="#b1ff9a" d="M0 939.1v2.3h32.9v-2.3zM0 1269.9v2.3h32.9v-2.3zM0 1299.3v2.3h32.9v-2.3zM0 1306.7v4.2h32.9v-4.2zM0 1352.6v2.3h32.9v-2.3zM0 1391.2v2.3h32.9v-2.3z"/><path fill="#7dff64" d="M0 953.8v2.3h32.9v-2.3z"/><path fill="#ff9e81" d="M0 977.7v2.3h32.9v-2.3zM0 1067.7v2.3h32.9v-2.3zM0 1073.2v2.3h32.9v-2.3zM0 1078.7v2.3h32.9v-2.3zM0 1087.9v2.3h32.9v-2.3zM0 1097.1v2.3h32.9v-2.3zM0 1100.8v2.3h32.9v-2.3zM0 1106.3v2.3h32.9v-2.3zM0 1253.4v4.2h32.9v-4.2zM0 1330.5v2.3h32.9v-2.3zM0 1371.0v2.3h32.9v-2.3zM0 1418.8v2.3h32.9v-2.3zM0 1422.5v2.3h32.9v-2.3zM0 1431.6v2.3h32.9v-2.3zM0 1501.5v2.3h32.9v-2.3zM0 1538.2v2.3h32.9v-2.3zM0 1545.6v2.3h32.9v-2.3zM0 1549.3v2.3h32.9v-2.3zM0 1558.5v2.3h32.9v-2.3zM0 1562.1v2.3h32.9v-2.3zM0 1573.2v2.3h32.9v-2.3zM0 1576.8v2.3h32.9v-2.3z"/><path fill="#ffb7a0" d="M0 983.2v2.3h32.9v-2.3zM0 996.0v2.3h32.9v-2.3zM0 1025.4v2.3h32.9v-2.3zM0 1053.0v2.3h32.9v-2.3zM0 1056.7v2.3h32.9v-2.3zM0 1060.4v7.9h32.9v-7.9zM0 1069.6v2.3h32.9v-2.3zM0 1075.1v4.2h32.9v-4.2zM0 1080.6v2.3h32.9v-2.3zM0 1102.6v2.3h32.9v-2.3zM0 1108.2v4.2h32.9v-4.2zM0 1187.2v2.3h32.9v-2.3zM0 1198.2v2.3h32.9v-2.3zM0 1251.5v2.3h32.9v-2.3zM0 1385.7v2.3h32.9v-2.3zM0 1411.4v4.2h32.9v-4.2zM0 1416.9v2.3h32.9v-2.3zM0 1420.6v2.3h32.9v-2.3zM0 1424.3v2.3h32.9v-2.3zM0 1428.0v2.3h32.9v-2.3zM0 1446.3v2.3h32.9v-2.3zM0 1450.0v2.3h32.9v-2.3zM0 1497.8v2.3h32.9v-2.3zM0 1508.8v2.3h32.9v-2.3zM0 1514.3v2.3h32.9v-2.3zM0 1525.4v2.3h32.9v-2.3zM0 1536.4v2.3h32.9v-2.3zM0 1540.1v2.3h32.9v-2.3zM0 1554.8v4.2h32.9v-4.2zM0 1571.3v2.3h32.9v-2.3zM0 1580.5v2.3h32.9v-2.3zM0 1587.9v4.2h32.9v-4.2zM0 1608.1v2.3h32.9v-2.3zM0 1615.4v4.2h32.9v-4.2zM0 1648.5v2.3h32.9v-2.3z"/><path fill="#ff8464" d="M0 1086.1v2.3h32.9v-2.3zM0 1328.7v2.3h32.9v-2.3zM0 1339.7v2.3h32.9v-2.3zM0 1405.9v2.3h32.9v-2.3zM0 1429.8v2.3h32.9v-2.3zM0 1448.2v2.3h32.9v-2.3zM0 1496.0v2.3h32.9v-2.3zM0 1529.1v2.3h32.9v-2.3zM0 1551.1v4.2h32.9v-4.2zM0 1560.3v2.3h32.9v-2.3zM0 1564.0v2.3h32.9v-2.3zM0 1569.5v2.3h32.9v-2.3zM0 1575.0v2.3h32.9v-2.3zM0 1582.4v2.3h32.9v-2.3z"/><path fill="#ff6846" d="M0 1091.6v2.3h32.9v-2.3zM0 1326.9v2.3h32.9v-2.3zM0 1336.1v4.2h32.9v-4.2zM0 1343.4v2.3h32.9v-2.3zM0 1457.4v2.3h32.9v-2.3z"/><path fill="#99ff80" d="M0 1315.8v2.3h32.9v-2.3zM0 1325.0v2.3h32.9v-2.3z"/><path fill="#ff4628" d="M0 1332.4v2.3h32.9v-2.3z"/><path fill="#f00" d="M0 1334.2v2.3h32.9v-2.3zM0 1341.6v2.3h32.9v-2.3zM0 1345.3v2.3h32.9v-2.3zM0 1503.3v2.3h32.9v-2.3z"/></g><g transform="translate(373.0,0)"><path fill="#dbffcd" d="M0 917.0v2.3h32.9v-2.3zM0 920.7v2.3h32.9v-2.3zM0 929.9v2.3h32.9v-2.3zM0 933.5v2.3h32.9v-2.3zM0 937.2v2.3h32.9v-2.3zM0 940.9v2.3h32.9v-2.3zM0 944.6v2.3h32.9v-2.3zM0 948.2v2.3h32.9v-2.3zM0 963.0v4.2h32.9v-4.2zM0 986.8v2.3h32.9v-2.3zM0 990.5v2.3h32.9v-2.3zM0 1021.8v2.3h32.9v-2.3zM0 1032.8v2.3h32.9v-2.3zM0 1137.6v2.3h32.9v-2.3zM0 1141.2v2.3h32.9v-2.3zM0 1150.4v2.3h32.9v-2.3zM0 1165.1v2.3h32.9v-2.3zM0 1172.5v2.3h32.9v-2.3zM0 1200.1v4.2h32.9v-4.2zM0 1205.6v2.3h32.9v-2.3zM0 1218.4v2.3h32.9v-2.3zM0 1223.9v2.3h32.9v-2.3zM0 1240.5v2.3h32.9v-2.3zM0 1269.9v6.0h32.9v-6.0zM0 1288.3v2.3h32.9v-2.3zM0 1293.8v2.3h32.9v-2.3zM0 1312.2v2.3h32.9v-2.3zM0 1317.7v2.3h32.9v-2.3zM0 1321.4v2.3h32.9v-2.3zM0 1360.0v2.3h32.9v-2.3zM0 1404.1v2.3h32.9v-2.3zM0 1439.0v2.3h32.9v-2.3z"/><path fill="#edffe6" d="M0 918.8v2.3h32.9v-2.3zM0 926.2v2.3h32.9v-2.3zM0 950.1v6.0h32.9v-6.0zM0 968.5v2.3h32.9v-2.3zM0 975.8v2.3h32.9v-2.3zM0 979.5v4.2h32.9v-4.2zM0 992.4v2.3h32.9v-2.3zM0 997.9v2.3h32.9v-2.3zM0 1040.1v2.3h32.9v-2.3zM0 1043.8v2.3h32.9v-2.3zM0 1089.8v2.3h32.9v-2.3zM0 1117.3v4.2h32.9v-4.2zM0 1122.9v2.3h32.9v-2.3zM0 1139.4v2.3h32.9v-2.3zM0 1183.5v2.3h32.9v-2.3zM0 1192.7v2.3h32.9v-2.3zM0 1203.7v2.3h32.9v-2.3zM0 1211.1v7.9h32.9v-7.9zM0 1222.1v2.3h32.9v-2.3zM0 1225.8v2.3h32.9v-2.3zM0 1238.7v2.3h32.9v-2.3zM0 1268.1v2.3h32.9v-2.3zM0 1277.2v2.3h32.9v-2.3zM0 1284.6v2.3h32.9v-2.3zM0 1319.5v2.3h32.9v-2.3zM0 1323.2v2.3h32.9v-2.3zM0 1358.1v2.3h32.9v-2.3zM0 1367.3v2.3h32.9v-2.3zM0 1372.8v4.2h32.9v-4.2zM0 1382.0v4.2h32.9v-4.2zM0 1396.7v2.3h32.9v-2.3zM0 1475.8v4.2h32.9v-4.2zM0 1518.0v2.3h32.9v-2.3zM0 1602.6v2.3h32.9v-2.3zM0 1622.8v2.3h32.9v-2.3z"/><path fill="#b1ff9a" d="M0 922.5v2.3h32.9v-2.3zM0 1170.6v2.3h32.9v-2.3zM0 1290.1v2.3h32.9v-2.3zM0 1299.3v2.3h32.9v-2.3zM0 1306.7v2.3h32.9v-2.3zM0 1315.8v2.3h32.9v-2.3zM0 1325.0v2.3h32.9v-2.3z"/><path fill="#ffe7de" d="M0 928.0v2.3h32.9v-2.3zM0 931.7v2.3h32.9v-2.3zM0 955.6v4.2h32.9v-4.2zM0 972.1v2.3h32.9v-2.3zM0 988.7v2.3h32.9v-2.3zM0 994.2v2.3h32.9v-2.3zM0 1001.5v2.3h32.9v-2.3zM0 1008.9v2.3h32.9v-2.3zM0 1016.3v2.3h32.9v-2.3zM0 1027.3v4.2h32.9v-4.2zM0 1036.5v2.3h32.9v-2.3zM0 1045.7v2.3h32.9v-2.3zM0 1058.5v4.2h32.9v-4.2zM0 1076.9v2.3h32.9v-2.3zM0 1084.3v2.3h32.9v-2.3zM0 1091.6v2.3h32.9v-2.3zM0 1111.8v2.3h32.9v-2.3zM0 1124.7v4.2h32.9v-4.2zM0 1133.9v2.3h32.9v-2.3zM0 1143.1v2.3h32.9v-2.3zM0 1178.0v4.2h32.9v-4.2zM0 1185.3v2.3h32.9v-2.3zM0 1194.5v2.3h32.9v-2.3zM0 1207.4v2.3h32.9v-2.3zM0 1227.6v2.3h32.9v-2.3zM0 1246.0v2.3h32.9v-2.3zM0 1257.0v6.0h32.9v-6.0zM0 1264.4v2.3h32.9v-2.3zM0 1354.4v2.3h32.9v-2.3zM0 1361.8v6.0h32.9v-6.0zM0 1369.1v2.3h32.9v-2.3zM0 1376.5v2.3h32.9v-2.3zM0 1380.2v2.3h32.9v-2.3zM0 1402.2v2.3h32.9v-2.3zM0 1426.1v2.3h32.9v-2.3zM0 1446.3v2.3h32.9v-2.3zM0 1451.9v2.3h32.9v-2.3zM0 1455.5v2.3h32.9v-2.3zM0 1505.2v4.2h32.9v-4.2zM0 1512.5v2.3h32.9v-2.3zM0 1527.2v2.3h32.9v-2.3zM0 1543.8v2.3h32.9v-2.3zM0 1578.7v2.3h32.9v-2.3zM0 1589.7v2.3h32.9v-2.3zM0 1593.4v2.3h32.9v-2.3zM0 1600.7v2.3h32.9v-2.3zM0 1604.4v6.0h32.9v-6.0zM0 1611.8v4.2h32.9v-4.2zM0 1619.1v2.3h32.9v-2.3zM0 1628.3v2.3h32.9v-2.3zM0 1632.0v2.3h32.9v-2.3zM0 1637.5v2.3h32.9v-2.3zM0 1643.0v2.3h32.9v-2.3z"/><path fill="#c7ffb4" d="M0 935.4v2.3h32.9v-2.3zM0 939.1v2.3h32.9v-2.3zM0 946.4v2.3h32.9v-2.3zM0 985.0v2.3h32.9v-2.3zM0 1012.6v2.3h32.9v-2.3zM0 1148.6v2.3h32.9v-2.3zM0 1152.3v2.3h32.9v-2.3zM0 1168.8v2.3h32.9v-2.3zM0 1176.2v2.3h32.9v-2.3zM0 1233.1v2.3h32.9v-2.3zM0 1275.4v2.3h32.9v-2.3zM0 1279.1v4.2h32.9v-4.2zM0 1292.0v2.3h32.9v-2.3zM0 1295.6v2.3h32.9v-2.3zM0 1301.1v6.0h32.9v-6.0zM0 1308.5v2.3h32.9v-2.3zM0 1314.0v2.3h32.9v-2.3z"/><path fill="#ffcfbf" d="M0 970.3v2.3h32.9v-2.3zM0 977.7v2.3h32.9v-2.3zM0 996.0v2.3h32.9v-2.3zM0 999.7v2.3h32.9v-2.3zM0 1005.2v2.3h32.9v-2.3zM0 1014.4v2.3h32.9v-2.3zM0 1019.9v2.3h32.9v-2.3zM0 1025.4v2.3h32.9v-2.3zM0 1038.3v2.3h32.9v-2.3zM0 1047.5v6.0h32.9v-6.0zM0 1054.8v2.3h32.9v-2.3zM0 1071.4v2.3h32.9v-2.3zM0 1093.4v4.2h32.9v-4.2zM0 1099.0v2.3h32.9v-2.3zM0 1108.2v2.3h32.9v-2.3zM0 1113.7v2.3h32.9v-2.3zM0 1128.4v2.3h32.9v-2.3zM0 1146.8v2.3h32.9v-2.3zM0 1157.8v2.3h32.9v-2.3zM0 1161.5v2.3h32.9v-2.3zM0 1187.2v2.3h32.9v-2.3zM0 1244.2v2.3h32.9v-2.3zM0 1247.8v2.3h32.9v-2.3zM0 1251.5v2.3h32.9v-2.3zM0 1266.2v2.3h32.9v-2.3zM0 1347.1v2.3h32.9v-2.3zM0 1385.7v2.3h32.9v-2.3zM0 1400.4v2.3h32.9v-2.3zM0 1422.5v4.2h32.9v-4.2zM0 1428.0v2.3h32.9v-2.3zM0 1433.5v2.3h32.9v-2.3zM0 1437.2v2.3h32.9v-2.3zM0 1440.8v4.2h32.9v-4.2zM0 1464.7v6.0h32.9v-6.0zM0 1472.1v2.3h32.9v-2.3zM0 1483.1v2.3h32.9v-2.3zM0 1486.8v4.2h32.9v-4.2zM0 1494.1v2.3h32.9v-2.3zM0 1497.8v2.3h32.9v-2.3zM0 1508.8v2.3h32.9v-2.3zM0 1514.3v2.3h32.9v-2.3zM0 1519.9v2.3h32.9v-2.3zM0 1525.4v2.3h32.9v-2.3zM0 1532.7v2.3h32.9v-2.3zM0 1536.4v2.3h32.9v-2.3zM0 1540.1v4.2h32.9v-4.2zM0 1547.4v2.3h32.9v-2.3zM0 1554.8v4.2h32.9v-4.2zM0 1565.8v2.3h32.9v-2.3zM0 1587.9v2.3h32.9v-2.3zM0 1597.1v2.3h32.9v-2.3zM0 1617.3v2.3h32.9v-2.3zM0 1621.0v2.3h32.9v-2.3zM0 1633.8v2.3h32.9v-2.3zM0 1639.3v2.3h32.9v-2.3zM0 1644.8v2.3h32.9v-2.3z"/><path fill="#ffb7a0" d="M0 983.2v2.3h32.9v-2.3zM0 1007.1v2.3h32.9v-2.3zM0 1023.6v2.3h32.9v-2.3zM0 1056.7v2.3h32.9v-2.3zM0 1064.0v4.2h32.9v-4.2zM0 1069.6v2.3h32.9v-2.3zM0 1073.2v4.2h32.9v-4.2zM0 1078.7v2.3h32.9v-2.3zM0 1087.9v2.3h32.9v-2.3zM0 1097.1v2.3h32.9v-2.3zM0 1102.6v6.0h32.9v-6.0zM0 1110.0v2.3h32.9v-2.3zM0 1121.0v2.3h32.9v-2.3zM0 1198.2v2.3h32.9v-2.3zM0 1236.8v2.3h32.9v-2.3zM0 1253.4v4.2h32.9v-4.2zM0 1352.6v2.3h32.9v-2.3zM0 1407.7v2.3h32.9v-2.3zM0 1411.4v2.3h32.9v-2.3zM0 1431.6v2.3h32.9v-2.3zM0 1435.3v2.3h32.9v-2.3zM0 1444.5v2.3h32.9v-2.3zM0 1448.2v4.2h32.9v-4.2zM0 1453.7v2.3h32.9v-2.3zM0 1503.3v2.3h32.9v-2.3zM0 1510.7v2.3h32.9v-2.3zM0 1523.5v2.3h32.9v-2.3zM0 1530.9v2.3h32.9v-2.3zM0 1567.7v2.3h32.9v-2.3zM0 1586.0v2.3h32.9v-2.3zM0 1591.5v2.3h32.9v-2.3zM0 1615.4v2.3h32.9v-2.3zM0 1624.6v2.3h32.9v-2.3zM0 1635.7v2.3h32.9v-2.3zM0 1648.5v2.3h32.9v-2.3z"/><path fill="#ff9e81" d="M0 1053.0v2.3h32.9v-2.3zM0 1067.7v2.3h32.9v-2.3zM0 1080.6v2.3h32.9v-2.3zM0 1100.8v2.3h32.9v-2.3zM0 1332.4v2.3h32.9v-2.3zM0 1337.9v2.3h32.9v-2.3zM0 1356.3v2.3h32.9v-2.3zM0 1371.0v2.3h32.9v-2.3zM0 1413.3v9.7h32.9v-9.7zM0 1429.8v2.3h32.9v-2.3zM0 1479.4v2.3h32.9v-2.3zM0 1496.0v2.3h32.9v-2.3zM0 1545.6v2.3h32.9v-2.3zM0 1551.1v2.3h32.9v-2.3zM0 1564.0v2.3h32.9v-2.3zM0 1571.3v2.3h32.9v-2.3zM0 1575.0v2.3h32.9v-2.3zM0 1580.5v2.3h32.9v-2.3zM0 1584.2v2.3h32.9v-2.3z"/><path fill="#ff8464" d="M0 1062.2v2.3h32.9v-2.3zM0 1086.1v2.3h32.9v-2.3zM0 1330.5v2.3h32.9v-2.3zM0 1336.1v2.3h32.9v-2.3zM0 1343.4v2.3h32.9v-2.3zM0 1501.5v2.3h32.9v-2.3zM0 1529.1v2.3h32.9v-2.3zM0 1538.2v2.3h32.9v-2.3zM0 1549.3v2.3h32.9v-2.3zM0 1552.9v2.3h32.9v-2.3zM0 1558.5v2.3h32.9v-2.3zM0 1569.5v2.3h32.9v-2.3zM0 1573.2v2.3h32.9v-2.3zM0 1576.8v2.3h32.9v-2.3z"/><path fill="#ff4628" d="M0 1326.9v2.3h32.9v-2.3zM0 1341.6v2.3h32.9v-2.3z"/><path fill="#ff6846" d="M0 1328.7v2.3h32.9v-2.3zM0 1345.3v2.3h32.9v-2.3zM0 1405.9v2.3h32.9v-2.3zM0 1457.4v2.3h32.9v-2.3zM0 1560.3v2.3h32.9v-2.3z"/><path fill="#f00" d="M0 1334.2v2.3h32.9v-2.3zM0 1339.7v2.3h32.9v-2.3zM0 1562.1v2.3h32.9v-2.3z"/></g><g transform="translate(405.7,0)"><path fill="#dbffcd" d="M0 917.0v2.3h32.9v-2.3zM0 933.5v2.3h32.9v-2.3zM0 937.2v2.3h32.9v-2.3zM0 944.6v4.2h32.9v-4.2zM0 957.4v2.3h32.9v-2.3zM0 968.5v2.3h32.9v-2.3zM0 1034.6v2.3h32.9v-2.3zM0 1117.3v2.3h32.9v-2.3zM0 1135.7v4.2h32.9v-4.2zM0 1150.4v4.2h32.9v-4.2zM0 1155.9v2.3h32.9v-2.3zM0 1168.8v2.3h32.9v-2.3zM0 1172.5v2.3h32.9v-2.3zM0 1176.2v2.3h32.9v-2.3zM0 1192.7v2.3h32.9v-2.3zM0 1201.9v2.3h32.9v-2.3zM0 1205.6v2.3h32.9v-2.3zM0 1218.4v2.3h32.9v-2.3zM0 1240.5v2.3h32.9v-2.3zM0 1273.6v4.2h32.9v-4.2zM0 1279.1v4.2h32.9v-4.2zM0 1293.8v4.2h32.9v-4.2zM0 1301.1v2.3h32.9v-2.3zM0 1312.2v4.2h32.9v-4.2zM0 1319.5v2.3h32.9v-2.3zM0 1323.2v2.3h32.9v-2.3zM0 1396.7v2.3h32.9v-2.3zM0 1475.8v2.3h32.9v-2.3z"/><path fill="#edffe6" d="M0 920.7v2.3h32.9v-2.3zM0 926.2v2.3h32.9v-2.3zM0 929.9v2.3h32.9v-2.3zM0 940.9v4.2h32.9v-4.2zM0 948.2v7.9h32.9v-7.9zM0 961.1v6.0h32.9v-6.0zM0 979.5v4.2h32.9v-4.2zM0 985.0v4.2h32.9v-4.2zM0 997.9v2.3h32.9v-2.3zM0 1012.6v2.3h32.9v-2.3zM0 1021.8v2.3h32.9v-2.3zM0 1032.8v2.3h32.9v-2.3zM0 1122.9v2.3h32.9v-2.3zM0 1133.9v2.3h32.9v-2.3zM0 1139.4v4.2h32.9v-4.2zM0 1144.9v4.2h32.9v-4.2zM0 1167.0v2.3h32.9v-2.3zM0 1185.3v2.3h32.9v-2.3zM0 1194.5v2.3h32.9v-2.3zM0 1200.1v2.3h32.9v-2.3zM0 1211.1v6.0h32.9v-6.0zM0 1222.1v2.3h32.9v-2.3zM0 1231.3v2.3h32.9v-2.3zM0 1249.7v2.3h32.9v-2.3zM0 1268.1v2.3h32.9v-2.3zM0 1277.2v2.3h32.9v-2.3zM0 1282.8v4.2h32.9v-4.2zM0 1317.7v2.3h32.9v-2.3zM0 1358.1v2.3h32.9v-2.3zM0 1372.8v2.3h32.9v-2.3zM0 1383.9v2.3h32.9v-2.3zM0 1393.0v2.3h32.9v-2.3zM0 1400.4v2.3h32.9v-2.3zM0 1470.2v2.3h32.9v-2.3zM0 1481.3v2.3h32.9v-2.3zM0 1490.5v2.3h32.9v-2.3zM0 1505.2v2.3h32.9v-2.3zM0 1518.0v2.3h32.9v-2.3zM0 1630.1v2.3h32.9v-2.3z"/><path fill="#b1ff9a" d="M0 922.5v2.3h32.9v-2.3zM0 1290.1v2.3h32.9v-2.3zM0 1299.3v2.3h32.9v-2.3zM0 1304.8v2.3h32.9v-2.3zM0 1325.0v2.3h32.9v-2.3z"/><path fill="#ffe7de" d="M0 924.4v2.3h32.9v-2.3zM0 928.0v2.3h32.9v-2.3zM0 955.6v2.3h32.9v-2.3zM0 988.7v2.3h32.9v-2.3zM0 994.2v2.3h32.9v-2.3zM0 1001.5v2.3h32.9v-2.3zM0 1008.9v2.3h32.9v-2.3zM0 1014.4v4.2h32.9v-4.2zM0 1027.3v2.3h32.9v-2.3zM0 1031.0v2.3h32.9v-2.3zM0 1042.0v2.3h32.9v-2.3zM0 1045.7v4.2h32.9v-4.2zM0 1054.8v2.3h32.9v-2.3zM0 1089.8v2.3h32.9v-2.3zM0 1121.0v2.3h32.9v-2.3zM0 1126.5v2.3h32.9v-2.3zM0 1154.1v2.3h32.9v-2.3zM0 1163.3v2.3h32.9v-2.3zM0 1190.9v2.3h32.9v-2.3zM0 1196.4v2.3h32.9v-2.3zM0 1207.4v2.3h32.9v-2.3zM0 1216.6v2.3h32.9v-2.3zM0 1235.0v6.0h32.9v-6.0zM0 1244.2v6.0h32.9v-6.0zM0 1257.0v2.3h32.9v-2.3zM0 1264.4v2.3h32.9v-2.3zM0 1315.8v2.3h32.9v-2.3zM0 1347.1v2.3h32.9v-2.3zM0 1354.4v2.3h32.9v-2.3zM0 1361.8v2.3h32.9v-2.3zM0 1376.5v4.2h32.9v-4.2zM0 1394.9v2.3h32.9v-2.3zM0 1402.2v2.3h32.9v-2.3zM0 1455.5v2.3h32.9v-2.3zM0 1473.9v2.3h32.9v-2.3zM0 1477.6v2.3h32.9v-2.3zM0 1484.9v2.3h32.9v-2.3zM0 1494.1v2.3h32.9v-2.3zM0 1512.5v6.0h32.9v-6.0zM0 1521.7v2.3h32.9v-2.3zM0 1525.4v2.3h32.9v-2.3zM0 1534.6v2.3h32.9v-2.3zM0 1543.8v2.3h32.9v-2.3zM0 1556.6v2.3h32.9v-2.3zM0 1595.2v2.3h32.9v-2.3zM0 1598.9v4.2h32.9v-4.2zM0 1608.1v4.2h32.9v-4.2zM0 1621.0v2.3h32.9v-2.3zM0 1624.6v2.3h32.9v-2.3zM0 1633.8v2.3h32.9v-2.3zM0 1644.8v4.2h32.9v-4.2z"/><path fill="#c7ffb4" d="M0 935.4v2.3h32.9v-2.3zM0 939.1v2.3h32.9v-2.3zM0 1148.6v2.3h32.9v-2.3zM0 1170.6v2.3h32.9v-2.3zM0 1233.1v2.3h32.9v-2.3zM0 1269.9v4.2h32.9v-4.2zM0 1288.3v2.3h32.9v-2.3zM0 1292.0v2.3h32.9v-2.3zM0 1303.0v2.3h32.9v-2.3zM0 1308.5v2.3h32.9v-2.3zM0 1321.4v2.3h32.9v-2.3z"/><path fill="#ffcfbf" d="M0 966.6v2.3h32.9v-2.3zM0 983.2v2.3h32.9v-2.3zM0 996.0v2.3h32.9v-2.3zM0 1005.2v2.3h32.9v-2.3zM0 1010.7v2.3h32.9v-2.3zM0 1029.1v2.3h32.9v-2.3zM0 1036.5v4.2h32.9v-4.2zM0 1049.3v2.3h32.9v-2.3zM0 1064.0v2.3h32.9v-2.3zM0 1069.6v4.2h32.9v-4.2zM0 1075.1v4.2h32.9v-4.2zM0 1084.3v2.3h32.9v-2.3zM0 1108.2v2.3h32.9v-2.3zM0 1111.8v2.3h32.9v-2.3zM0 1124.7v2.3h32.9v-2.3zM0 1161.5v2.3h32.9v-2.3zM0 1179.8v4.2h32.9v-4.2zM0 1198.2v2.3h32.9v-2.3zM0 1220.3v2.3h32.9v-2.3zM0 1227.6v2.3h32.9v-2.3zM0 1251.5v2.3h32.9v-2.3zM0 1262.5v2.3h32.9v-2.3zM0 1266.2v2.3h32.9v-2.3zM0 1352.6v2.3h32.9v-2.3zM0 1356.3v2.3h32.9v-2.3zM0 1365.5v2.3h32.9v-2.3zM0 1369.1v2.3h32.9v-2.3zM0 1380.2v2.3h32.9v-2.3zM0 1385.7v2.3h32.9v-2.3zM0 1407.7v2.3h32.9v-2.3zM0 1415.1v4.2h32.9v-4.2zM0 1426.1v2.3h32.9v-2.3zM0 1437.2v2.3h32.9v-2.3zM0 1442.7v2.3h32.9v-2.3zM0 1446.3v2.3h32.9v-2.3zM0 1451.9v2.3h32.9v-2.3zM0 1464.7v6.0h32.9v-6.0zM0 1472.1v2.3h32.9v-2.3zM0 1479.4v2.3h32.9v-2.3zM0 1488.6v2.3h32.9v-2.3zM0 1497.8v2.3h32.9v-2.3zM0 1507.0v2.3h32.9v-2.3zM0 1510.7v2.3h32.9v-2.3zM0 1547.4v2.3h32.9v-2.3zM0 1576.8v2.3h32.9v-2.3zM0 1602.6v2.3h32.9v-2.3zM0 1613.6v2.3h32.9v-2.3zM0 1617.3v2.3h32.9v-2.3zM0 1622.8v2.3h32.9v-2.3zM0 1628.3v2.3h32.9v-2.3zM0 1632.0v2.3h32.9v-2.3zM0 1637.5v7.9h32.9v-7.9z"/><path fill="#ff8464" d="M0 970.3v2.3h32.9v-2.3zM0 977.7v2.3h32.9v-2.3zM0 1056.7v2.3h32.9v-2.3zM0 1086.1v2.3h32.9v-2.3zM0 1326.9v6.0h32.9v-6.0zM0 1337.9v2.3h32.9v-2.3zM0 1345.3v2.3h32.9v-2.3zM0 1382.0v2.3h32.9v-2.3zM0 1413.3v2.3h32.9v-2.3zM0 1429.8v2.3h32.9v-2.3zM0 1496.0v2.3h32.9v-2.3zM0 1538.2v2.3h32.9v-2.3zM0 1551.1v2.3h32.9v-2.3zM0 1558.5v2.3h32.9v-2.3zM0 1564.0v2.3h32.9v-2.3zM0 1575.0v2.3h32.9v-2.3zM0 1582.4v2.3h32.9v-2.3z"/><path fill="#ffb7a0" d="M0 972.1v2.3h32.9v-2.3zM0 999.7v2.3h32.9v-2.3zM0 1019.9v2.3h32.9v-2.3zM0 1023.6v4.2h32.9v-4.2zM0 1051.2v2.3h32.9v-2.3zM0 1065.9v2.3h32.9v-2.3zM0 1078.7v2.3h32.9v-2.3zM0 1082.4v2.3h32.9v-2.3zM0 1087.9v2.3h32.9v-2.3zM0 1091.6v9.7h32.9v-9.7zM0 1102.6v2.3h32.9v-2.3zM0 1110.0v2.3h32.9v-2.3zM0 1128.4v2.3h32.9v-2.3zM0 1187.2v2.3h32.9v-2.3zM0 1253.4v2.3h32.9v-2.3zM0 1418.8v6.0h32.9v-6.0zM0 1433.5v4.2h32.9v-4.2zM0 1439.0v4.2h32.9v-4.2zM0 1444.5v2.3h32.9v-2.3zM0 1448.2v4.2h32.9v-4.2zM0 1453.7v2.3h32.9v-2.3zM0 1508.8v2.3h32.9v-2.3zM0 1527.2v2.3h32.9v-2.3zM0 1530.9v4.2h32.9v-4.2zM0 1536.4v2.3h32.9v-2.3zM0 1540.1v2.3h32.9v-2.3zM0 1545.6v2.3h32.9v-2.3zM0 1565.8v2.3h32.9v-2.3zM0 1578.7v2.3h32.9v-2.3zM0 1586.0v7.9h32.9v-7.9zM0 1604.4v2.3h32.9v-2.3zM0 1619.1v2.3h32.9v-2.3zM0 1635.7v2.3h32.9v-2.3zM0 1648.5v2.3h32.9v-2.3z"/><path fill="#ff9e81" d="M0 1007.1v2.3h32.9v-2.3zM0 1053.0v2.3h32.9v-2.3zM0 1060.4v4.2h32.9v-4.2zM0 1073.2v2.3h32.9v-2.3zM0 1080.6v2.3h32.9v-2.3zM0 1100.8v2.3h32.9v-2.3zM0 1104.5v4.2h32.9v-4.2zM0 1255.2v2.3h32.9v-2.3zM0 1343.4v2.3h32.9v-2.3zM0 1371.0v2.3h32.9v-2.3zM0 1411.4v2.3h32.9v-2.3zM0 1424.3v2.3h32.9v-2.3zM0 1428.0v2.3h32.9v-2.3zM0 1431.6v2.3h32.9v-2.3zM0 1483.1v2.3h32.9v-2.3zM0 1501.5v4.2h32.9v-4.2zM0 1523.5v2.3h32.9v-2.3zM0 1529.1v2.3h32.9v-2.3zM0 1541.9v2.3h32.9v-2.3zM0 1549.3v2.3h32.9v-2.3zM0 1554.8v2.3h32.9v-2.3zM0 1560.3v4.2h32.9v-4.2zM0 1567.7v2.3h32.9v-2.3zM0 1573.2v2.3h32.9v-2.3zM0 1580.5v2.3h32.9v-2.3zM0 1584.2v2.3h32.9v-2.3zM0 1615.4v2.3h32.9v-2.3z"/><path fill="#ff6846" d="M0 1067.7v2.3h32.9v-2.3zM0 1332.4v2.3h32.9v-2.3zM0 1405.9v2.3h32.9v-2.3zM0 1552.9v2.3h32.9v-2.3zM0 1569.5v4.2h32.9v-4.2z"/><path fill="#99ff80" d="M0 1306.7v2.3h32.9v-2.3z"/><path fill="#f00" d="M0 1334.2v2.3h32.9v-2.3z"/><path fill="#ff4628" d="M0 1336.1v2.3h32.9v-2.3zM0 1339.7v4.2h32.9v-4.2zM0 1457.4v2.3h32.9v-2.3z"/></g><g transform="translate(438.4,0)"><path fill="#ffb7a0" d="M0 917.0v2.3h32.9v-2.3zM0 922.5v2.3h32.9v-2.3zM0 926.2v2.3h32.9v-2.3zM0 944.6v2.3h32.9v-2.3zM0 961.1v2.3h32.9v-2.3zM0 981.3v2.3h32.9v-2.3zM0 1124.7v2.3h32.9v-2.3zM0 1133.9v2.3h32.9v-2.3zM0 1146.8v4.2h32.9v-4.2zM0 1161.5v2.3h32.9v-2.3zM0 1187.2v2.3h32.9v-2.3zM0 1209.2v2.3h32.9v-2.3zM0 1216.6v2.3h32.9v-2.3zM0 1269.9v2.3h32.9v-2.3zM0 1277.2v2.3h32.9v-2.3zM0 1286.4v2.3h32.9v-2.3zM0 1290.1v2.3h32.9v-2.3zM0 1293.8v2.3h32.9v-2.3zM0 1319.5v2.3h32.9v-2.3zM0 1323.2v2.3h32.9v-2.3z"/><path fill="#ff9e81" d="M0 918.8v2.3h32.9v-2.3zM0 924.4v2.3h32.9v-2.3zM0 929.9v2.3h32.9v-2.3zM0 935.4v6.0h32.9v-6.0zM0 942.7v2.3h32.9v-2.3zM0 950.1v2.3h32.9v-2.3zM0 953.8v2.3h32.9v-2.3zM0 963.0v6.0h32.9v-6.0zM0 970.3v2.3h32.9v-2.3zM0 977.7v2.3h32.9v-2.3zM0 983.2v4.2h32.9v-4.2zM0 994.2v2.3h32.9v-2.3zM0 1043.8v2.3h32.9v-2.3zM0 1047.5v2.3h32.9v-2.3zM0 1117.3v2.3h32.9v-2.3zM0 1122.9v2.3h32.9v-2.3zM0 1170.6v2.3h32.9v-2.3zM0 1183.5v4.2h32.9v-4.2zM0 1192.7v2.3h32.9v-2.3zM0 1212.9v2.3h32.9v-2.3zM0 1220.3v2.3h32.9v-2.3zM0 1223.9v2.3h32.9v-2.3zM0 1240.5v7.9h32.9v-7.9zM0 1253.4v2.3h32.9v-2.3zM0 1262.5v2.3h32.9v-2.3zM0 1271.7v2.3h32.9v-2.3zM0 1282.8v4.2h32.9v-4.2zM0 1292.0v2.3h32.9v-2.3zM0 1299.3v4.2h32.9v-4.2zM0 1310.3v6.0h32.9v-6.0z"/><path fill="#ff8464" d="M0 920.7v2.3h32.9v-2.3zM0 928.0v2.3h32.9v-2.3zM0 931.7v4.2h32.9v-4.2zM0 946.4v2.3h32.9v-2.3zM0 951.9v2.3h32.9v-2.3zM0 955.6v2.3h32.9v-2.3zM0 972.1v2.3h32.9v-2.3zM0 988.7v4.2h32.9v-4.2zM0 997.9v2.3h32.9v-2.3zM0 1001.5v2.3h32.9v-2.3zM0 1018.1v2.3h32.9v-2.3zM0 1031.0v2.3h32.9v-2.3zM0 1121.0v2.3h32.9v-2.3zM0 1130.2v4.2h32.9v-4.2zM0 1139.4v6.0h32.9v-6.0zM0 1155.9v4.2h32.9v-4.2zM0 1172.5v4.2h32.9v-4.2zM0 1194.5v2.3h32.9v-2.3zM0 1198.2v4.2h32.9v-4.2zM0 1205.6v4.2h32.9v-4.2zM0 1214.8v2.3h32.9v-2.3zM0 1229.5v2.3h32.9v-2.3zM0 1233.1v2.3h32.9v-2.3zM0 1268.1v2.3h32.9v-2.3zM0 1273.6v2.3h32.9v-2.3zM0 1306.7v4.2h32.9v-4.2zM0 1317.7v2.3h32.9v-2.3zM0 1325.0v2.3h32.9v-2.3z"/><path fill="#ff6846" d="M0 940.9v2.3h32.9v-2.3zM0 959.3v2.3h32.9v-2.3zM0 975.8v2.3h32.9v-2.3zM0 979.5v2.3h32.9v-2.3zM0 986.8v2.3h32.9v-2.3zM0 999.7v2.3h32.9v-2.3zM0 1003.4v2.3h32.9v-2.3zM0 1007.1v2.3h32.9v-2.3zM0 1012.6v4.2h32.9v-4.2zM0 1019.9v2.3h32.9v-2.3zM0 1032.8v2.3h32.9v-2.3zM0 1036.5v2.3h32.9v-2.3zM0 1049.3v2.3h32.9v-2.3zM0 1062.2v2.3h32.9v-2.3zM0 1093.4v4.2h32.9v-4.2zM0 1106.3v2.3h32.9v-2.3zM0 1119.2v2.3h32.9v-2.3zM0 1135.7v4.2h32.9v-4.2zM0 1150.4v2.3h32.9v-2.3zM0 1176.2v2.3h32.9v-2.3zM0 1179.8v4.2h32.9v-4.2zM0 1190.9v2.3h32.9v-2.3zM0 1201.9v2.3h32.9v-2.3zM0 1222.1v2.3h32.9v-2.3zM0 1225.8v4.2h32.9v-4.2zM0 1231.3v2.3h32.9v-2.3zM0 1235.0v2.3h32.9v-2.3zM0 1238.7v2.3h32.9v-2.3zM0 1249.7v4.2h32.9v-4.2zM0 1266.2v2.3h32.9v-2.3zM0 1288.3v2.3h32.9v-2.3zM0 1295.6v4.2h32.9v-4.2zM0 1303.0v2.3h32.9v-2.3zM0 1315.8v2.3h32.9v-2.3z"/><path fill="#ff4628" d="M0 948.2v2.3h32.9v-2.3zM0 957.4v2.3h32.9v-2.3zM0 974.0v2.3h32.9v-2.3zM0 1008.9v4.2h32.9v-4.2zM0 1025.4v2.3h32.9v-2.3zM0 1029.1v2.3h32.9v-2.3zM0 1034.6v2.3h32.9v-2.3zM0 1038.3v2.3h32.9v-2.3zM0 1042.0v2.3h32.9v-2.3zM0 1051.2v4.2h32.9v-4.2zM0 1064.0v2.3h32.9v-2.3zM0 1082.4v2.3h32.9v-2.3zM0 1110.0v4.2h32.9v-4.2zM0 1128.4v2.3h32.9v-2.3zM0 1152.3v2.3h32.9v-2.3zM0 1159.6v2.3h32.9v-2.3zM0 1165.1v4.2h32.9v-4.2zM0 1196.4v2.3h32.9v-2.3zM0 1203.7v2.3h32.9v-2.3zM0 1255.2v2.3h32.9v-2.3zM0 1258.9v4.2h32.9v-4.2zM0 1279.1v2.3h32.9v-2.3z"/><path fill="#ffcfbf" d="M0 968.5v2.3h32.9v-2.3zM0 992.4v2.3h32.9v-2.3zM0 1115.5v2.3h32.9v-2.3zM0 1144.9v2.3h32.9v-2.3zM0 1154.1v2.3h32.9v-2.3zM0 1168.8v2.3h32.9v-2.3zM0 1178.0v2.3h32.9v-2.3zM0 1218.4v2.3h32.9v-2.3zM0 1275.4v2.3h32.9v-2.3zM0 1280.9v2.3h32.9v-2.3zM0 1321.4v2.3h32.9v-2.3zM0 1330.5v2.3h32.9v-2.3z"/><path fill="#f00" d="M0 996.0v2.3h32.9v-2.3zM0 1005.2v2.3h32.9v-2.3zM0 1016.3v2.3h32.9v-2.3zM0 1021.8v4.2h32.9v-4.2zM0 1027.3v2.3h32.9v-2.3zM0 1040.1v2.3h32.9v-2.3zM0 1045.7v2.3h32.9v-2.3zM0 1054.8v7.9h32.9v-7.9zM0 1065.9v17.0h32.9v-17.0zM0 1084.3v9.7h32.9v-9.7zM0 1097.1v9.7h32.9v-9.7zM0 1108.2v2.3h32.9v-2.3zM0 1113.7v2.3h32.9v-2.3zM0 1163.3v2.3h32.9v-2.3zM0 1189.0v2.3h32.9v-2.3zM0 1211.1v2.3h32.9v-2.3zM0 1236.8v2.3h32.9v-2.3zM0 1257.0v2.3h32.9v-2.3zM0 1264.4v2.3h32.9v-2.3zM0 1304.8v2.3h32.9v-2.3z"/><path fill="#ffe7de" d="M0 1126.5v2.3h32.9v-2.3zM0 1328.7v2.3h32.9v-2.3zM0 1334.2v2.3h32.9v-2.3zM0 1341.6v2.3h32.9v-2.3zM0 1589.7v2.3h32.9v-2.3z"/><path fill="#dbffcd" d="M0 1247.8v2.3h32.9v-2.3zM0 1336.1v6.0h32.9v-6.0zM0 1363.6v2.3h32.9v-2.3zM0 1475.8v2.3h32.9v-2.3zM0 1479.4v2.3h32.9v-2.3zM0 1490.5v2.3h32.9v-2.3zM0 1496.0v4.2h32.9v-4.2zM0 1501.5v2.3h32.9v-2.3zM0 1516.2v2.3h32.9v-2.3zM0 1527.2v2.3h32.9v-2.3zM0 1530.9v2.3h32.9v-2.3zM0 1540.1v2.3h32.9v-2.3zM0 1545.6v2.3h32.9v-2.3zM0 1549.3v2.3h32.9v-2.3zM0 1552.9v2.3h32.9v-2.3zM0 1558.5v2.3h32.9v-2.3zM0 1562.1v6.0h32.9v-6.0zM0 1571.3v2.3h32.9v-2.3zM0 1578.7v4.2h32.9v-4.2zM0 1604.4v2.3h32.9v-2.3zM0 1613.6v2.3h32.9v-2.3zM0 1648.5v2.3h32.9v-2.3z"/><path fill="#edffe6" d="M0 1326.9v2.3h32.9v-2.3zM0 1459.2v2.3h32.9v-2.3zM0 1470.2v2.3h32.9v-2.3zM0 1481.3v2.3h32.9v-2.3zM0 1499.6v2.3h32.9v-2.3zM0 1538.2v2.3h32.9v-2.3zM0 1569.5v2.3h32.9v-2.3zM0 1582.4v2.3h32.9v-2.3zM0 1602.6v2.3h32.9v-2.3zM0 1606.2v2.3h32.9v-2.3zM0 1609.9v2.3h32.9v-2.3zM0 1639.3v2.3h32.9v-2.3z"/><path fill="#c7ffb4" d="M0 1332.4v2.3h32.9v-2.3zM0 1345.3v2.3h32.9v-2.3zM0 1442.7v2.3h32.9v-2.3zM0 1446.3v2.3h32.9v-2.3zM0 1461.0v2.3h32.9v-2.3zM0 1464.7v6.0h32.9v-6.0zM0 1472.1v2.3h32.9v-2.3zM0 1483.1v2.3h32.9v-2.3zM0 1494.1v2.3h32.9v-2.3zM0 1503.3v2.3h32.9v-2.3zM0 1508.8v2.3h32.9v-2.3zM0 1512.5v4.2h32.9v-4.2zM0 1521.7v4.2h32.9v-4.2zM0 1534.6v4.2h32.9v-4.2zM0 1541.9v2.3h32.9v-2.3zM0 1547.4v2.3h32.9v-2.3zM0 1567.7v2.3h32.9v-2.3zM0 1573.2v2.3h32.9v-2.3zM0 1576.8v2.3h32.9v-2.3zM0 1591.5v4.2h32.9v-4.2zM0 1598.9v2.3h32.9v-2.3zM0 1619.1v4.2h32.9v-4.2zM0 1626.5v2.3h32.9v-2.3zM0 1637.5v2.3h32.9v-2.3zM0 1643.0v2.3h32.9v-2.3zM0 1646.7v2.3h32.9v-2.3z"/><path fill="#99ff80" d="M0 1347.1v2.3h32.9v-2.3zM0 1365.5v2.3h32.9v-2.3zM0 1385.7v2.3h32.9v-2.3zM0 1389.4v4.2h32.9v-4.2zM0 1394.9v2.3h32.9v-2.3zM0 1398.6v2.3h32.9v-2.3zM0 1409.6v2.3h32.9v-2.3zM0 1413.3v2.3h32.9v-2.3zM0 1416.9v2.3h32.9v-2.3zM0 1428.0v6.0h32.9v-6.0zM0 1440.8v2.3h32.9v-2.3zM0 1450.0v2.3h32.9v-2.3zM0 1453.7v6.0h32.9v-6.0zM0 1484.9v4.2h32.9v-4.2zM0 1505.2v4.2h32.9v-4.2zM0 1586.0v2.3h32.9v-2.3zM0 1611.8v2.3h32.9v-2.3zM0 1628.3v2.3h32.9v-2.3zM0 1632.0v6.0h32.9v-6.0z"/><path fill="#58ff43" d="M0 1348.9v4.2h32.9v-4.2zM0 1360.0v4.2h32.9v-4.2zM0 1369.1v2.3h32.9v-2.3zM0 1378.3v2.3h32.9v-2.3zM0 1400.4v6.0h32.9v-6.0zM0 1407.7v2.3h32.9v-2.3zM0 1426.1v2.3h32.9v-2.3zM0 1584.2v2.3h32.9v-2.3z"/><path fill="#7dff64" d="M0 1352.6v4.2h32.9v-4.2zM0 1372.8v6.0h32.9v-6.0zM0 1380.2v6.0h32.9v-6.0zM0 1411.4v2.3h32.9v-2.3zM0 1415.1v2.3h32.9v-2.3zM0 1420.6v2.3h32.9v-2.3zM0 1435.3v2.3h32.9v-2.3zM0 1439.0v2.3h32.9v-2.3zM0 1477.6v2.3h32.9v-2.3zM0 1519.9v2.3h32.9v-2.3zM0 1543.8v2.3h32.9v-2.3zM0 1622.8v2.3h32.9v-2.3zM0 1630.1v2.3h32.9v-2.3zM0 1644.8v2.3h32.9v-2.3z"/><path fill="#0f0" d="M0 1356.3v4.2h32.9v-4.2zM0 1367.3v2.3h32.9v-2.3zM0 1371.0v2.3h32.9v-2.3zM0 1387.5v2.3h32.9v-2.3zM0 1396.7v2.3h32.9v-2.3zM0 1433.5v2.3h32.9v-2.3zM0 1437.2v2.3h32.9v-2.3z"/><path fill="#b1ff9a" d="M0 1393.0v2.3h32.9v-2.3zM0 1405.9v2.3h32.9v-2.3zM0 1418.8v2.3h32.9v-2.3zM0 1422.5v4.2h32.9v-4.2zM0 1444.5v2.3h32.9v-2.3zM0 1448.2v2.3h32.9v-2.3zM0 1451.9v2.3h32.9v-2.3zM0 1473.9v2.3h32.9v-2.3zM0 1488.6v2.3h32.9v-2.3zM0 1492.3v2.3h32.9v-2.3zM0 1510.7v2.3h32.9v-2.3zM0 1518.0v2.3h32.9v-2.3zM0 1525.4v2.3h32.9v-2.3zM0 1532.7v2.3h32.9v-2.3zM0 1551.1v2.3h32.9v-2.3zM0 1554.8v2.3h32.9v-2.3zM0 1560.3v2.3h32.9v-2.3zM0 1575.0v2.3h32.9v-2.3zM0 1587.9v2.3h32.9v-2.3zM0 1595.2v4.2h32.9v-4.2zM0 1600.7v2.3h32.9v-2.3zM0 1608.1v2.3h32.9v-2.3zM0 1615.4v4.2h32.9v-4.2zM0 1641.2v2.3h32.9v-2.3zM0 1650.4v1.8h32.9v-1.8z"/></g><g transform="translate(471.1,0)"><path fill="#ffb7a0" d="M0 917.0v2.3h32.9v-2.3zM0 926.2v2.3h32.9v-2.3zM0 935.4v2.3h32.9v-2.3zM0 940.9v4.2h32.9v-4.2zM0 950.1v2.3h32.9v-2.3zM0 953.8v2.3h32.9v-2.3zM0 966.6v2.3h32.9v-2.3zM0 970.3v2.3h32.9v-2.3zM0 981.3v2.3h32.9v-2.3zM0 992.4v2.3h32.9v-2.3zM0 1102.6v2.3h32.9v-2.3zM0 1133.9v4.2h32.9v-4.2zM0 1144.9v6.0h32.9v-6.0zM0 1161.5v2.3h32.9v-2.3zM0 1170.6v2.3h32.9v-2.3zM0 1187.2v2.3h32.9v-2.3zM0 1192.7v2.3h32.9v-2.3zM0 1218.4v2.3h32.9v-2.3zM0 1269.9v2.3h32.9v-2.3zM0 1273.6v2.3h32.9v-2.3zM0 1280.9v6.0h32.9v-6.0zM0 1290.1v2.3h32.9v-2.3zM0 1293.8v2.3h32.9v-2.3zM0 1299.3v2.3h32.9v-2.3zM0 1312.2v2.3h32.9v-2.3zM0 1321.4v2.3h32.9v-2.3z"/><path fill="#ff9e81" d="M0 918.8v4.2h32.9v-4.2zM0 924.4v2.3h32.9v-2.3zM0 929.9v6.0h32.9v-6.0zM0 939.1v2.3h32.9v-2.3zM0 944.6v2.3h32.9v-2.3zM0 951.9v2.3h32.9v-2.3zM0 961.1v2.3h32.9v-2.3zM0 977.7v2.3h32.9v-2.3zM0 994.2v2.3h32.9v-2.3zM0 1001.5v4.2h32.9v-4.2zM0 1018.1v2.3h32.9v-2.3zM0 1043.8v2.3h32.9v-2.3zM0 1117.3v2.3h32.9v-2.3zM0 1122.9v4.2h32.9v-4.2zM0 1132.0v2.3h32.9v-2.3zM0 1143.1v2.3h32.9v-2.3zM0 1201.9v2.3h32.9v-2.3zM0 1207.4v2.3h32.9v-2.3zM0 1212.9v2.3h32.9v-2.3zM0 1216.6v2.3h32.9v-2.3zM0 1227.6v2.3h32.9v-2.3zM0 1240.5v2.3h32.9v-2.3zM0 1244.2v2.3h32.9v-2.3zM0 1247.8v2.3h32.9v-2.3zM0 1251.5v2.3h32.9v-2.3zM0 1277.2v4.2h32.9v-4.2zM0 1295.6v2.3h32.9v-2.3zM0 1301.1v2.3h32.9v-2.3zM0 1306.7v4.2h32.9v-4.2zM0 1319.5v2.3h32.9v-2.3zM0 1323.2v4.2h32.9v-4.2z"/><path fill="#ffcfbf" d="M0 922.5v2.3h32.9v-2.3zM0 964.8v2.3h32.9v-2.3zM0 968.5v2.3h32.9v-2.3zM0 1115.5v2.3h32.9v-2.3zM0 1126.5v2.3h32.9v-2.3zM0 1154.1v2.3h32.9v-2.3zM0 1168.8v2.3h32.9v-2.3zM0 1178.0v2.3h32.9v-2.3zM0 1223.9v2.3h32.9v-2.3zM0 1275.4v2.3h32.9v-2.3zM0 1286.4v2.3h32.9v-2.3zM0 1328.7v4.2h32.9v-4.2zM0 1334.2v2.3h32.9v-2.3z"/><path fill="#ff4628" d="M0 928.0v2.3h32.9v-2.3zM0 986.8v2.3h32.9v-2.3zM0 1014.4v2.3h32.9v-2.3zM0 1019.9v2.3h32.9v-2.3zM0 1029.1v2.3h32.9v-2.3zM0 1032.8v2.3h32.9v-2.3zM0 1038.3v2.3h32.9v-2.3zM0 1069.6v4.2h32.9v-4.2zM0 1076.9v2.3h32.9v-2.3zM0 1080.6v2.3h32.9v-2.3zM0 1097.1v4.2h32.9v-4.2zM0 1111.8v2.3h32.9v-2.3zM0 1128.4v2.3h32.9v-2.3zM0 1152.3v2.3h32.9v-2.3zM0 1189.0v2.3h32.9v-2.3zM0 1257.0v4.2h32.9v-4.2zM0 1315.8v4.2h32.9v-4.2z"/><path fill="#ff8464" d="M0 937.2v2.3h32.9v-2.3zM0 946.4v2.3h32.9v-2.3zM0 963.0v2.3h32.9v-2.3zM0 972.1v6.0h32.9v-6.0zM0 979.5v2.3h32.9v-2.3zM0 983.2v2.3h32.9v-2.3zM0 988.7v4.2h32.9v-4.2zM0 999.7v2.3h32.9v-2.3zM0 1031.0v2.3h32.9v-2.3zM0 1036.5v2.3h32.9v-2.3zM0 1047.5v4.2h32.9v-4.2zM0 1106.3v2.3h32.9v-2.3zM0 1119.2v4.2h32.9v-4.2zM0 1139.4v4.2h32.9v-4.2zM0 1150.4v2.3h32.9v-2.3zM0 1157.8v2.3h32.9v-2.3zM0 1163.3v4.2h32.9v-4.2zM0 1174.3v2.3h32.9v-2.3zM0 1183.5v4.2h32.9v-4.2zM0 1194.5v2.3h32.9v-2.3zM0 1205.6v2.3h32.9v-2.3zM0 1214.8v2.3h32.9v-2.3zM0 1220.3v2.3h32.9v-2.3zM0 1231.3v6.0h32.9v-6.0zM0 1238.7v2.3h32.9v-2.3zM0 1242.3v2.3h32.9v-2.3zM0 1246.0v2.3h32.9v-2.3zM0 1255.2v2.3h32.9v-2.3zM0 1262.5v2.3h32.9v-2.3zM0 1266.2v4.2h32.9v-4.2zM0 1288.3v2.3h32.9v-2.3zM0 1292.0v2.3h32.9v-2.3zM0 1310.3v2.3h32.9v-2.3zM0 1314.0v2.3h32.9v-2.3z"/><path fill="#ff6846" d="M0 948.2v2.3h32.9v-2.3zM0 955.6v6.0h32.9v-6.0zM0 996.0v2.3h32.9v-2.3zM0 1007.1v2.3h32.9v-2.3zM0 1010.7v4.2h32.9v-4.2zM0 1025.4v2.3h32.9v-2.3zM0 1034.6v2.3h32.9v-2.3zM0 1042.0v2.3h32.9v-2.3zM0 1053.0v4.2h32.9v-4.2zM0 1060.4v4.2h32.9v-4.2zM0 1093.4v4.2h32.9v-4.2zM0 1130.2v2.3h32.9v-2.3zM0 1137.6v2.3h32.9v-2.3zM0 1155.9v2.3h32.9v-2.3zM0 1159.6v2.3h32.9v-2.3zM0 1167.0v2.3h32.9v-2.3zM0 1172.5v2.3h32.9v-2.3zM0 1176.2v2.3h32.9v-2.3zM0 1179.8v4.2h32.9v-4.2zM0 1196.4v6.0h32.9v-6.0zM0 1203.7v2.3h32.9v-2.3zM0 1211.1v2.3h32.9v-2.3zM0 1222.1v2.3h32.9v-2.3zM0 1225.8v2.3h32.9v-2.3zM0 1229.5v2.3h32.9v-2.3zM0 1236.8v2.3h32.9v-2.3zM0 1249.7v2.3h32.9v-2.3zM0 1253.4v2.3h32.9v-2.3zM0 1260.7v2.3h32.9v-2.3zM0 1297.5v2.3h32.9v-2.3zM0 1303.0v4.2h32.9v-4.2z"/><path fill="#f00" d="M0 985.0v2.3h32.9v-2.3zM0 997.9v2.3h32.9v-2.3zM0 1005.2v2.3h32.9v-2.3zM0 1008.9v2.3h32.9v-2.3zM0 1016.3v2.3h32.9v-2.3zM0 1021.8v4.2h32.9v-4.2zM0 1027.3v2.3h32.9v-2.3zM0 1040.1v2.3h32.9v-2.3zM0 1045.7v2.3h32.9v-2.3zM0 1051.2v2.3h32.9v-2.3zM0 1056.7v4.2h32.9v-4.2zM0 1064.0v6.0h32.9v-6.0zM0 1073.2v4.2h32.9v-4.2zM0 1078.7v2.3h32.9v-2.3zM0 1082.4v11.5h32.9v-11.5zM0 1100.8v2.3h32.9v-2.3zM0 1104.5v2.3h32.9v-2.3zM0 1108.2v4.2h32.9v-4.2zM0 1113.7v2.3h32.9v-2.3zM0 1190.9v2.3h32.9v-2.3zM0 1264.4v2.3h32.9v-2.3z"/><path fill="#ffe7de" d="M0 1209.2v2.3h32.9v-2.3zM0 1271.7v2.3h32.9v-2.3zM0 1341.6v2.3h32.9v-2.3zM0 1589.7v2.3h32.9v-2.3z"/><path fill="#dbffcd" d="M0 1326.9v2.3h32.9v-2.3zM0 1336.1v2.3h32.9v-2.3zM0 1345.3v2.3h32.9v-2.3zM0 1475.8v2.3h32.9v-2.3zM0 1479.4v2.3h32.9v-2.3zM0 1492.3v2.3h32.9v-2.3zM0 1496.0v2.3h32.9v-2.3zM0 1499.6v4.2h32.9v-4.2zM0 1514.3v2.3h32.9v-2.3zM0 1529.1v2.3h32.9v-2.3zM0 1540.1v2.3h32.9v-2.3zM0 1545.6v2.3h32.9v-2.3zM0 1549.3v2.3h32.9v-2.3zM0 1558.5v2.3h32.9v-2.3zM0 1562.1v2.3h32.9v-2.3zM0 1565.8v6.0h32.9v-6.0zM0 1578.7v2.3h32.9v-2.3zM0 1598.9v2.3h32.9v-2.3zM0 1613.6v2.3h32.9v-2.3zM0 1617.3v2.3h32.9v-2.3zM0 1621.0v2.3h32.9v-2.3zM0 1644.8v2.3h32.9v-2.3z"/><path fill="#c7ffb4" d="M0 1332.4v2.3h32.9v-2.3zM0 1337.9v2.3h32.9v-2.3zM0 1418.8v2.3h32.9v-2.3zM0 1442.7v2.3h32.9v-2.3zM0 1448.2v2.3h32.9v-2.3zM0 1461.0v2.3h32.9v-2.3zM0 1464.7v2.3h32.9v-2.3zM0 1472.1v4.2h32.9v-4.2zM0 1483.1v2.3h32.9v-2.3zM0 1488.6v2.3h32.9v-2.3zM0 1503.3v2.3h32.9v-2.3zM0 1518.0v2.3h32.9v-2.3zM0 1530.9v4.2h32.9v-4.2zM0 1541.9v2.3h32.9v-2.3zM0 1551.1v4.2h32.9v-4.2zM0 1564.0v2.3h32.9v-2.3zM0 1571.3v7.9h32.9v-7.9zM0 1580.5v2.3h32.9v-2.3zM0 1593.4v6.0h32.9v-6.0zM0 1600.7v2.3h32.9v-2.3zM0 1606.2v2.3h32.9v-2.3zM0 1619.1v2.3h32.9v-2.3zM0 1643.0v2.3h32.9v-2.3zM0 1646.7v4.2h32.9v-4.2z"/><path fill="#edffe6" d="M0 1339.7v2.3h32.9v-2.3zM0 1343.4v2.3h32.9v-2.3zM0 1459.2v2.3h32.9v-2.3zM0 1462.9v2.3h32.9v-2.3zM0 1470.2v2.3h32.9v-2.3zM0 1481.3v2.3h32.9v-2.3zM0 1538.2v2.3h32.9v-2.3zM0 1556.6v2.3h32.9v-2.3zM0 1582.4v2.3h32.9v-2.3zM0 1602.6v2.3h32.9v-2.3zM0 1609.9v2.3h32.9v-2.3zM0 1639.3v2.3h32.9v-2.3z"/><path fill="#7dff64" d="M0 1347.1v2.3h32.9v-2.3zM0 1354.4v2.3h32.9v-2.3zM0 1361.8v2.3h32.9v-2.3zM0 1369.1v2.3h32.9v-2.3zM0 1372.8v2.3h32.9v-2.3zM0 1376.5v2.3h32.9v-2.3zM0 1380.2v2.3h32.9v-2.3zM0 1385.7v2.3h32.9v-2.3zM0 1389.4v2.3h32.9v-2.3zM0 1413.3v2.3h32.9v-2.3zM0 1426.1v4.2h32.9v-4.2zM0 1439.0v2.3h32.9v-2.3zM0 1477.6v2.3h32.9v-2.3zM0 1519.9v2.3h32.9v-2.3zM0 1543.8v2.3h32.9v-2.3zM0 1628.3v2.3h32.9v-2.3zM0 1635.7v2.3h32.9v-2.3z"/><path fill="#0f0" d="M0 1348.9v2.3h32.9v-2.3zM0 1352.6v2.3h32.9v-2.3zM0 1358.1v2.3h32.9v-2.3zM0 1367.3v2.3h32.9v-2.3zM0 1371.0v2.3h32.9v-2.3zM0 1404.1v2.3h32.9v-2.3zM0 1422.5v2.3h32.9v-2.3zM0 1437.2v2.3h32.9v-2.3z"/><path fill="#58ff43" d="M0 1350.8v2.3h32.9v-2.3zM0 1356.3v2.3h32.9v-2.3zM0 1360.0v2.3h32.9v-2.3zM0 1374.7v2.3h32.9v-2.3zM0 1378.3v2.3h32.9v-2.3zM0 1383.9v2.3h32.9v-2.3zM0 1387.5v2.3h32.9v-2.3zM0 1396.7v7.9h32.9v-7.9zM0 1407.7v2.3h32.9v-2.3zM0 1411.4v2.3h32.9v-2.3zM0 1416.9v2.3h32.9v-2.3zM0 1420.6v2.3h32.9v-2.3zM0 1433.5v4.2h32.9v-4.2zM0 1584.2v2.3h32.9v-2.3z"/><path fill="#b1ff9a" d="M0 1363.6v2.3h32.9v-2.3zM0 1393.0v4.2h32.9v-4.2zM0 1424.3v2.3h32.9v-2.3zM0 1429.8v2.3h32.9v-2.3zM0 1444.5v4.2h32.9v-4.2zM0 1451.9v4.2h32.9v-4.2zM0 1457.4v2.3h32.9v-2.3zM0 1466.6v2.3h32.9v-2.3zM0 1486.8v2.3h32.9v-2.3zM0 1490.5v2.3h32.9v-2.3zM0 1497.8v2.3h32.9v-2.3zM0 1507.0v7.9h32.9v-7.9zM0 1521.7v6.0h32.9v-6.0zM0 1534.6v2.3h32.9v-2.3zM0 1547.4v2.3h32.9v-2.3zM0 1554.8v2.3h32.9v-2.3zM0 1586.0v2.3h32.9v-2.3zM0 1591.5v2.3h32.9v-2.3zM0 1604.4v2.3h32.9v-2.3zM0 1608.1v2.3h32.9v-2.3zM0 1611.8v2.3h32.9v-2.3zM0 1615.4v2.3h32.9v-2.3zM0 1622.8v2.3h32.9v-2.3zM0 1626.5v2.3h32.9v-2.3zM0 1630.1v4.2h32.9v-4.2zM0 1637.5v2.3h32.9v-2.3zM0 1650.4v1.8h32.9v-1.8z"/><path fill="#99ff80" d="M0 1365.5v2.3h32.9v-2.3zM0 1382.0v2.3h32.9v-2.3zM0 1391.2v2.3h32.9v-2.3zM0 1405.9v2.3h32.9v-2.3zM0 1409.6v2.3h32.9v-2.3zM0 1415.1v2.3h32.9v-2.3zM0 1431.6v2.3h32.9v-2.3zM0 1440.8v2.3h32.9v-2.3zM0 1450.0v2.3h32.9v-2.3zM0 1455.5v2.3h32.9v-2.3zM0 1468.4v2.3h32.9v-2.3zM0 1484.9v2.3h32.9v-2.3zM0 1494.1v2.3h32.9v-2.3zM0 1505.2v2.3h32.9v-2.3zM0 1516.2v2.3h32.9v-2.3zM0 1536.4v2.3h32.9v-2.3zM0 1560.3v2.3h32.9v-2.3zM0 1587.9v2.3h32.9v-2.3zM0 1633.8v2.3h32.9v-2.3zM0 1641.2v2.3h32.9v-2.3z"/></g><g transform="translate(503.8,0)"><path fill="#ff9e81" d="M0 917.0v6.0h32.9v-6.0zM0 935.4v2.3h32.9v-2.3zM0 939.1v4.2h32.9v-4.2zM0 946.4v2.3h32.9v-2.3zM0 953.8v2.3h32.9v-2.3zM0 957.4v2.3h32.9v-2.3zM0 964.8v2.3h32.9v-2.3zM0 968.5v2.3h32.9v-2.3zM0 1047.5v2.3h32.9v-2.3zM0 1117.3v2.3h32.9v-2.3zM0 1124.7v2.3h32.9v-2.3zM0 1144.9v2.3h32.9v-2.3zM0 1148.6v4.2h32.9v-4.2zM0 1170.6v2.3h32.9v-2.3zM0 1201.9v2.3h32.9v-2.3zM0 1207.4v2.3h32.9v-2.3zM0 1212.9v2.3h32.9v-2.3zM0 1216.6v6.0h32.9v-6.0zM0 1233.1v2.3h32.9v-2.3zM0 1240.5v2.3h32.9v-2.3zM0 1273.6v2.3h32.9v-2.3zM0 1277.2v2.3h32.9v-2.3zM0 1280.9v2.3h32.9v-2.3zM0 1286.4v2.3h32.9v-2.3zM0 1301.1v2.3h32.9v-2.3zM0 1308.5v4.2h32.9v-4.2z"/><path fill="#ffcfbf" d="M0 922.5v2.3h32.9v-2.3zM0 942.7v2.3h32.9v-2.3zM0 1146.8v2.3h32.9v-2.3zM0 1168.8v2.3h32.9v-2.3zM0 1178.0v2.3h32.9v-2.3zM0 1275.4v2.3h32.9v-2.3zM0 1290.1v2.3h32.9v-2.3zM0 1334.2v2.3h32.9v-2.3zM0 1624.6v2.3h32.9v-2.3z"/><path fill="#ff8464" d="M0 924.4v2.3h32.9v-2.3zM0 929.9v6.0h32.9v-6.0zM0 937.2v2.3h32.9v-2.3zM0 944.6v2.3h32.9v-2.3zM0 951.9v2.3h32.9v-2.3zM0 955.6v2.3h32.9v-2.3zM0 963.0v2.3h32.9v-2.3zM0 970.3v4.2h32.9v-4.2zM0 977.7v2.3h32.9v-2.3zM0 983.2v2.3h32.9v-2.3zM0 990.5v2.3h32.9v-2.3zM0 994.2v2.3h32.9v-2.3zM0 997.9v2.3h32.9v-2.3zM0 1018.1v2.3h32.9v-2.3zM0 1031.0v2.3h32.9v-2.3zM0 1036.5v2.3h32.9v-2.3zM0 1043.8v2.3h32.9v-2.3zM0 1049.3v2.3h32.9v-2.3zM0 1121.0v4.2h32.9v-4.2zM0 1130.2v4.2h32.9v-4.2zM0 1141.2v2.3h32.9v-2.3zM0 1155.9v4.2h32.9v-4.2zM0 1172.5v4.2h32.9v-4.2zM0 1185.3v4.2h32.9v-4.2zM0 1194.5v2.3h32.9v-2.3zM0 1198.2v2.3h32.9v-2.3zM0 1222.1v4.2h32.9v-4.2zM0 1227.6v2.3h32.9v-2.3zM0 1242.3v6.0h32.9v-6.0zM0 1262.5v2.3h32.9v-2.3zM0 1266.2v4.2h32.9v-4.2zM0 1284.6v2.3h32.9v-2.3zM0 1292.0v2.3h32.9v-2.3zM0 1297.5v4.2h32.9v-4.2zM0 1306.7v2.3h32.9v-2.3zM0 1325.0v2.3h32.9v-2.3z"/><path fill="#ffb7a0" d="M0 926.2v2.3h32.9v-2.3zM0 950.1v2.3h32.9v-2.3zM0 961.1v2.3h32.9v-2.3zM0 981.3v2.3h32.9v-2.3zM0 985.0v2.3h32.9v-2.3zM0 992.4v2.3h32.9v-2.3zM0 1115.5v2.3h32.9v-2.3zM0 1126.5v2.3h32.9v-2.3zM0 1133.9v2.3h32.9v-2.3zM0 1143.1v2.3h32.9v-2.3zM0 1154.1v2.3h32.9v-2.3zM0 1161.5v2.3h32.9v-2.3zM0 1192.7v2.3h32.9v-2.3zM0 1209.2v2.3h32.9v-2.3zM0 1247.8v2.3h32.9v-2.3zM0 1269.9v4.2h32.9v-4.2zM0 1279.1v2.3h32.9v-2.3zM0 1282.8v2.3h32.9v-2.3zM0 1293.8v2.3h32.9v-2.3zM0 1312.2v2.3h32.9v-2.3zM0 1319.5v6.0h32.9v-6.0z"/><path fill="#ff4628" d="M0 928.0v2.3h32.9v-2.3zM0 986.8v2.3h32.9v-2.3zM0 1001.5v2.3h32.9v-2.3zM0 1007.1v2.3h32.9v-2.3zM0 1012.6v4.2h32.9v-4.2zM0 1019.9v2.3h32.9v-2.3zM0 1029.1v2.3h32.9v-2.3zM0 1032.8v4.2h32.9v-4.2zM0 1042.0v2.3h32.9v-2.3zM0 1045.7v2.3h32.9v-2.3zM0 1053.0v2.3h32.9v-2.3zM0 1069.6v2.3h32.9v-2.3zM0 1075.1v4.2h32.9v-4.2zM0 1082.4v2.3h32.9v-2.3zM0 1097.1v2.3h32.9v-2.3zM0 1106.3v4.2h32.9v-4.2zM0 1128.4v2.3h32.9v-2.3zM0 1165.1v4.2h32.9v-4.2zM0 1181.7v2.3h32.9v-2.3zM0 1190.9v2.3h32.9v-2.3zM0 1196.4v2.3h32.9v-2.3zM0 1200.1v2.3h32.9v-2.3zM0 1225.8v2.3h32.9v-2.3zM0 1229.5v2.3h32.9v-2.3zM0 1235.0v2.3h32.9v-2.3zM0 1238.7v2.3h32.9v-2.3zM0 1255.2v6.0h32.9v-6.0zM0 1303.0v2.3h32.9v-2.3zM0 1317.7v2.3h32.9v-2.3z"/><path fill="#f00" d="M0 948.2v2.3h32.9v-2.3zM0 1005.2v2.3h32.9v-2.3zM0 1008.9v4.2h32.9v-4.2zM0 1016.3v2.3h32.9v-2.3zM0 1021.8v7.9h32.9v-7.9zM0 1038.3v4.2h32.9v-4.2zM0 1051.2v2.3h32.9v-2.3zM0 1054.8v15.2h32.9v-15.2zM0 1071.4v4.2h32.9v-4.2zM0 1078.7v4.2h32.9v-4.2zM0 1084.3v9.7h32.9v-9.7zM0 1099.0v7.9h32.9v-7.9zM0 1110.0v2.3h32.9v-2.3zM0 1113.7v2.3h32.9v-2.3zM0 1189.0v2.3h32.9v-2.3zM0 1203.7v2.3h32.9v-2.3zM0 1211.1v2.3h32.9v-2.3zM0 1214.8v2.3h32.9v-2.3zM0 1236.8v2.3h32.9v-2.3zM0 1264.4v2.3h32.9v-2.3zM0 1288.3v2.3h32.9v-2.3zM0 1304.8v2.3h32.9v-2.3z"/><path fill="#ff6846" d="M0 959.3v2.3h32.9v-2.3zM0 966.6v2.3h32.9v-2.3zM0 974.0v4.2h32.9v-4.2zM0 979.5v2.3h32.9v-2.3zM0 988.7v2.3h32.9v-2.3zM0 996.0v2.3h32.9v-2.3zM0 999.7v2.3h32.9v-2.3zM0 1003.4v2.3h32.9v-2.3zM0 1093.4v4.2h32.9v-4.2zM0 1111.8v2.3h32.9v-2.3zM0 1119.2v2.3h32.9v-2.3zM0 1135.7v6.0h32.9v-6.0zM0 1152.3v2.3h32.9v-2.3zM0 1159.6v2.3h32.9v-2.3zM0 1163.3v2.3h32.9v-2.3zM0 1176.2v2.3h32.9v-2.3zM0 1179.8v2.3h32.9v-2.3zM0 1183.5v2.3h32.9v-2.3zM0 1205.6v2.3h32.9v-2.3zM0 1231.3v2.3h32.9v-2.3zM0 1249.7v6.0h32.9v-6.0zM0 1260.7v2.3h32.9v-2.3zM0 1295.6v2.3h32.9v-2.3zM0 1314.0v4.2h32.9v-4.2z"/><path fill="#edffe6" d="M0 1326.9v2.3h32.9v-2.3zM0 1339.7v2.3h32.9v-2.3zM0 1343.4v2.3h32.9v-2.3zM0 1442.7v2.3h32.9v-2.3zM0 1462.9v2.3h32.9v-2.3zM0 1470.2v2.3h32.9v-2.3zM0 1477.6v2.3h32.9v-2.3zM0 1499.6v2.3h32.9v-2.3zM0 1527.2v2.3h32.9v-2.3zM0 1538.2v2.3h32.9v-2.3zM0 1545.6v2.3h32.9v-2.3zM0 1552.9v2.3h32.9v-2.3zM0 1556.6v2.3h32.9v-2.3zM0 1569.5v2.3h32.9v-2.3zM0 1578.7v2.3h32.9v-2.3zM0 1582.4v2.3h32.9v-2.3zM0 1602.6v4.2h32.9v-4.2zM0 1639.3v2.3h32.9v-2.3zM0 1648.5v2.3h32.9v-2.3z"/><path fill="#ffe7de" d="M0 1328.7v4.2h32.9v-4.2zM0 1341.6v2.3h32.9v-2.3zM0 1589.7v2.3h32.9v-2.3z"/><path fill="#b1ff9a" d="M0 1332.4v2.3h32.9v-2.3zM0 1389.4v6.0h32.9v-6.0zM0 1418.8v2.3h32.9v-2.3zM0 1428.0v2.3h32.9v-2.3zM0 1431.6v2.3h32.9v-2.3zM0 1440.8v2.3h32.9v-2.3zM0 1457.4v2.3h32.9v-2.3zM0 1468.4v2.3h32.9v-2.3zM0 1483.1v2.3h32.9v-2.3zM0 1486.8v2.3h32.9v-2.3zM0 1505.2v4.2h32.9v-4.2zM0 1523.5v2.3h32.9v-2.3zM0 1536.4v2.3h32.9v-2.3zM0 1591.5v2.3h32.9v-2.3zM0 1617.3v2.3h32.9v-2.3zM0 1628.3v2.3h32.9v-2.3zM0 1632.0v6.0h32.9v-6.0zM0 1650.4v1.8h32.9v-1.8z"/><path fill="#dbffcd" d="M0 1336.1v2.3h32.9v-2.3zM0 1363.6v2.3h32.9v-2.3zM0 1433.5v2.3h32.9v-2.3zM0 1448.2v2.3h32.9v-2.3zM0 1453.7v2.3h32.9v-2.3zM0 1459.2v2.3h32.9v-2.3zM0 1472.1v2.3h32.9v-2.3zM0 1475.8v2.3h32.9v-2.3zM0 1479.4v4.2h32.9v-4.2zM0 1488.6v2.3h32.9v-2.3zM0 1496.0v2.3h32.9v-2.3zM0 1501.5v2.3h32.9v-2.3zM0 1512.5v2.3h32.9v-2.3zM0 1516.2v2.3h32.9v-2.3zM0 1534.6v2.3h32.9v-2.3zM0 1540.1v2.3h32.9v-2.3zM0 1547.4v4.2h32.9v-4.2zM0 1558.5v2.3h32.9v-2.3zM0 1562.1v7.9h32.9v-7.9zM0 1571.3v2.3h32.9v-2.3zM0 1575.0v2.3h32.9v-2.3zM0 1580.5v2.3h32.9v-2.3zM0 1606.2v2.3h32.9v-2.3zM0 1609.9v6.0h32.9v-6.0zM0 1619.1v2.3h32.9v-2.3zM0 1644.8v2.3h32.9v-2.3z"/><path fill="#c7ffb4" d="M0 1337.9v2.3h32.9v-2.3zM0 1345.3v2.3h32.9v-2.3zM0 1365.5v2.3h32.9v-2.3zM0 1422.5v2.3h32.9v-2.3zM0 1444.5v4.2h32.9v-4.2zM0 1461.0v2.3h32.9v-2.3zM0 1473.9v2.3h32.9v-2.3zM0 1490.5v6.0h32.9v-6.0zM0 1497.8v2.3h32.9v-2.3zM0 1503.3v2.3h32.9v-2.3zM0 1508.8v2.3h32.9v-2.3zM0 1514.3v2.3h32.9v-2.3zM0 1518.0v2.3h32.9v-2.3zM0 1521.7v2.3h32.9v-2.3zM0 1525.4v2.3h32.9v-2.3zM0 1530.9v4.2h32.9v-4.2zM0 1541.9v2.3h32.9v-2.3zM0 1551.1v2.3h32.9v-2.3zM0 1554.8v2.3h32.9v-2.3zM0 1573.2v2.3h32.9v-2.3zM0 1576.8v2.3h32.9v-2.3zM0 1593.4v9.7h32.9v-9.7zM0 1608.1v2.3h32.9v-2.3zM0 1615.4v2.3h32.9v-2.3zM0 1621.0v4.2h32.9v-4.2zM0 1641.2v4.2h32.9v-4.2zM0 1646.7v2.3h32.9v-2.3z"/><path fill="#7dff64" d="M0 1347.1v2.3h32.9v-2.3zM0 1352.6v4.2h32.9v-4.2zM0 1360.0v4.2h32.9v-4.2zM0 1369.1v2.3h32.9v-2.3zM0 1372.8v2.3h32.9v-2.3zM0 1382.0v7.9h32.9v-7.9zM0 1398.6v2.3h32.9v-2.3zM0 1411.4v2.3h32.9v-2.3zM0 1416.9v2.3h32.9v-2.3zM0 1420.6v2.3h32.9v-2.3zM0 1424.3v2.3h32.9v-2.3zM0 1435.3v2.3h32.9v-2.3zM0 1484.9v2.3h32.9v-2.3zM0 1543.8v2.3h32.9v-2.3z"/><path fill="#0f0" d="M0 1348.9v4.2h32.9v-4.2zM0 1356.3v2.3h32.9v-2.3zM0 1371.0v2.3h32.9v-2.3zM0 1396.7v2.3h32.9v-2.3zM0 1404.1v2.3h32.9v-2.3zM0 1407.7v2.3h32.9v-2.3zM0 1466.6v2.3h32.9v-2.3z"/><path fill="#58ff43" d="M0 1358.1v2.3h32.9v-2.3zM0 1367.3v2.3h32.9v-2.3zM0 1374.7v2.3h32.9v-2.3zM0 1378.3v2.3h32.9v-2.3zM0 1400.4v4.2h32.9v-4.2zM0 1415.1v2.3h32.9v-2.3zM0 1426.1v2.3h32.9v-2.3zM0 1437.2v2.3h32.9v-2.3zM0 1637.5v2.3h32.9v-2.3z"/><path fill="#99ff80" d="M0 1376.5v2.3h32.9v-2.3zM0 1380.2v2.3h32.9v-2.3zM0 1394.9v2.3h32.9v-2.3zM0 1405.9v2.3h32.9v-2.3zM0 1409.6v2.3h32.9v-2.3zM0 1413.3v2.3h32.9v-2.3zM0 1429.8v2.3h32.9v-2.3zM0 1439.0v2.3h32.9v-2.3zM0 1450.0v4.2h32.9v-4.2zM0 1455.5v2.3h32.9v-2.3zM0 1464.7v2.3h32.9v-2.3zM0 1510.7v2.3h32.9v-2.3zM0 1519.9v2.3h32.9v-2.3zM0 1560.3v2.3h32.9v-2.3zM0 1584.2v6.0h32.9v-6.0zM0 1626.5v2.3h32.9v-2.3zM0 1630.1v2.3h32.9v-2.3z"/></g><g transform="translate(550.0,0)"><path fill="#c8acf8" d="M0 917.0v2.3h14.2v-2.3zM0 931.7v2.3h14.2v-2.3zM0 940.9v2.3h14.2v-2.3zM0 950.1v2.3h14.2v-2.3zM0 961.1v6.0h14.2v-6.0zM0 970.3v4.2h14.2v-4.2zM0 986.8v2.3h14.2v-2.3zM0 1003.4v4.2h14.2v-4.2zM0 1008.9v6.0h14.2v-6.0zM0 1018.1v2.3h14.2v-2.3zM0 1021.8v2.3h14.2v-2.3zM0 1025.4v4.2h14.2v-4.2zM0 1040.1v2.3h14.2v-2.3zM0 1056.7v4.2h14.2v-4.2zM0 1067.7v2.3h14.2v-2.3zM0 1080.6v4.2h14.2v-4.2zM0 1095.3v2.3h14.2v-2.3zM0 1115.5v4.2h14.2v-4.2zM0 1132.0v2.3h14.2v-2.3zM0 1155.9v6.0h14.2v-6.0zM0 1165.1v6.0h14.2v-6.0zM0 1179.8v4.2h14.2v-4.2zM0 1187.2v4.2h14.2v-4.2zM0 1196.4v4.2h14.2v-4.2zM0 1207.4v2.3h14.2v-2.3zM0 1222.1v2.3h14.2v-2.3zM0 1227.6v2.3h14.2v-2.3zM0 1231.3v2.3h14.2v-2.3zM0 1249.7v2.3h14.2v-2.3zM0 1253.4v2.3h14.2v-2.3zM0 1258.9v2.3h14.2v-2.3zM0 1262.5v4.2h14.2v-4.2zM0 1268.1v2.3h14.2v-2.3zM0 1275.4v2.3h14.2v-2.3zM0 1288.3v6.0h14.2v-6.0zM0 1297.5v2.3h14.2v-2.3zM0 1319.5v2.3h14.2v-2.3zM0 1323.2v2.3h14.2v-2.3z"/><path fill="#bf9ff9" d="M0 918.8v2.3h14.2v-2.3zM0 926.2v4.2h14.2v-4.2zM0 942.7v2.3h14.2v-2.3zM0 946.4v2.3h14.2v-2.3zM0 951.9v2.3h14.2v-2.3zM0 955.6v6.0h14.2v-6.0zM0 981.3v4.2h14.2v-4.2zM0 999.7v2.3h14.2v-2.3zM0 1016.3v2.3h14.2v-2.3zM0 1019.9v2.3h14.2v-2.3zM0 1029.1v2.3h14.2v-2.3zM0 1032.8v2.3h14.2v-2.3zM0 1042.0v4.2h14.2v-4.2zM0 1064.0v2.3h14.2v-2.3zM0 1078.7v2.3h14.2v-2.3zM0 1097.1v6.0h14.2v-6.0zM0 1106.3v2.3h14.2v-2.3zM0 1128.4v2.3h14.2v-2.3zM0 1135.7v2.3h14.2v-2.3zM0 1143.1v2.3h14.2v-2.3zM0 1146.8v4.2h14.2v-4.2zM0 1152.3v2.3h14.2v-2.3zM0 1161.5v4.2h14.2v-4.2zM0 1176.2v4.2h14.2v-4.2zM0 1183.5v4.2h14.2v-4.2zM0 1192.7v2.3h14.2v-2.3zM0 1200.1v2.3h14.2v-2.3zM0 1212.9v2.3h14.2v-2.3zM0 1216.6v2.3h14.2v-2.3zM0 1223.9v4.2h14.2v-4.2zM0 1229.5v2.3h14.2v-2.3zM0 1244.2v4.2h14.2v-4.2zM0 1255.2v2.3h14.2v-2.3zM0 1260.7v2.3h14.2v-2.3zM0 1266.2v2.3h14.2v-2.3zM0 1269.9v2.3h14.2v-2.3zM0 1282.8v2.3h14.2v-2.3zM0 1301.1v2.3h14.2v-2.3zM0 1306.7v2.3h14.2v-2.3zM0 1312.2v4.2h14.2v-4.2zM0 1325.0v2.3h14.2v-2.3z"/><path fill="#d9c7f5" d="M0 920.7v2.3h14.2v-2.3zM0 948.2v2.3h14.2v-2.3zM0 975.8v2.3h14.2v-2.3zM0 997.9v2.3h14.2v-2.3zM0 1001.5v2.3h14.2v-2.3zM0 1086.1v2.3h14.2v-2.3zM0 1093.4v2.3h14.2v-2.3zM0 1108.2v2.3h14.2v-2.3zM0 1121.0v2.3h14.2v-2.3zM0 1130.2v2.3h14.2v-2.3zM0 1133.9v2.3h14.2v-2.3zM0 1174.3v2.3h14.2v-2.3zM0 1214.8v2.3h14.2v-2.3zM0 1240.5v2.3h14.2v-2.3z"/><path fill="#d1baf6" d="M0 922.5v2.3h14.2v-2.3zM0 929.9v2.3h14.2v-2.3zM0 935.4v2.3h14.2v-2.3zM0 944.6v2.3h14.2v-2.3zM0 953.8v2.3h14.2v-2.3zM0 966.6v4.2h14.2v-4.2zM0 977.7v2.3h14.2v-2.3zM0 985.0v2.3h14.2v-2.3zM0 988.7v2.3h14.2v-2.3zM0 994.2v4.2h14.2v-4.2zM0 1031.0v2.3h14.2v-2.3zM0 1034.6v2.3h14.2v-2.3zM0 1038.3v2.3h14.2v-2.3zM0 1065.9v2.3h14.2v-2.3zM0 1069.6v4.2h14.2v-4.2zM0 1075.1v2.3h14.2v-2.3zM0 1087.9v6.0h14.2v-6.0zM0 1110.0v4.2h14.2v-4.2zM0 1126.5v2.3h14.2v-2.3zM0 1137.6v6.0h14.2v-6.0zM0 1144.9v2.3h14.2v-2.3zM0 1150.4v2.3h14.2v-2.3zM0 1172.5v2.3h14.2v-2.3zM0 1203.7v2.3h14.2v-2.3zM0 1209.2v2.3h14.2v-2.3zM0 1218.4v2.3h14.2v-2.3zM0 1238.7v2.3h14.2v-2.3zM0 1242.3v2.3h14.2v-2.3zM0 1247.8v2.3h14.2v-2.3zM0 1257.0v2.3h14.2v-2.3zM0 1284.6v4.2h14.2v-4.2zM0 1293.8v2.3h14.2v-2.3zM0 1299.3v2.3h14.2v-2.3zM0 1303.0v2.3h14.2v-2.3zM0 1310.3v2.3h14.2v-2.3zM0 1315.8v4.2h14.2v-4.2zM0 1321.4v2.3h14.2v-2.3z"/><path fill="#ab84fb" d="M0 924.4v2.3h14.2v-2.3zM0 1007.1v2.3h14.2v-2.3zM0 1023.6v2.3h14.2v-2.3zM0 1113.7v2.3h14.2v-2.3zM0 1122.9v2.3h14.2v-2.3zM0 1194.5v2.3h14.2v-2.3zM0 1211.1v2.3h14.2v-2.3z"/><path fill="#885cfd" d="M0 933.5v2.3h14.2v-2.3zM0 979.5v2.3h14.2v-2.3zM0 1014.4v2.3h14.2v-2.3zM0 1076.9v2.3h14.2v-2.3zM0 1104.5v2.3h14.2v-2.3zM0 1280.9v2.3h14.2v-2.3z"/><path fill="#b692fa" d="M0 937.2v4.2h14.2v-4.2zM0 974.0v2.3h14.2v-2.3zM0 990.5v4.2h14.2v-4.2zM0 1036.5v2.3h14.2v-2.3zM0 1060.4v4.2h14.2v-4.2zM0 1073.2v2.3h14.2v-2.3zM0 1102.6v2.3h14.2v-2.3zM0 1119.2v2.3h14.2v-2.3zM0 1124.7v2.3h14.2v-2.3zM0 1154.1v2.3h14.2v-2.3zM0 1170.6v2.3h14.2v-2.3zM0 1190.9v2.3h14.2v-2.3zM0 1201.9v2.3h14.2v-2.3zM0 1205.6v2.3h14.2v-2.3zM0 1220.3v2.3h14.2v-2.3zM0 1233.1v6.0h14.2v-6.0zM0 1251.5v2.3h14.2v-2.3zM0 1271.7v2.3h14.2v-2.3zM0 1277.2v4.2h14.2v-4.2zM0 1295.6v2.3h14.2v-2.3zM0 1304.8v2.3h14.2v-2.3z"/><path fill="#5730fe" d="M0 1045.7v11.5h14.2v-11.5z"/><path fill="#e9e2f2" d="M0 1084.3v2.3h14.2v-2.3z"/><path fill="#a177fb" d="M0 1273.6v2.3h14.2v-2.3z"/><path fill="#e1d5f3" d="M0 1308.5v2.3h14.2v-2.3z"/><path fill="#ff8b6d" d="M0 1326.9v2.3h14.2v-2.3zM0 1372.8v2.3h14.2v-2.3zM0 1409.6v2.3h14.2v-2.3zM0 1415.1v2.3h14.2v-2.3zM0 1473.9v2.3h14.2v-2.3zM0 1486.8v2.3h14.2v-2.3zM0 1508.8v4.2h14.2v-4.2zM0 1538.2v2.3h14.2v-2.3zM0 1556.6v2.3h14.2v-2.3zM0 1633.8v2.3h14.2v-2.3z"/><path fill="#ffc4b4" d="M0 1328.7v4.2h14.2v-4.2zM0 1339.7v2.3h14.2v-2.3zM0 1354.4v2.3h14.2v-2.3zM0 1371.0v2.3h14.2v-2.3zM0 1404.1v2.3h14.2v-2.3zM0 1442.7v2.3h14.2v-2.3zM0 1459.2v2.3h14.2v-2.3zM0 1483.1v2.3h14.2v-2.3zM0 1507.0v2.3h14.2v-2.3zM0 1514.3v2.3h14.2v-2.3zM0 1545.6v2.3h14.2v-2.3zM0 1576.8v2.3h14.2v-2.3zM0 1608.1v2.3h14.2v-2.3zM0 1613.6v6.0h14.2v-6.0zM0 1624.6v2.3h14.2v-2.3zM0 1646.7v2.3h14.2v-2.3z"/><path fill="#ffae97" d="M0 1332.4v2.3h14.2v-2.3zM0 1345.3v4.2h14.2v-4.2zM0 1350.8v4.2h14.2v-4.2zM0 1361.8v2.3h14.2v-2.3zM0 1367.3v2.3h14.2v-2.3zM0 1374.7v4.2h14.2v-4.2zM0 1391.2v4.2h14.2v-4.2zM0 1405.9v2.3h14.2v-2.3zM0 1428.0v2.3h14.2v-2.3zM0 1433.5v2.3h14.2v-2.3zM0 1444.5v2.3h14.2v-2.3zM0 1461.0v4.2h14.2v-4.2zM0 1468.4v6.0h14.2v-6.0zM0 1499.6v2.3h14.2v-2.3zM0 1512.5v2.3h14.2v-2.3zM0 1521.7v2.3h14.2v-2.3zM0 1534.6v4.2h14.2v-4.2zM0 1540.1v4.2h14.2v-4.2zM0 1549.3v2.3h14.2v-2.3zM0 1552.9v2.3h14.2v-2.3zM0 1560.3v2.3h14.2v-2.3zM0 1564.0v2.3h14.2v-2.3zM0 1569.5v2.3h14.2v-2.3zM0 1573.2v2.3h14.2v-2.3zM0 1580.5v2.3h14.2v-2.3zM0 1586.0v4.2h14.2v-4.2zM0 1591.5v2.3h14.2v-2.3zM0 1595.2v2.3h14.2v-2.3zM0 1598.9v4.2h14.2v-4.2zM0 1626.5v7.9h14.2v-7.9zM0 1635.7v6.0h14.2v-6.0zM0 1644.8v2.3h14.2v-2.3zM0 1648.5v3.7h14.2v-3.7z"/><path fill="#ffb9a5" d="M0 1334.2v2.3h14.2v-2.3zM0 1343.4v2.3h14.2v-2.3zM0 1348.9v2.3h14.2v-2.3zM0 1363.6v2.3h14.2v-2.3zM0 1369.1v2.3h14.2v-2.3zM0 1380.2v2.3h14.2v-2.3zM0 1383.9v2.3h14.2v-2.3zM0 1387.5v2.3h14.2v-2.3zM0 1394.9v2.3h14.2v-2.3zM0 1400.4v4.2h14.2v-4.2zM0 1407.7v2.3h14.2v-2.3zM0 1416.9v2.3h14.2v-2.3zM0 1420.6v7.9h14.2v-7.9zM0 1429.8v2.3h14.2v-2.3zM0 1457.4v2.3h14.2v-2.3zM0 1466.6v2.3h14.2v-2.3zM0 1475.8v2.3h14.2v-2.3zM0 1479.4v4.2h14.2v-4.2zM0 1492.3v2.3h14.2v-2.3zM0 1497.8v2.3h14.2v-2.3zM0 1519.9v2.3h14.2v-2.3zM0 1523.5v2.3h14.2v-2.3zM0 1529.1v2.3h14.2v-2.3zM0 1532.7v2.3h14.2v-2.3zM0 1543.8v2.3h14.2v-2.3zM0 1558.5v2.3h14.2v-2.3zM0 1565.8v2.3h14.2v-2.3zM0 1582.4v4.2h14.2v-4.2zM0 1609.9v4.2h14.2v-4.2zM0 1643.0v2.3h14.2v-2.3z"/><path fill="#ff977b" d="M0 1336.1v4.2h14.2v-4.2zM0 1360.0v2.3h14.2v-2.3zM0 1382.0v2.3h14.2v-2.3zM0 1385.7v2.3h14.2v-2.3zM0 1389.4v2.3h14.2v-2.3zM0 1418.8v2.3h14.2v-2.3zM0 1488.6v2.3h14.2v-2.3zM0 1494.1v2.3h14.2v-2.3zM0 1503.3v2.3h14.2v-2.3zM0 1530.9v2.3h14.2v-2.3zM0 1551.1v2.3h14.2v-2.3zM0 1554.8v2.3h14.2v-2.3zM0 1562.1v2.3h14.2v-2.3zM0 1575.0v2.3h14.2v-2.3zM0 1578.7v2.3h14.2v-2.3zM0 1597.1v2.3h14.2v-2.3zM0 1602.6v4.2h14.2v-4.2zM0 1619.1v4.2h14.2v-4.2z"/><path fill="#ffa389" d="M0 1341.6v2.3h14.2v-2.3zM0 1356.3v2.3h14.2v-2.3zM0 1365.5v2.3h14.2v-2.3zM0 1396.7v2.3h14.2v-2.3zM0 1411.4v2.3h14.2v-2.3zM0 1435.3v7.9h14.2v-7.9zM0 1446.3v4.2h14.2v-4.2zM0 1451.9v2.3h14.2v-2.3zM0 1464.7v2.3h14.2v-2.3zM0 1484.9v2.3h14.2v-2.3zM0 1490.5v2.3h14.2v-2.3zM0 1496.0v2.3h14.2v-2.3zM0 1501.5v2.3h14.2v-2.3zM0 1518.0v2.3h14.2v-2.3zM0 1525.4v4.2h14.2v-4.2zM0 1547.4v2.3h14.2v-2.3zM0 1571.3v2.3h14.2v-2.3zM0 1589.7v2.3h14.2v-2.3zM0 1593.4v2.3h14.2v-2.3zM0 1606.2v2.3h14.2v-2.3zM0 1622.8v2.3h14.2v-2.3z"/><path fill="#fbdad2" d="M0 1358.1v2.3h14.2v-2.3z"/><path fill="#ffcfc3" d="M0 1378.3v2.3h14.2v-2.3zM0 1413.3v2.3h14.2v-2.3zM0 1453.7v2.3h14.2v-2.3zM0 1505.2v2.3h14.2v-2.3zM0 1516.2v2.3h14.2v-2.3zM0 1567.7v2.3h14.2v-2.3z"/><path fill="#ff4426" d="M0 1398.6v2.3h14.2v-2.3zM0 1455.5v2.3h14.2v-2.3z"/><path fill="#f6e5e1" d="M0 1431.6v2.3h14.2v-2.3z"/><path fill="#ff7f5f" d="M0 1450.0v2.3h14.2v-2.3zM0 1641.2v2.3h14.2v-2.3z"/><path fill="#ff7251" d="M0 1477.6v2.3h14.2v-2.3z"/></g><g transform="translate(577.2,0)"><path fill="#2a1cff" d="M0 917.0v5.3h14.6v-5.3zM0 936.2v3.7h14.6v-3.7zM0 947.4v5.3h14.6v-5.3zM0 963.5v5.3h14.6v-5.3zM0 984.3v2.1h14.6v-2.1zM0 995.5v3.7h14.6v-3.7zM0 1016.3v5.3h14.6v-5.3zM0 1024.3v2.1h14.6v-2.1zM0 1046.7v2.1h14.6v-2.1zM0 1051.5v2.1h14.6v-2.1zM0 1066.0v2.1h14.6v-2.1zM0 1072.4v2.1h14.6v-2.1zM0 1080.4v3.7h14.6v-3.7zM0 1138.0v2.1h14.6v-2.1zM0 1141.2v3.7h14.6v-3.7zM0 1178.1v5.3h14.6v-5.3zM0 1192.5v8.5h14.6v-8.5zM0 1208.5v6.9h14.6v-6.9zM0 1235.7v2.1h14.6v-2.1zM0 1258.2v6.9h14.6v-6.9zM0 1282.2v5.3h14.6v-5.3zM0 1320.6v2.1h14.6v-2.1zM0 1383.1v5.3h14.6v-5.3zM0 1403.9v2.1h14.6v-2.1zM0 1408.7v3.7h14.6v-3.7zM0 1432.8v5.3h14.6v-5.3zM0 1456.8v2.1h14.6v-2.1zM0 1472.8v3.7h14.6v-3.7zM0 1484.0v2.1h14.6v-2.1zM0 1511.2v5.3h14.6v-5.3zM0 1519.3v3.7h14.6v-3.7zM0 1543.3v3.7h14.6v-3.7zM0 1589.7v3.7h14.6v-3.7zM0 1618.6v2.1h14.6v-2.1zM0 1631.4v5.3h14.6v-5.3z"/><path fill="#6b50fb" d="M0 921.8v2.1h14.6v-2.1zM0 939.4v2.1h14.6v-2.1zM0 971.5v3.7h14.6v-3.7zM0 1041.9v3.7h14.6v-3.7zM0 1074.0v3.7h14.6v-3.7zM0 1085.2v3.7h14.6v-3.7zM0 1123.6v2.1h14.6v-2.1zM0 1131.6v6.9h14.6v-6.9zM0 1139.6v2.1h14.6v-2.1zM0 1154.1v2.1h14.6v-2.1zM0 1173.3v5.3h14.6v-5.3zM0 1230.9v2.1h14.6v-2.1zM0 1251.8v3.7h14.6v-3.7zM0 1274.2v3.7h14.6v-3.7zM0 1363.9v3.7h14.6v-3.7zM0 1392.7v2.1h14.6v-2.1zM0 1395.9v3.7h14.6v-3.7zM0 1419.9v3.7h14.6v-3.7zM0 1458.4v2.1h14.6v-2.1zM0 1495.2v2.1h14.6v-2.1zM0 1503.2v3.7h14.6v-3.7zM0 1516.1v3.7h14.6v-3.7zM0 1567.3v6.9h14.6v-6.9zM0 1628.2v3.7h14.6v-3.7zM0 1650.6v1.6h14.6v-1.6z"/><path fill="#8f72f8" d="M0 923.4v2.1h14.6v-2.1zM0 960.2v2.1h14.6v-2.1zM0 977.9v2.1h14.6v-2.1zM0 998.7v3.7h14.6v-3.7zM0 1009.9v2.1h14.6v-2.1zM0 1025.9v8.5h14.6v-8.5zM0 1067.6v3.7h14.6v-3.7zM0 1101.2v6.9h14.6v-6.9zM0 1114.0v3.7h14.6v-3.7zM0 1152.5v2.1h14.6v-2.1zM0 1165.3v2.1h14.6v-2.1zM0 1205.3v3.7h14.6v-3.7zM0 1245.4v2.1h14.6v-2.1zM0 1255.0v3.7h14.6v-3.7zM0 1327.0v5.3h14.6v-5.3zM0 1351.1v2.1h14.6v-2.1zM0 1367.1v8.5h14.6v-8.5zM0 1394.3v2.1h14.6v-2.1zM0 1415.1v2.1h14.6v-2.1zM0 1444.0v3.7h14.6v-3.7zM0 1450.4v5.3h14.6v-5.3zM0 1464.8v5.3h14.6v-5.3zM0 1476.0v5.3h14.6v-5.3zM0 1487.2v3.7h14.6v-3.7zM0 1498.4v5.3h14.6v-5.3zM0 1554.5v3.7h14.6v-3.7zM0 1560.9v3.7h14.6v-3.7zM0 1592.9v3.7h14.6v-3.7z"/><path fill="#0000f0" d="M0 925.0v3.7h14.6v-3.7zM0 993.9v2.1h14.6v-2.1zM0 1011.5v3.7h14.6v-3.7zM0 1021.1v3.7h14.6v-3.7zM0 1037.1v2.1h14.6v-2.1zM0 1062.8v3.7h14.6v-3.7zM0 1090.0v5.3h14.6v-5.3zM0 1319.0v2.1h14.6v-2.1zM0 1338.3v2.1h14.6v-2.1zM0 1381.5v2.1h14.6v-2.1zM0 1400.7v3.7h14.6v-3.7zM0 1437.6v5.3h14.6v-5.3zM0 1535.3v3.7h14.6v-3.7z"/><path fill="#fdb39a" d="M0 928.2v3.7h14.6v-3.7zM0 941.0v2.1h14.6v-2.1zM0 968.3v3.7h14.6v-3.7zM0 1109.2v2.1h14.6v-2.1zM0 1144.4v2.1h14.6v-2.1zM0 1171.7v2.1h14.6v-2.1zM0 1202.1v3.7h14.6v-3.7zM0 1229.3v2.1h14.6v-2.1zM0 1242.2v3.7h14.6v-3.7zM0 1271.0v3.7h14.6v-3.7zM0 1314.2v5.3h14.6v-5.3zM0 1411.9v3.7h14.6v-3.7zM0 1426.4v3.7h14.6v-3.7zM0 1455.2v2.1h14.6v-2.1zM0 1469.6v2.1h14.6v-2.1zM0 1480.8v3.7h14.6v-3.7zM0 1496.8v2.1h14.6v-2.1zM0 1522.5v2.1h14.6v-2.1zM0 1573.7v2.1h14.6v-2.1zM0 1617.0v2.1h14.6v-2.1zM0 1645.8v3.7h14.6v-3.7z"/><path fill="#4a30ff" d="M0 931.4v5.3h14.6v-5.3zM0 985.9v5.3h14.6v-5.3zM0 1001.9v2.1h14.6v-2.1zM0 1006.7v3.7h14.6v-3.7zM0 1014.7v2.1h14.6v-2.1zM0 1038.7v2.1h14.6v-2.1zM0 1096.4v5.3h14.6v-5.3zM0 1117.2v3.7h14.6v-3.7zM0 1126.8v2.1h14.6v-2.1zM0 1150.9v2.1h14.6v-2.1zM0 1157.3v8.5h14.6v-8.5zM0 1182.9v5.3h14.6v-5.3zM0 1218.1v5.3h14.6v-5.3zM0 1226.1v3.7h14.6v-3.7zM0 1277.4v5.3h14.6v-5.3zM0 1304.6v3.7h14.6v-3.7zM0 1311.0v3.7h14.6v-3.7zM0 1322.2v3.7h14.6v-3.7zM0 1347.9v2.1h14.6v-2.1zM0 1355.9v3.7h14.6v-3.7zM0 1375.1v2.1h14.6v-2.1zM0 1379.9v2.1h14.6v-2.1zM0 1405.5v2.1h14.6v-2.1zM0 1416.7v3.7h14.6v-3.7zM0 1423.2v3.7h14.6v-3.7zM0 1442.4v2.1h14.6v-2.1zM0 1471.2v2.1h14.6v-2.1zM0 1485.6v2.1h14.6v-2.1zM0 1490.4v2.1h14.6v-2.1zM0 1538.5v3.7h14.6v-3.7zM0 1551.3v3.7h14.6v-3.7zM0 1557.7v3.7h14.6v-3.7zM0 1596.1v5.3h14.6v-5.3zM0 1607.4v10.1h14.6v-10.1zM0 1626.6v2.1h14.6v-2.1zM0 1641.0v2.1h14.6v-2.1z"/><path fill="#ff4a3a" d="M0 942.6v5.3h14.6v-5.3zM0 1045.1v2.1h14.6v-2.1zM0 1048.3v2.1h14.6v-2.1zM0 1331.9v5.3h14.6v-5.3zM0 1387.9v5.3h14.6v-5.3zM0 1429.6v2.1h14.6v-2.1zM0 1541.7v2.1h14.6v-2.1z"/><path fill="#eee" d="M0 952.2v3.7h14.6v-3.7zM0 974.7v3.7h14.6v-3.7zM0 990.7v3.7h14.6v-3.7zM0 1049.9v2.1h14.6v-2.1zM0 1077.2v3.7h14.6v-3.7zM0 1094.8v2.1h14.6v-2.1zM0 1122.0v2.1h14.6v-2.1zM0 1214.9v3.7h14.6v-3.7zM0 1267.8v3.7h14.6v-3.7zM0 1288.6v5.3h14.6v-5.3zM0 1336.7v2.1h14.6v-2.1zM0 1492.0v3.7h14.6v-3.7zM0 1564.1v2.1h14.6v-2.1zM0 1580.1v10.1h14.6v-10.1zM0 1604.1v2.1h14.6v-2.1zM0 1621.8v5.3h14.6v-5.3z"/><path fill="#b09cf6" d="M0 955.4v2.1h14.6v-2.1zM0 961.8v2.1h14.6v-2.1zM0 1033.9v3.7h14.6v-3.7zM0 1040.3v2.1h14.6v-2.1zM0 1083.6v2.1h14.6v-2.1zM0 1088.4v2.1h14.6v-2.1zM0 1110.8v3.7h14.6v-3.7zM0 1120.4v2.1h14.6v-2.1zM0 1128.4v3.7h14.6v-3.7zM0 1155.7v2.1h14.6v-2.1zM0 1166.9v3.7h14.6v-3.7zM0 1187.7v5.3h14.6v-5.3zM0 1222.9v3.7h14.6v-3.7zM0 1232.5v3.7h14.6v-3.7zM0 1237.3v5.3h14.6v-5.3zM0 1293.4v3.7h14.6v-3.7zM0 1343.1v5.3h14.6v-5.3zM0 1431.2v2.1h14.6v-2.1zM0 1447.2v3.7h14.6v-3.7zM0 1460.0v2.1h14.6v-2.1zM0 1506.4v5.3h14.6v-5.3zM0 1533.7v2.1h14.6v-2.1zM0 1546.5v5.3h14.6v-5.3zM0 1575.3v2.1h14.6v-2.1zM0 1600.9v3.7h14.6v-3.7zM0 1605.7v2.1h14.6v-2.1zM0 1620.2v2.1h14.6v-2.1zM0 1637.8v3.7h14.6v-3.7z"/><path fill="#e01030" d="M0 957.0v3.7h14.6v-3.7zM0 1058.0v3.7h14.6v-3.7zM0 1125.2v2.1h14.6v-2.1zM0 1349.5v2.1h14.6v-2.1z"/><path fill="#ccc0f4" d="M0 979.5v3.7h14.6v-3.7zM0 1053.1v5.3h14.6v-5.3zM0 1070.8v2.1h14.6v-2.1zM0 1247.0v5.3h14.6v-5.3zM0 1264.6v3.7h14.6v-3.7zM0 1287.0v2.1h14.6v-2.1zM0 1296.6v8.5h14.6v-8.5zM0 1325.4v2.1h14.6v-2.1zM0 1339.9v3.7h14.6v-3.7zM0 1359.1v5.3h14.6v-5.3zM0 1376.7v3.7h14.6v-3.7zM0 1399.1v2.1h14.6v-2.1zM0 1463.2v2.1h14.6v-2.1zM0 1524.1v6.9h14.6v-6.9zM0 1649.0v2.1h14.6v-2.1z"/><path fill="#fa8c6c" d="M0 982.7v2.1h14.6v-2.1zM0 1003.5v3.7h14.6v-3.7zM0 1061.2v2.1h14.6v-2.1zM0 1107.6v2.1h14.6v-2.1zM0 1146.0v5.3h14.6v-5.3zM0 1170.1v2.1h14.6v-2.1zM0 1200.5v2.1h14.6v-2.1zM0 1307.8v3.7h14.6v-3.7zM0 1352.7v3.7h14.6v-3.7zM0 1407.1v2.1h14.6v-2.1zM0 1461.6v2.1h14.6v-2.1zM0 1530.5v3.7h14.6v-3.7zM0 1565.7v2.1h14.6v-2.1zM0 1576.9v3.7h14.6v-3.7zM0 1636.2v2.1h14.6v-2.1zM0 1642.6v3.7h14.6v-3.7z"/></g></g><path d="M44,1091.3H39.5V1106.3H44M44,1354.8H40.7V1371.6H44M44,929.5H40.0V950.9H44M44,1088.7H39.1V1113.6H44M44,1522.3H38.4V1535.7H44M44,1028.4H37.5V1045.4H44M44,1296.7H38.3V1316.0H44M44,966.1H38.6V985.8H44M44,1136.9H37.5V1140.6H44M44,1260.4H37.5V1279.2H44M44,1434.2H39.4V1457.4H44M44,1496.7H37.3V1509.4H44M44,1552.8H40.5V1557.9H44M44,1076.2H39.3V1100.5H44M44,1371.2H39.0V1380.8H44M44,1197.8H38.7V1208.5H44M44,1340.7H38.3V1363.6H44M44,1588.8H37.0V1610.7H44M44,1403.3H37.6V1409.9H44M44,1614.5H38.7V1637.4H44M44,1433.9H37.7V1441.6H44M44,1332.9H40.7V1342.2H44M44,1534.8H40.6V1559.6H44M44,1496.4H40.4V1508.5H44M44,1131.6H37.5V1151.5H44M44,951.8H40.8V968.3H44M44,1437.3H37.5V1447.6H44M44,1626.1H37.0V1640.2H44M44,1143.0H38.6V1147.7H44M44,942.6H39.4V949.9H44M44,1359.5H40.8V1366.0H44M44,1544.8H37.2V1554.7H44M44,1565.6H39.2V1576.9H44M44,1294.5H38.6V1311.6H44M44,1322.7H37.2V1339.3H44M44,1285.1H38.1V1297.5H44M44,1091.1H37.1V1100.7H44M44,1295.2H41.0V1310.3H44M44,1219.0H40.9V1234.7H44M44,1363.4H40.8V1380.3H44M44,1371.7H38.3V1384.9H44M44,1173.9H38.0V1192.4H44M44,936.0H38.3V940.3H44M44,1613.6H39.2V1622.1H44M44,1346.7H39.5V1356.8H44M44,1145.1H38.6V1156.2H44M44,1136.3H37.9V1147.6H44M44,939.4H38.1V954.9H44M44,1143.2H37.8V1151.1H44M44,1091.9H39.3V1099.0H44M44,1422.6H39.7V1427.8H44M44,1160.3H39.2V1181.6H44M44,1536.0H39.7V1542.7H44M44,1388.2H39.2V1410.6H44M44,1082.0H38.9V1087.7H44M44,1057.4H37.6V1078.1H44M44,1052.2H37.8V1061.3H44M44,1382.2H39.6V1402.9H44M44,1013.4H37.8V1022.8H44M44,1115.2H39.3V1125.9H44" fill="none" stroke="#000" stroke-width="1.2"/><path d="M45,917.5 C40,930 38.5,980 38,1050 C37.5,1150 37,1300 37.5,1450 C38,1560 39.5,1630 44,1652 L46,1652 L46,917.5 Z" fill="#000"/><path d="M38,1028 H30 V1257 H37 M36,1110 H26.3 V1325 H37 M31,1244 H22.5 V1413 H31 V1373 M37,1373 H30 V1497 H37 M37,1160 H33 V1230 M37,1420 H32.5 V1600 H38" fill="none" stroke="#000" stroke-width="1.5"/><text transform="translate(563.5,1662) rotate(-45)" font-size="18.3" text-anchor="end">IbResistance_log2FC</text><text transform="translate(597.5,1660) rotate(-45)" font-size="18.3" text-anchor="end">−log10(FDR)</text><text x="605.5" y="906.3" font-size="35.4" font-weight="bold">Samples</text><rect x="605.5" y="932.8" width="17.2" height="17" fill="#2aace2" stroke="#000" stroke-width="2.2"/><text x="635.5" y="950.6" font-size="35.6">V-early</text><rect x="605.5" y="978.1" width="17.2" height="17" fill="#d3519b" stroke="#000" stroke-width="2.2"/><text x="635.5" y="995.9" font-size="35.6">I-early</text><rect x="605.5" y="1023.4" width="17.2" height="17" fill="#44536a" stroke="#000" stroke-width="2.2"/><text x="635.5" y="1041.2" font-size="35.6">V-late</text><rect x="605.5" y="1068.7" width="17.2" height="17" fill="#f4e81b" stroke="#000" stroke-width="2.2"/><text x="635.5" y="1086.5" font-size="35.6">I-late</text><text x="614.5" y="1176.7" font-size="22.1" font-weight="bold">RNA</text><text x="614.5" y="1200.8" font-size="22.1" font-weight="bold">Expression</text><rect x="612.2" y="1219.9" width="21.7" height="92.3" rx="2" fill="url(#gRNA)"/><line x1="627.5" y1="1227" x2="632" y2="1227" stroke="#fff" stroke-width="1.6" stroke-linecap="round"/><line x1="627.5" y1="1246" x2="632" y2="1246" stroke="#fff" stroke-width="1.6" stroke-linecap="round"/><line x1="627.5" y1="1265.5" x2="632" y2="1265.5" stroke="#fff" stroke-width="1.6" stroke-linecap="round"/><line x1="627.5" y1="1285" x2="632" y2="1285" stroke="#fff" stroke-width="1.6" stroke-linecap="round"/><line x1="627.5" y1="1304.2" x2="632" y2="1304.2" stroke="#fff" stroke-width="1.6" stroke-linecap="round"/><line x1="614" y1="1238.7" x2="618.5" y2="1238.7" stroke="#fff" stroke-width="1.6" stroke-linecap="round"/><line x1="614" y1="1258.2" x2="618.5" y2="1258.2" stroke="#fff" stroke-width="1.6" stroke-linecap="round"/><line x1="614" y1="1277.5" x2="618.5" y2="1277.5" stroke="#fff" stroke-width="1.6" stroke-linecap="round"/><line x1="614" y1="1296.9" x2="618.5" y2="1296.9" stroke="#fff" stroke-width="1.6" stroke-linecap="round"/><text x="654.0" y="1232.6" font-size="20.3" text-anchor="middle">2</text><text x="654.0" y="1251.7" font-size="20.3" text-anchor="middle">1</text><text x="654.0" y="1270.9" font-size="20.3" text-anchor="middle">0</text><text x="654.0" y="1290.0" font-size="20.3" text-anchor="middle">−1</text><text x="654.0" y="1309.6" font-size="20.3" text-anchor="middle">−2</text><text x="614.6" y="1352.3" font-size="22.2" font-weight="bold">log2FC (CLL/control)</text><rect x="612.3" y="1367" width="21.9" height="91.6" rx="2" fill="url(#gFC)"/><line x1="627.5" y1="1373.1" x2="632" y2="1373.1" stroke="#fff" stroke-width="1.6" stroke-linecap="round"/><line x1="627.5" y1="1392.7" x2="632" y2="1392.7" stroke="#fff" stroke-width="1.6" stroke-linecap="round"/><line x1="627.5" y1="1412.1" x2="632" y2="1412.1" stroke="#fff" stroke-width="1.6" stroke-linecap="round"/><line x1="627.5" y1="1431.7" x2="632" y2="1431.7" stroke="#fff" stroke-width="1.6" stroke-linecap="round"/><line x1="627.5" y1="1450.9" x2="632" y2="1450.9" stroke="#fff" stroke-width="1.6" stroke-linecap="round"/><text x="654.0" y="1378.5" font-size="20.3" text-anchor="middle">4</text><text x="654.0" y="1398.5" font-size="20.3" text-anchor="middle">2</text><text x="654.0" y="1417.8" font-size="20.3" text-anchor="middle">0</text><text x="654.0" y="1437.0" font-size="20.3" text-anchor="middle">−2</text><text x="654.0" y="1456.3" font-size="20.3" text-anchor="middle">−4</text><text x="614.6" y="1499.0" font-size="22.1" font-weight="bold">−log10(FDR)</text><rect x="612.3" y="1522" width="21.9" height="92.5" rx="2" fill="url(#gFDR)"/><line x1="627.5" y1="1529.2" x2="632" y2="1529.2" stroke="#fff" stroke-width="1.6" stroke-linecap="round"/><line x1="627.5" y1="1548.7" x2="632" y2="1548.7" stroke="#fff" stroke-width="1.6" stroke-linecap="round"/><line x1="627.5" y1="1568" x2="632" y2="1568" stroke="#fff" stroke-width="1.6" stroke-linecap="round"/><line x1="627.5" y1="1587.2" x2="632" y2="1587.2" stroke="#fff" stroke-width="1.6" stroke-linecap="round"/><line x1="627.5" y1="1606.8" x2="632" y2="1606.8" stroke="#fff" stroke-width="1.6" stroke-linecap="round"/><text x="636.2" y="1534.4" font-size="20.3">7</text><text x="636.2" y="1553.8" font-size="20.3">6</text><text x="636.2" y="1572.6" font-size="20.3">5</text><text x="636.2" y="1591.8" font-size="20.3">4</text><text x="636.2" y="1611.1" font-size="20.3">3</text><text x="862.4" y="796.6" font-size="56.3" fill="#231f20">C</text><text x="942.7" y="849.1" font-size="35.7">Over-representation analysis of ibrutinib-resistant signatures</text><rect x="1381.0" y="887.2" width="521.8" height="29.7" fill="#0583b9"/><text x="1368.5" y="910.4" font-size="26.8" text-anchor="end">DNA replication</text><rect x="1381.0" y="919.3" width="425.9" height="29.7" fill="#ee0000"/><text x="1368.5" y="942.6" font-size="26.8" text-anchor="end">Proteasome</text><rect x="1381.0" y="951.3" width="400.6" height="29.7" fill="#0583b9"/><text x="1368.5" y="974.8" font-size="26.8" text-anchor="end">Mismatch repair</text><rect x="1381.0" y="983.4" width="311.6" height="29.7" fill="#0583b9"/><text x="1368.5" y="1007.0" font-size="26.8" text-anchor="end">Cell cycle</text><rect x="1381.0" y="1015.5" width="289.6" height="29.7" fill="#0583b9"/><text x="1368.5" y="1039.2" font-size="26.8" text-anchor="end">Biosynthesis of amino acids</text><rect x="1381.0" y="1047.5" width="274.6" height="29.7" fill="#0583b9"/><text x="1368.5" y="1071.4" font-size="26.8" text-anchor="end">p53 signaling pathway</text><rect x="1381.0" y="1079.6" width="267.0" height="29.7" fill="#0583b9"/><text x="1368.5" y="1103.6" font-size="26.8" text-anchor="end">Th1 and Th2 cell differentiation</text><rect x="1381.0" y="1111.7" width="261.6" height="29.7" fill="#0583b9"/><text x="1368.5" y="1135.8" font-size="26.8" text-anchor="end">T cell receptor signaling pathway</text><rect x="1381.0" y="1143.8" width="254.7" height="29.7" fill="#0583b9"/><text x="1368.5" y="1168.0" font-size="26.8" text-anchor="end">Pyrimidine metabolism</text><rect x="1381.0" y="1175.8" width="245.1" height="29.7" fill="#0583b9"/><text x="1368.5" y="1200.2" font-size="26.8" text-anchor="end">Non-alcoholic fatty liver disease (NAFLD)</text><rect x="1381.0" y="1207.9" width="237.6" height="29.7" fill="#0583b9"/><text x="1368.5" y="1232.4" font-size="26.8" text-anchor="end">FoxO signaling pathway</text><rect x="1381.0" y="1240.0" width="236.2" height="29.7" fill="#0583b9"/><text x="1368.5" y="1264.6" font-size="26.8" text-anchor="end">Huntington disease</text><rect x="1381.0" y="1272.0" width="231.4" height="29.7" fill="#0583b9"/><text x="1368.5" y="1296.8" font-size="26.8" text-anchor="end">Purine metabolism</text><rect x="1381.0" y="1304.1" width="226.6" height="29.7" fill="#0583b9"/><text x="1368.5" y="1329.0" font-size="26.8" text-anchor="end">Parkinson disease</text><rect x="1381.0" y="1336.2" width="225.9" height="29.7" fill="#0583b9"/><text x="1368.5" y="1361.2" font-size="26.8" text-anchor="end">Alzheimer disease</text><rect x="1381.0" y="1368.2" width="219.1" height="29.7" fill="#0583b9"/><text x="1368.5" y="1393.4" font-size="26.8" text-anchor="end">Cellular senescence</text><rect x="1381.0" y="1400.3" width="215.7" height="29.7" fill="#0583b9"/><text x="1368.5" y="1425.6" font-size="26.8" text-anchor="end">Human T-cell leukemia virus 1 infection</text><rect x="1381.0" y="1432.4" width="212.9" height="29.7" fill="#0583b9"/><text x="1368.5" y="1457.8" font-size="26.8" text-anchor="end">Thermogenesis</text><rect x="1381.0" y="1464.5" width="212.9" height="29.7" fill="#0583b9"/><text x="1368.5" y="1490.0" font-size="26.8" text-anchor="end">Transcript. misregulation in cancer</text><rect x="1381.0" y="1496.5" width="169.8" height="29.7" fill="#0583b9"/><text x="1368.5" y="1522.2" font-size="26.8" text-anchor="end">Metabolic pathways</text><line x1="1381.0" y1="880.7" x2="1381.0" y2="1530" stroke="#666" stroke-width="1.3"/><line x1="1380.8" y1="1532.5" x2="1921" y2="1532.5" stroke="#000" stroke-width="2.5"/><text x="1382.3" y="1585.3" font-size="26.6" text-anchor="middle">0</text><text x="1448.5" y="1585.3" font-size="26.6" text-anchor="middle">0.5</text><text x="1514.8" y="1585.3" font-size="26.6" text-anchor="middle">1.0</text><text x="1581.0" y="1585.3" font-size="26.6" text-anchor="middle">1.5</text><text x="1647.3" y="1585.3" font-size="26.6" text-anchor="middle">2.0</text><text x="1713.5" y="1585.3" font-size="26.6" text-anchor="middle">2.5</text><text x="1779.8" y="1585.3" font-size="26.6" text-anchor="middle">3.0</text><text x="1846.0" y="1585.3" font-size="26.6" text-anchor="middle">3.5</text><text x="1912.3" y="1585.3" font-size="26.6" text-anchor="middle">4.0</text><path d="M1382.2,1532.5V1551.6M1449.5,1532.5V1551.6M1516.8,1532.5V1551.6M1584.0,1532.5V1551.6M1651.3,1532.5V1551.6M1718.6,1532.5V1551.6M1785.9,1532.5V1551.6M1853.2,1532.5V1551.6M1920.4,1532.5V1551.6" stroke="#000" stroke-width="2.7"/><text x="1246.2" y="1613.3" font-size="27">Enrichment ratio</text><text x="1764.6" y="1522.0" font-size="31.2">FDR&lt;0.05</text><text x="-0.2" y="1865.0" font-size="56.3" fill="#231f20">D</text><text x="37.4" y="1956.0" font-size="35.7">Transcripts</text><defs><clipPath id="gclip"><path d="M321.2,2082.0 L321.0,2094.5 L320.4,2104.0 L319.4,2112.5 L318.0,2120.4 L316.2,2127.9 L314.0,2134.9 L311.4,2141.5 L308.4,2147.8 L305.1,2153.7 L301.4,2159.2 L297.3,2164.4 L292.8,2169.3 L288.0,2173.7 L282.8,2177.9 L277.3,2181.6 L271.4,2185.0 L265.2,2188.0 L258.6,2190.6 L251.6,2192.8 L244.2,2194.6 L236.3,2196.0 L227.9,2197.0 L218.4,2197.6 L206.0,2197.8 L193.6,2197.6 L184.1,2197.0 L175.7,2196.0 L167.8,2194.6 L160.4,2192.8 L153.4,2190.6 L146.8,2188.0 L140.6,2185.0 L134.7,2181.6 L129.2,2177.9 L124.0,2173.7 L119.2,2169.3 L114.7,2164.4 L110.6,2159.2 L106.9,2153.7 L103.6,2147.8 L100.6,2141.5 L98.0,2134.9 L95.8,2127.9 L94.0,2120.4 L92.6,2112.5 L91.6,2104.0 L91.0,2094.5 L90.8,2082.0 L91.0,2069.5 L91.6,2060.0 L92.6,2051.5 L94.0,2043.6 L95.8,2036.1 L98.0,2029.1 L100.6,2022.5 L103.6,2016.2 L106.9,2010.3 L110.6,2004.8 L114.7,1999.6 L119.2,1994.7 L124.0,1990.3 L129.2,1986.1 L134.7,1982.4 L140.6,1979.0 L146.8,1976.0 L153.4,1973.4 L160.4,1971.2 L167.8,1969.4 L175.7,1968.0 L184.1,1967.0 L193.6,1966.4 L206.0,1966.2 L218.4,1966.4 L227.9,1967.0 L236.3,1968.0 L244.2,1969.4 L251.6,1971.2 L258.6,1973.4 L265.2,1976.0 L271.4,1979.0 L277.3,1982.4 L282.8,1986.1 L288.0,1990.3 L292.8,1994.7 L297.3,1999.6 L301.4,2004.8 L305.1,2010.3 L308.4,2016.2 L311.4,2022.5 L314.0,2029.1 L316.2,2036.1 L318.0,2043.6 L319.4,2051.5 L320.4,2060.0 L321.0,2069.5Z"/></clipPath></defs><path d="M321.2,2082.0 L321.0,2094.5 L320.4,2104.0 L319.4,2112.5 L318.0,2120.4 L316.2,2127.9 L314.0,2134.9 L311.4,2141.5 L308.4,2147.8 L305.1,2153.7 L301.4,2159.2 L297.3,2164.4 L292.8,2169.3 L288.0,2173.7 L282.8,2177.9 L277.3,2181.6 L271.4,2185.0 L265.2,2188.0 L258.6,2190.6 L251.6,2192.8 L244.2,2194.6 L236.3,2196.0 L227.9,2197.0 L218.4,2197.6 L206.0,2197.8 L193.6,2197.6 L184.1,2197.0 L175.7,2196.0 L167.8,2194.6 L160.4,2192.8 L153.4,2190.6 L146.8,2188.0 L140.6,2185.0 L134.7,2181.6 L129.2,2177.9 L124.0,2173.7 L119.2,2169.3 L114.7,2164.4 L110.6,2159.2 L106.9,2153.7 L103.6,2147.8 L100.6,2141.5 L98.0,2134.9 L95.8,2127.9 L94.0,2120.4 L92.6,2112.5 L91.6,2104.0 L91.0,2094.5 L90.8,2082.0 L91.0,2069.5 L91.6,2060.0 L92.6,2051.5 L94.0,2043.6 L95.8,2036.1 L98.0,2029.1 L100.6,2022.5 L103.6,2016.2 L106.9,2010.3 L110.6,2004.8 L114.7,1999.6 L119.2,1994.7 L124.0,1990.3 L129.2,1986.1 L134.7,1982.4 L140.6,1979.0 L146.8,1976.0 L153.4,1973.4 L160.4,1971.2 L167.8,1969.4 L175.7,1968.0 L184.1,1967.0 L193.6,1966.4 L206.0,1966.2 L218.4,1966.4 L227.9,1967.0 L236.3,1968.0 L244.2,1969.4 L251.6,1971.2 L258.6,1973.4 L265.2,1976.0 L271.4,1979.0 L277.3,1982.4 L282.8,1986.1 L288.0,1990.3 L292.8,1994.7 L297.3,1999.6 L301.4,2004.8 L305.1,2010.3 L308.4,2016.2 L311.4,2022.5 L314.0,2029.1 L316.2,2036.1 L318.0,2043.6 L319.4,2051.5 L320.4,2060.0 L321.0,2069.5Z" fill="#88c487"/><circle cx="257.8" cy="2141" r="77.3" fill="#8787ef"/><circle cx="257.8" cy="2141" r="77.3" fill="#4a6db4" clip-path="url(#gclip)"/><path d="M321.2,2082.0 L321.0,2094.5 L320.4,2104.0 L319.4,2112.5 L318.0,2120.4 L316.2,2127.9 L314.0,2134.9 L311.4,2141.5 L308.4,2147.8 L305.1,2153.7 L301.4,2159.2 L297.3,2164.4 L292.8,2169.3 L288.0,2173.7 L282.8,2177.9 L277.3,2181.6 L271.4,2185.0 L265.2,2188.0 L258.6,2190.6 L251.6,2192.8 L244.2,2194.6 L236.3,2196.0 L227.9,2197.0 L218.4,2197.6 L206.0,2197.8 L193.6,2197.6 L184.1,2197.0 L175.7,2196.0 L167.8,2194.6 L160.4,2192.8 L153.4,2190.6 L146.8,2188.0 L140.6,2185.0 L134.7,2181.6 L129.2,2177.9 L124.0,2173.7 L119.2,2169.3 L114.7,2164.4 L110.6,2159.2 L106.9,2153.7 L103.6,2147.8 L100.6,2141.5 L98.0,2134.9 L95.8,2127.9 L94.0,2120.4 L92.6,2112.5 L91.6,2104.0 L91.0,2094.5 L90.8,2082.0 L91.0,2069.5 L91.6,2060.0 L92.6,2051.5 L94.0,2043.6 L95.8,2036.1 L98.0,2029.1 L100.6,2022.5 L103.6,2016.2 L106.9,2010.3 L110.6,2004.8 L114.7,1999.6 L119.2,1994.7 L124.0,1990.3 L129.2,1986.1 L134.7,1982.4 L140.6,1979.0 L146.8,1976.0 L153.4,1973.4 L160.4,1971.2 L167.8,1969.4 L175.7,1968.0 L184.1,1967.0 L193.6,1966.4 L206.0,1966.2 L218.4,1966.4 L227.9,1967.0 L236.3,1968.0 L244.2,1969.4 L251.6,1971.2 L258.6,1973.4 L265.2,1976.0 L271.4,1979.0 L277.3,1982.4 L282.8,1986.1 L288.0,1990.3 L292.8,1994.7 L297.3,1999.6 L301.4,2004.8 L305.1,2010.3 L308.4,2016.2 L311.4,2022.5 L314.0,2029.1 L316.2,2036.1 L318.0,2043.6 L319.4,2051.5 L320.4,2060.0 L321.0,2069.5Z" fill="none" stroke="#7f7f7f" stroke-width="3.4" opacity="0.95"/><circle cx="257.8" cy="2141" r="77.3" fill="none" stroke="#7a7a7a" stroke-width="3.4"/><circle cx="257.8" cy="2141" r="77.3" fill="none" stroke="#3d5a3c" stroke-width="3.4" clip-path="url(#gclip)"/><path d="M321.2,2082.0 L321.0,2094.5 L320.4,2104.0 L319.4,2112.5 L318.0,2120.4 L316.2,2127.9 L314.0,2134.9 L311.4,2141.5 L308.4,2147.8 L305.1,2153.7 L301.4,2159.2 L297.3,2164.4 L292.8,2169.3 L288.0,2173.7 L282.8,2177.9 L277.3,2181.6 L271.4,2185.0 L265.2,2188.0 L258.6,2190.6 L251.6,2192.8 L244.2,2194.6 L236.3,2196.0 L227.9,2197.0 L218.4,2197.6 L206.0,2197.8 L193.6,2197.6 L184.1,2197.0 L175.7,2196.0 L167.8,2194.6 L160.4,2192.8 L153.4,2190.6 L146.8,2188.0 L140.6,2185.0 L134.7,2181.6 L129.2,2177.9 L124.0,2173.7 L119.2,2169.3 L114.7,2164.4 L110.6,2159.2 L106.9,2153.7 L103.6,2147.8 L100.6,2141.5 L98.0,2134.9 L95.8,2127.9 L94.0,2120.4 L92.6,2112.5 L91.6,2104.0 L91.0,2094.5 L90.8,2082.0 L91.0,2069.5 L91.6,2060.0 L92.6,2051.5 L94.0,2043.6 L95.8,2036.1 L98.0,2029.1 L100.6,2022.5 L103.6,2016.2 L106.9,2010.3 L110.6,2004.8 L114.7,1999.6 L119.2,1994.7 L124.0,1990.3 L129.2,1986.1 L134.7,1982.4 L140.6,1979.0 L146.8,1976.0 L153.4,1973.4 L160.4,1971.2 L167.8,1969.4 L175.7,1968.0 L184.1,1967.0 L193.6,1966.4 L206.0,1966.2 L218.4,1966.4 L227.9,1967.0 L236.3,1968.0 L244.2,1969.4 L251.6,1971.2 L258.6,1973.4 L265.2,1976.0 L271.4,1979.0 L277.3,1982.4 L282.8,1986.1 L288.0,1990.3 L292.8,1994.7 L297.3,1999.6 L301.4,2004.8 L305.1,2010.3 L308.4,2016.2 L311.4,2022.5 L314.0,2029.1 L316.2,2036.1 L318.0,2043.6 L319.4,2051.5 L320.4,2060.0 L321.0,2069.5Z" fill="none" stroke="#4645b8" stroke-width="3.4" clip-path="url(#bclip)"/><defs><clipPath id="bclip"><circle cx="257.8" cy="2141" r="77.3"/></clipPath></defs><text x="150.8" y="2045.6" font-size="25.5">19329</text><text x="208.2" y="2139.7" font-size="37.9">4051</text><text x="270.3" y="2196.4" font-size="25">726</text><text x="182.5" y="2253.0" font-size="34.8">Proteins</text><text x="353.5" y="1865.0" font-size="56.3" fill="#231f20">E</text><text x="439.6" y="1880.6" font-size="35.7">Transcripts</text><text x="716.9" y="1882.1" font-size="35.1">Proteins</text><rect x="403.5" y="1898.2" width="63.1" height="23.8" fill="#2aace2"/><rect x="466.6" y="1898.2" width="61.6" height="23.8" fill="#d3519b"/><rect x="528.2" y="1898.2" width="62.5" height="23.8" fill="#44536a"/><rect x="590.7" y="1898.2" width="62.5" height="23.8" fill="#f4e81b"/><line x1="466.6" y1="1898.2" x2="466.6" y2="1922" stroke="#fff" stroke-width="0.8"/><line x1="528.2" y1="1898.2" x2="528.2" y2="1922" stroke="#fff" stroke-width="0.8"/><line x1="590.7" y1="1898.2" x2="590.7" y2="1922" stroke="#fff" stroke-width="0.8"/><rect x="655.6" y="1898.2" width="59.9" height="23.8" fill="#2aace2"/><rect x="715.5" y="1898.2" width="62.1" height="23.8" fill="#d3519b"/><rect x="777.6" y="1898.2" width="62.2" height="23.8" fill="#44536a"/><rect x="839.8" y="1898.2" width="63.4" height="23.8" fill="#f4e81b"/><line x1="715.5" y1="1898.2" x2="715.5" y2="1922" stroke="#fff" stroke-width="0.8"/><line x1="777.6" y1="1898.2" x2="777.6" y2="1922" stroke="#fff" stroke-width="0.8"/><line x1="839.8" y1="1898.2" x2="839.8" y2="1922" stroke="#fff" stroke-width="0.8"/><rect x="402.4" y="1898.1" width="501.4" height="24.1" fill="none" stroke="#000" stroke-width="2.2"/><line x1="654.4" y1="1898" x2="654.4" y2="1922" stroke="#000" stroke-width="2.4"/><g shape-rendering="crispEdges"><g transform="translate(404.0,0)"><path fill="#00f060" d="M0 1929.6v4.2h63.3v-4.2zM0 1937.0v4.2h63.3v-4.2zM0 1944.5v4.2h63.3v-4.2zM0 1951.9v4.2h63.3v-4.2zM0 1963.1v4.2h63.3v-4.2zM0 1985.4v7.9h63.3v-7.9zM0 2007.8v7.9h63.3v-7.9zM0 2026.4v7.9h63.3v-7.9zM0 2048.7v4.2h63.3v-4.2zM0 2074.8v4.2h63.3v-4.2zM0 2108.2v4.2h63.3v-4.2zM0 2126.9v4.2h63.3v-4.2zM0 2141.7v4.2h63.3v-4.2zM0 2167.8v4.2h63.3v-4.2zM0 2175.2v7.9h63.3v-7.9zM0 2190.1v4.2h63.3v-4.2zM0 2205.0v7.9h63.3v-7.9zM0 2227.3v7.9h63.3v-7.9zM0 2238.5v7.9h63.3v-7.9zM0 2249.7v7.9h63.3v-7.9zM0 2275.7v7.9h63.3v-7.9zM0 2290.6v4.2h63.3v-4.2zM0 2320.4v4.2h63.3v-4.2zM0 2339.0v4.2h63.3v-4.2zM0 2346.4v7.9h63.3v-7.9zM0 2376.2v11.7h63.3v-11.7zM0 2402.3v3.7h63.3v-3.7z"/><path fill="#00f5a0" d="M0 1933.3v4.2h63.3v-4.2zM0 1948.2v4.2h63.3v-4.2zM0 1955.7v4.2h63.3v-4.2zM0 1966.8v7.9h63.3v-7.9zM0 1978.0v4.2h63.3v-4.2zM0 1992.9v4.2h63.3v-4.2zM0 2015.2v4.2h63.3v-4.2zM0 2104.5v4.2h63.3v-4.2zM0 2112.0v4.2h63.3v-4.2zM0 2156.6v4.2h63.3v-4.2zM0 2223.6v4.2h63.3v-4.2zM0 2257.1v4.2h63.3v-4.2zM0 2305.5v7.9h63.3v-7.9zM0 2353.9v4.2h63.3v-4.2zM0 2365.1v4.2h63.3v-4.2zM0 2391.1v4.2h63.3v-4.2z"/><path fill="#80f8b2" d="M0 1940.8v4.2h63.3v-4.2zM0 2082.2v4.2h63.3v-4.2zM0 2097.1v4.2h63.3v-4.2zM0 2123.1v4.2h63.3v-4.2zM0 2357.6v7.9h63.3v-7.9z"/><path fill="#9ff9c5" d="M0 1974.3v4.2h63.3v-4.2zM0 2004.0v4.2h63.3v-4.2zM0 2078.5v4.2h63.3v-4.2z"/><path fill="#00f070" d="M0 1981.7v4.2h63.3v-4.2zM0 1996.6v4.2h63.3v-4.2zM0 2022.6v4.2h63.3v-4.2zM0 2041.3v4.2h63.3v-4.2zM0 2056.1v4.2h63.3v-4.2zM0 2085.9v4.2h63.3v-4.2zM0 2093.4v4.2h63.3v-4.2zM0 2115.7v4.2h63.3v-4.2zM0 2130.6v4.2h63.3v-4.2zM0 2149.2v4.2h63.3v-4.2zM0 2171.5v4.2h63.3v-4.2zM0 2212.5v4.2h63.3v-4.2zM0 2219.9v4.2h63.3v-4.2zM0 2234.8v4.2h63.3v-4.2zM0 2301.8v4.2h63.3v-4.2zM0 2313.0v7.9h63.3v-7.9zM0 2324.1v4.2h63.3v-4.2zM0 2398.6v4.2h63.3v-4.2z"/><path fill="#00f28a" d="M0 2037.5v4.2h63.3v-4.2zM0 2059.9v4.2h63.3v-4.2zM0 2100.8v4.2h63.3v-4.2zM0 2119.4v4.2h63.3v-4.2zM0 2134.3v4.2h63.3v-4.2zM0 2197.6v4.2h63.3v-4.2zM0 2216.2v4.2h63.3v-4.2zM0 2246.0v4.2h63.3v-4.2zM0 2260.8v4.2h63.3v-4.2zM0 2272.0v4.2h63.3v-4.2zM0 2283.2v7.9h63.3v-7.9zM0 2294.3v4.2h63.3v-4.2zM0 2342.7v4.2h63.3v-4.2zM0 2368.8v4.2h63.3v-4.2zM0 2394.8v4.2h63.3v-4.2z"/><path fill="#40f48b" d="M0 2045.0v4.2h63.3v-4.2zM0 2201.3v4.2h63.3v-4.2zM0 2268.3v4.2h63.3v-4.2z"/><path fill="#20f277" d="M0 2063.6v4.2h63.3v-4.2zM0 2138.0v4.2h63.3v-4.2zM0 2152.9v4.2h63.3v-4.2zM0 2182.7v4.2h63.3v-4.2zM0 2327.8v4.2h63.3v-4.2z"/><path fill="#60f69e" d="M0 2067.3v4.2h63.3v-4.2zM0 2193.9v4.2h63.3v-4.2zM0 2372.5v4.2h63.3v-4.2z"/><path fill="#ff8080" d="M0 2145.5v4.2h63.3v-4.2z"/></g><g transform="translate(467.3,0)"><path fill="#9ff9c5" d="M0 1933.3v4.2h61.6v-4.2zM0 2000.3v4.2h61.6v-4.2zM0 2018.9v4.2h61.6v-4.2zM0 2045.0v4.2h61.6v-4.2zM0 2085.9v4.2h61.6v-4.2zM0 2231.1v7.9h61.6v-7.9zM0 2246.0v4.2h61.6v-4.2zM0 2327.8v4.2h61.6v-4.2zM0 2346.4v4.2h61.6v-4.2zM0 2361.3v4.2h61.6v-4.2z"/><path fill="#ffdfdf" d="M0 1937.0v4.2h61.6v-4.2zM0 1951.9v7.9h61.6v-7.9zM0 1989.1v4.2h61.6v-4.2zM0 2026.4v4.2h61.6v-4.2zM0 2037.5v4.2h61.6v-4.2zM0 2059.9v4.2h61.6v-4.2zM0 2108.2v4.2h61.6v-4.2zM0 2171.5v4.2h61.6v-4.2zM0 2193.9v4.2h61.6v-4.2zM0 2257.1v4.2h61.6v-4.2zM0 2309.2v4.2h61.6v-4.2zM0 2398.6v4.2h61.6v-4.2z"/><path fill="#00f890" d="M0 1944.5v4.2h61.6v-4.2zM0 2152.9v4.2h61.6v-4.2zM0 2182.7v4.2h61.6v-4.2zM0 2201.3v4.2h61.6v-4.2zM0 2316.7v4.2h61.6v-4.2zM0 2402.3v3.7h61.6v-3.7z"/><path fill="#dffdec" d="M0 1948.2v4.2h61.6v-4.2zM0 1985.4v4.2h61.6v-4.2zM0 2007.8v4.2h61.6v-4.2zM0 2033.8v4.2h61.6v-4.2zM0 2048.7v11.7h61.6v-11.7zM0 2078.5v4.2h61.6v-4.2zM0 2104.5v4.2h61.6v-4.2zM0 2126.9v4.2h61.6v-4.2zM0 2134.3v4.2h61.6v-4.2zM0 2141.7v7.9h61.6v-7.9zM0 2156.6v4.2h61.6v-4.2zM0 2175.2v4.2h61.6v-4.2zM0 2208.7v4.2h61.6v-4.2zM0 2227.3v4.2h61.6v-4.2zM0 2238.5v4.2h61.6v-4.2zM0 2275.7v7.9h61.6v-7.9zM0 2290.6v11.7h61.6v-11.7zM0 2313.0v4.2h61.6v-4.2zM0 2320.4v7.9h61.6v-7.9zM0 2357.6v4.2h61.6v-4.2zM0 2383.7v4.2h61.6v-4.2z"/><path fill="#80f8b2" d="M0 1959.4v4.2h61.6v-4.2zM0 1978.0v4.2h61.6v-4.2zM0 2112.0v4.2h61.6v-4.2zM0 2219.9v4.2h61.6v-4.2z"/><path fill="#00f8a8" d="M0 1974.3v4.2h61.6v-4.2zM0 2004.0v4.2h61.6v-4.2zM0 2011.5v7.9h61.6v-7.9zM0 2074.8v4.2h61.6v-4.2zM0 2100.8v4.2h61.6v-4.2zM0 2138.0v4.2h61.6v-4.2zM0 2160.4v7.9h61.6v-7.9zM0 2242.2v4.2h61.6v-4.2zM0 2264.6v4.2h61.6v-4.2zM0 2342.7v4.2h61.6v-4.2zM0 2372.5v4.2h61.6v-4.2zM0 2379.9v4.2h61.6v-4.2z"/><path fill="#bffbd8" d="M0 1992.9v4.2h61.6v-4.2zM0 2022.6v4.2h61.6v-4.2zM0 2030.1v4.2h61.6v-4.2zM0 2067.3v4.2h61.6v-4.2zM0 2205.0v4.2h61.6v-4.2zM0 2223.6v4.2h61.6v-4.2zM0 2260.8v4.2h61.6v-4.2zM0 2286.9v4.2h61.6v-4.2zM0 2339.0v4.2h61.6v-4.2zM0 2350.2v4.2h61.6v-4.2zM0 2365.1v7.9h61.6v-7.9zM0 2391.1v4.2h61.6v-4.2z"/><path fill="#ffbfbf" d="M0 2041.3v4.2h61.6v-4.2zM0 2186.4v4.2h61.6v-4.2zM0 2197.6v4.2h61.6v-4.2zM0 2394.8v4.2h61.6v-4.2z"/><path fill="#ff8080" d="M0 2063.6v4.2h61.6v-4.2z"/><path fill="#ff9f9f" d="M0 2253.4v4.2h61.6v-4.2zM0 2272.0v4.2h61.6v-4.2z"/></g><g transform="translate(528.9,0)"><path fill="#ffbfbf" d="M0 1933.3v4.2h62.3v-4.2zM0 1955.7v4.2h62.3v-4.2zM0 1966.8v4.2h62.3v-4.2zM0 1985.4v7.9h62.3v-7.9zM0 2026.4v4.2h62.3v-4.2zM0 2078.5v4.2h62.3v-4.2zM0 2093.4v4.2h62.3v-4.2zM0 2134.3v4.2h62.3v-4.2zM0 2141.7v4.2h62.3v-4.2zM0 2149.2v7.9h62.3v-7.9zM0 2171.5v4.2h62.3v-4.2zM0 2182.7v4.2h62.3v-4.2zM0 2212.5v4.2h62.3v-4.2zM0 2242.2v4.2h62.3v-4.2zM0 2257.1v7.9h62.3v-7.9zM0 2298.1v4.2h62.3v-4.2zM0 2305.5v4.2h62.3v-4.2zM0 2320.4v4.2h62.3v-4.2zM0 2342.7v7.9h62.3v-7.9zM0 2357.6v4.2h62.3v-4.2zM0 2365.1v4.2h62.3v-4.2z"/><path fill="#dffdec" d="M0 1944.5v4.2h62.3v-4.2zM0 1981.7v4.2h62.3v-4.2zM0 2004.0v4.2h62.3v-4.2zM0 2018.9v4.2h62.3v-4.2zM0 2041.3v4.2h62.3v-4.2zM0 2074.8v4.2h62.3v-4.2zM0 2164.1v7.9h62.3v-7.9zM0 2339.0v4.2h62.3v-4.2z"/><path fill="#ffdfdf" d="M0 1951.9v4.2h62.3v-4.2zM0 1963.1v4.2h62.3v-4.2zM0 1970.5v4.2h62.3v-4.2zM0 2000.3v4.2h62.3v-4.2zM0 2011.5v7.9h62.3v-7.9zM0 2030.1v4.2h62.3v-4.2zM0 2045.0v4.2h62.3v-4.2zM0 2052.4v15.4h62.3v-15.4zM0 2082.2v7.9h62.3v-7.9zM0 2156.6v7.9h62.3v-7.9zM0 2201.3v4.2h62.3v-4.2zM0 2208.7v4.2h62.3v-4.2zM0 2234.8v7.9h62.3v-7.9zM0 2246.0v7.9h62.3v-7.9zM0 2264.6v4.2h62.3v-4.2zM0 2316.7v4.2h62.3v-4.2zM0 2331.6v7.9h62.3v-7.9zM0 2353.9v4.2h62.3v-4.2zM0 2376.2v4.2h62.3v-4.2z"/><path fill="#00f890" d="M0 1959.4v4.2h62.3v-4.2zM0 2022.6v4.2h62.3v-4.2zM0 2100.8v4.2h62.3v-4.2zM0 2123.1v4.2h62.3v-4.2zM0 2145.5v4.2h62.3v-4.2zM0 2324.1v4.2h62.3v-4.2zM0 2379.9v4.2h62.3v-4.2z"/><path fill="#bffbd8" d="M0 1978.0v4.2h62.3v-4.2zM0 2033.8v4.2h62.3v-4.2z"/><path fill="#ff9f9f" d="M0 1992.9v7.9h62.3v-7.9zM0 2108.2v4.2h62.3v-4.2zM0 2119.4v4.2h62.3v-4.2zM0 2130.6v4.2h62.3v-4.2zM0 2138.0v4.2h62.3v-4.2zM0 2227.3v7.9h62.3v-7.9zM0 2279.5v4.2h62.3v-4.2zM0 2313.0v4.2h62.3v-4.2zM0 2361.3v4.2h62.3v-4.2zM0 2368.8v4.2h62.3v-4.2zM0 2383.7v4.2h62.3v-4.2zM0 2402.3v3.7h62.3v-3.7z"/><path fill="#ff4040" d="M0 2037.5v4.2h62.3v-4.2z"/><path fill="#40f8b8" d="M0 2071.0v4.2h62.3v-4.2zM0 2290.6v4.2h62.3v-4.2zM0 2394.8v4.2h62.3v-4.2z"/><path fill="#ff8080" d="M0 2089.6v4.2h62.3v-4.2zM0 2197.6v4.2h62.3v-4.2zM0 2216.2v4.2h62.3v-4.2zM0 2223.6v4.2h62.3v-4.2zM0 2309.2v4.2h62.3v-4.2z"/><path fill="#9ff9c5" d="M0 2126.9v4.2h62.3v-4.2z"/><path fill="#00f8a8" d="M0 2372.5v4.2h62.3v-4.2zM0 2387.4v4.2h62.3v-4.2zM0 2398.6v4.2h62.3v-4.2z"/></g><g transform="translate(591.2,0)"><path fill="#ff2020" d="M0 1929.6v4.2h62.4v-4.2zM0 1937.0v4.2h62.4v-4.2zM0 1948.2v4.2h62.4v-4.2zM0 1955.7v4.2h62.4v-4.2zM0 1963.1v4.2h62.4v-4.2zM0 1978.0v4.2h62.4v-4.2zM0 1989.1v7.9h62.4v-7.9zM0 2000.3v4.2h62.4v-4.2zM0 2011.5v7.9h62.4v-7.9zM0 2022.6v4.2h62.4v-4.2zM0 2030.1v7.9h62.4v-7.9zM0 2052.4v7.9h62.4v-7.9zM0 2074.8v4.2h62.4v-4.2zM0 2082.2v4.2h62.4v-4.2zM0 2100.8v4.2h62.4v-4.2zM0 2108.2v4.2h62.4v-4.2zM0 2119.4v4.2h62.4v-4.2zM0 2134.3v7.9h62.4v-7.9zM0 2145.5v7.9h62.4v-7.9zM0 2167.8v4.2h62.4v-4.2zM0 2175.2v4.2h62.4v-4.2zM0 2182.7v4.2h62.4v-4.2zM0 2201.3v4.2h62.4v-4.2zM0 2216.2v4.2h62.4v-4.2zM0 2223.6v4.2h62.4v-4.2zM0 2231.1v11.7h62.4v-11.7zM0 2260.8v4.2h62.4v-4.2zM0 2275.7v4.2h62.4v-4.2zM0 2294.3v4.2h62.4v-4.2zM0 2301.8v4.2h62.4v-4.2zM0 2316.7v11.7h62.4v-11.7zM0 2335.3v4.2h62.4v-4.2zM0 2379.9v7.9h62.4v-7.9zM0 2391.1v7.9h62.4v-7.9zM0 2402.3v3.7h62.4v-3.7z"/><path fill="#ff4040" d="M0 1933.3v4.2h62.4v-4.2zM0 1959.4v4.2h62.4v-4.2zM0 2048.7v4.2h62.4v-4.2zM0 2205.0v4.2h62.4v-4.2zM0 2212.5v4.2h62.4v-4.2zM0 2249.7v4.2h62.4v-4.2zM0 2264.6v4.2h62.4v-4.2zM0 2353.9v4.2h62.4v-4.2zM0 2365.1v4.2h62.4v-4.2z"/><path fill="#f00" d="M0 1940.8v7.9h62.4v-7.9zM0 1951.9v4.2h62.4v-4.2zM0 1966.8v7.9h62.4v-7.9zM0 1985.4v4.2h62.4v-4.2zM0 1996.6v4.2h62.4v-4.2zM0 2004.0v7.9h62.4v-7.9zM0 2018.9v4.2h62.4v-4.2zM0 2026.4v4.2h62.4v-4.2zM0 2037.5v11.7h62.4v-11.7zM0 2059.9v15.4h62.4v-15.4zM0 2078.5v4.2h62.4v-4.2zM0 2085.9v4.2h62.4v-4.2zM0 2093.4v7.9h62.4v-7.9zM0 2104.5v4.2h62.4v-4.2zM0 2115.7v4.2h62.4v-4.2zM0 2123.1v11.7h62.4v-11.7zM0 2141.7v4.2h62.4v-4.2zM0 2152.9v15.4h62.4v-15.4zM0 2171.5v4.2h62.4v-4.2zM0 2179.0v4.2h62.4v-4.2zM0 2186.4v15.4h62.4v-15.4zM0 2219.9v4.2h62.4v-4.2zM0 2227.3v4.2h62.4v-4.2zM0 2242.2v7.9h62.4v-7.9zM0 2253.4v7.9h62.4v-7.9zM0 2268.3v7.9h62.4v-7.9zM0 2279.5v15.4h62.4v-15.4zM0 2298.1v4.2h62.4v-4.2zM0 2305.5v11.7h62.4v-11.7zM0 2327.8v7.9h62.4v-7.9zM0 2342.7v4.2h62.4v-4.2zM0 2350.2v4.2h62.4v-4.2zM0 2357.6v7.9h62.4v-7.9zM0 2368.8v4.2h62.4v-4.2zM0 2376.2v4.2h62.4v-4.2zM0 2387.4v4.2h62.4v-4.2zM0 2398.6v4.2h62.4v-4.2z"/><path fill="#a80000" d="M0 1974.3v4.2h62.4v-4.2zM0 1981.7v4.2h62.4v-4.2zM0 2089.6v4.2h62.4v-4.2zM0 2112.0v4.2h62.4v-4.2zM0 2208.7v4.2h62.4v-4.2zM0 2339.0v4.2h62.4v-4.2zM0 2346.4v4.2h62.4v-4.2zM0 2372.5v4.2h62.4v-4.2z"/></g><g transform="translate(655.5,0)"><path fill="#bfbfff" d="M0 1929.6v4.2h61.3v-4.2zM0 1966.8v4.2h61.3v-4.2zM0 2071.0v4.2h61.3v-4.2zM0 2108.2v4.2h61.3v-4.2zM0 2134.3v4.2h61.3v-4.2zM0 2141.7v4.2h61.3v-4.2zM0 2193.9v4.2h61.3v-4.2zM0 2231.1v4.2h61.3v-4.2zM0 2320.4v4.2h61.3v-4.2zM0 2394.8v4.2h61.3v-4.2z"/><path fill="#dfdfff" d="M0 1933.3v7.9h61.3v-7.9zM0 1963.1v4.2h61.3v-4.2zM0 2007.8v4.2h61.3v-4.2zM0 2015.2v11.7h61.3v-11.7zM0 2033.8v4.2h61.3v-4.2zM0 2063.6v4.2h61.3v-4.2zM0 2085.9v4.2h61.3v-4.2zM0 2190.1v4.2h61.3v-4.2zM0 2201.3v4.2h61.3v-4.2zM0 2223.6v4.2h61.3v-4.2zM0 2253.4v4.2h61.3v-4.2zM0 2283.2v4.2h61.3v-4.2z"/><path fill="#ff6060" d="M0 1944.5v4.2h61.3v-4.2zM0 2037.5v4.2h61.3v-4.2zM0 2216.2v4.2h61.3v-4.2zM0 2286.9v4.2h61.3v-4.2zM0 2379.9v4.2h61.3v-4.2z"/><path fill="#ffdfdf" d="M0 1948.2v4.2h61.3v-4.2zM0 1989.1v4.2h61.3v-4.2zM0 2048.7v4.2h61.3v-4.2zM0 2082.2v4.2h61.3v-4.2zM0 2160.4v7.9h61.3v-7.9zM0 2182.7v4.2h61.3v-4.2zM0 2219.9v4.2h61.3v-4.2zM0 2234.8v4.2h61.3v-4.2zM0 2350.2v4.2h61.3v-4.2zM0 2391.1v4.2h61.3v-4.2z"/><path fill="#ffbfbf" d="M0 1951.9v4.2h61.3v-4.2zM0 2011.5v4.2h61.3v-4.2zM0 2026.4v4.2h61.3v-4.2zM0 2100.8v4.2h61.3v-4.2zM0 2119.4v4.2h61.3v-4.2zM0 2208.7v4.2h61.3v-4.2zM0 2227.3v4.2h61.3v-4.2zM0 2257.1v4.2h61.3v-4.2zM0 2294.3v7.9h61.3v-7.9zM0 2372.5v7.9h61.3v-7.9zM0 2383.7v7.9h61.3v-7.9z"/><path fill="#ff9f9f" d="M0 1955.7v4.2h61.3v-4.2zM0 1978.0v7.9h61.3v-7.9zM0 2126.9v4.2h61.3v-4.2zM0 2205.0v4.2h61.3v-4.2zM0 2249.7v4.2h61.3v-4.2zM0 2335.3v4.2h61.3v-4.2zM0 2353.9v4.2h61.3v-4.2zM0 2365.1v4.2h61.3v-4.2zM0 2402.3v3.7h61.3v-3.7z"/><path fill="#9f9fff" d="M0 1970.5v4.2h61.3v-4.2zM0 1992.9v4.2h61.3v-4.2zM0 2074.8v4.2h61.3v-4.2zM0 2093.4v7.9h61.3v-7.9zM0 2104.5v4.2h61.3v-4.2zM0 2167.8v4.2h61.3v-4.2zM0 2179.0v4.2h61.3v-4.2zM0 2186.4v4.2h61.3v-4.2zM0 2238.5v4.2h61.3v-4.2zM0 2275.7v7.9h61.3v-7.9zM0 2305.5v4.2h61.3v-4.2zM0 2313.0v4.2h61.3v-4.2zM0 2342.7v4.2h61.3v-4.2zM0 2398.6v4.2h61.3v-4.2z"/><path fill="#8080ff" d="M0 1974.3v4.2h61.3v-4.2zM0 2030.1v4.2h61.3v-4.2zM0 2171.5v4.2h61.3v-4.2zM0 2264.6v4.2h61.3v-4.2zM0 2272.0v4.2h61.3v-4.2zM0 2324.1v4.2h61.3v-4.2z"/><path fill="#6060ff" d="M0 1985.4v4.2h61.3v-4.2zM0 2004.0v4.2h61.3v-4.2zM0 2041.3v4.2h61.3v-4.2zM0 2123.1v4.2h61.3v-4.2zM0 2197.6v4.2h61.3v-4.2zM0 2242.2v4.2h61.3v-4.2zM0 2316.7v4.2h61.3v-4.2zM0 2339.0v4.2h61.3v-4.2z"/><path fill="#ff8080" d="M0 1996.6v7.9h61.3v-7.9zM0 2089.6v4.2h61.3v-4.2zM0 2115.7v4.2h61.3v-4.2zM0 2145.5v4.2h61.3v-4.2zM0 2156.6v4.2h61.3v-4.2zM0 2246.0v4.2h61.3v-4.2zM0 2327.8v4.2h61.3v-4.2z"/><path fill="#ff4040" d="M0 2045.0v4.2h61.3v-4.2zM0 2331.6v4.2h61.3v-4.2z"/><path fill="#4040ff" d="M0 2052.4v4.2h61.3v-4.2z"/><path fill="#ff2020" d="M0 2059.9v4.2h61.3v-4.2zM0 2268.3v4.2h61.3v-4.2z"/><path fill="#00f" d="M0 2078.5v4.2h61.3v-4.2zM0 2361.3v4.2h61.3v-4.2z"/><path fill="#2020ff" d="M0 2112.0v4.2h61.3v-4.2zM0 2357.6v4.2h61.3v-4.2z"/><path fill="#f00" d="M0 2368.8v4.2h61.3v-4.2z"/></g><g transform="translate(716.8,0)"><path fill="#ff8080" d="M0 1933.3v4.2h61.6v-4.2zM0 1981.7v4.2h61.6v-4.2zM0 2182.7v4.2h61.6v-4.2zM0 2298.1v4.2h61.6v-4.2zM0 2361.3v4.2h61.6v-4.2zM0 2387.4v4.2h61.6v-4.2z"/><path fill="#8080ff" d="M0 1937.0v4.2h61.6v-4.2zM0 1948.2v4.2h61.6v-4.2zM0 1985.4v7.9h61.6v-7.9zM0 2030.1v4.2h61.6v-4.2zM0 2082.2v4.2h61.6v-4.2zM0 2171.5v4.2h61.6v-4.2zM0 2179.0v4.2h61.6v-4.2zM0 2208.7v4.2h61.6v-4.2zM0 2365.1v4.2h61.6v-4.2zM0 2372.5v4.2h61.6v-4.2z"/><path fill="#ff9f9f" d="M0 1940.8v4.2h61.6v-4.2zM0 1963.1v4.2h61.6v-4.2zM0 2011.5v4.2h61.6v-4.2zM0 2048.7v4.2h61.6v-4.2zM0 2205.0v4.2h61.6v-4.2zM0 2246.0v4.2h61.6v-4.2zM0 2324.1v4.2h61.6v-4.2zM0 2331.6v4.2h61.6v-4.2zM0 2346.4v4.2h61.6v-4.2zM0 2368.8v4.2h61.6v-4.2z"/><path fill="#ffbfbf" d="M0 1944.5v4.2h61.6v-4.2zM0 2108.2v4.2h61.6v-4.2zM0 2115.7v4.2h61.6v-4.2zM0 2130.6v7.9h61.6v-7.9zM0 2186.4v4.2h61.6v-4.2zM0 2242.2v4.2h61.6v-4.2zM0 2268.3v11.7h61.6v-11.7zM0 2327.8v4.2h61.6v-4.2zM0 2379.9v4.2h61.6v-4.2z"/><path fill="#dfdfff" d="M0 1955.7v4.2h61.6v-4.2zM0 2000.3v4.2h61.6v-4.2zM0 2018.9v4.2h61.6v-4.2zM0 2041.3v4.2h61.6v-4.2zM0 2074.8v4.2h61.6v-4.2zM0 2089.6v4.2h61.6v-4.2zM0 2152.9v7.9h61.6v-7.9zM0 2212.5v7.9h61.6v-7.9zM0 2249.7v4.2h61.6v-4.2zM0 2264.6v4.2h61.6v-4.2z"/><path fill="#6060ff" d="M0 1959.4v4.2h61.6v-4.2zM0 2052.4v4.2h61.6v-4.2zM0 2059.9v4.2h61.6v-4.2zM0 2145.5v4.2h61.6v-4.2zM0 2167.8v4.2h61.6v-4.2zM0 2197.6v4.2h61.6v-4.2zM0 2219.9v4.2h61.6v-4.2zM0 2309.2v4.2h61.6v-4.2zM0 2402.3v3.7h61.6v-3.7z"/><path fill="#bfbfff" d="M0 1966.8v7.9h61.6v-7.9zM0 1996.6v4.2h61.6v-4.2zM0 2007.8v4.2h61.6v-4.2zM0 2015.2v4.2h61.6v-4.2zM0 2123.1v4.2h61.6v-4.2zM0 2138.0v4.2h61.6v-4.2zM0 2149.2v4.2h61.6v-4.2zM0 2253.4v7.9h61.6v-7.9zM0 2279.5v4.2h61.6v-4.2zM0 2339.0v4.2h61.6v-4.2z"/><path fill="#9f9fff" d="M0 1974.3v4.2h61.6v-4.2zM0 2022.6v4.2h61.6v-4.2zM0 2097.1v4.2h61.6v-4.2zM0 2175.2v4.2h61.6v-4.2zM0 2294.3v4.2h61.6v-4.2zM0 2342.7v4.2h61.6v-4.2z"/><path fill="#ff6060" d="M0 1978.0v4.2h61.6v-4.2zM0 2085.9v4.2h61.6v-4.2zM0 2093.4v4.2h61.6v-4.2zM0 2286.9v4.2h61.6v-4.2z"/><path fill="#ffdfdf" d="M0 1992.9v4.2h61.6v-4.2zM0 2004.0v4.2h61.6v-4.2zM0 2071.0v4.2h61.6v-4.2zM0 2078.5v4.2h61.6v-4.2zM0 2112.0v4.2h61.6v-4.2zM0 2164.1v4.2h61.6v-4.2zM0 2283.2v4.2h61.6v-4.2zM0 2313.0v4.2h61.6v-4.2zM0 2350.2v4.2h61.6v-4.2zM0 2398.6v4.2h61.6v-4.2z"/><path fill="#00f" d="M0 2033.8v4.2h61.6v-4.2zM0 2056.1v4.2h61.6v-4.2zM0 2104.5v4.2h61.6v-4.2zM0 2119.4v4.2h61.6v-4.2zM0 2141.7v4.2h61.6v-4.2zM0 2190.1v4.2h61.6v-4.2zM0 2234.8v4.2h61.6v-4.2zM0 2260.8v4.2h61.6v-4.2zM0 2316.7v4.2h61.6v-4.2zM0 2357.6v4.2h61.6v-4.2zM0 2376.2v4.2h61.6v-4.2z"/><path fill="#2020ff" d="M0 2037.5v4.2h61.6v-4.2zM0 2126.9v4.2h61.6v-4.2zM0 2305.5v4.2h61.6v-4.2zM0 2353.9v4.2h61.6v-4.2z"/><path fill="#4040ff" d="M0 2067.3v4.2h61.6v-4.2zM0 2231.1v4.2h61.6v-4.2zM0 2238.5v4.2h61.6v-4.2zM0 2290.6v4.2h61.6v-4.2zM0 2335.3v4.2h61.6v-4.2zM0 2383.7v4.2h61.6v-4.2z"/><path fill="#f00" d="M0 2201.3v4.2h61.6v-4.2z"/><path fill="#ff2020" d="M0 2223.6v7.9h61.6v-7.9z"/></g><g transform="translate(778.4,0)"><path fill="#00f" d="M0 1929.6v4.2h62.4v-4.2zM0 1959.4v4.2h62.4v-4.2zM0 1981.7v4.2h62.4v-4.2zM0 1989.1v4.2h62.4v-4.2zM0 2104.5v4.2h62.4v-4.2zM0 2156.6v4.2h62.4v-4.2zM0 2201.3v4.2h62.4v-4.2zM0 2316.7v4.2h62.4v-4.2z"/><path fill="#ffdfdf" d="M0 1933.3v7.9h62.4v-7.9zM0 1966.8v7.9h62.4v-7.9zM0 2022.6v4.2h62.4v-4.2zM0 2041.3v7.9h62.4v-7.9zM0 2089.6v7.9h62.4v-7.9zM0 2112.0v4.2h62.4v-4.2zM0 2119.4v4.2h62.4v-4.2zM0 2182.7v4.2h62.4v-4.2zM0 2234.8v4.2h62.4v-4.2zM0 2253.4v4.2h62.4v-4.2zM0 2301.8v4.2h62.4v-4.2zM0 2350.2v4.2h62.4v-4.2zM0 2376.2v4.2h62.4v-4.2zM0 2402.3v3.7h62.4v-3.7z"/><path fill="#dfdfff" d="M0 1940.8v4.2h62.4v-4.2zM0 1951.9v4.2h62.4v-4.2zM0 2100.8v4.2h62.4v-4.2zM0 2231.1v4.2h62.4v-4.2zM0 2331.6v4.2h62.4v-4.2zM0 2372.5v4.2h62.4v-4.2z"/><path fill="#ff8080" d="M0 1944.5v4.2h62.4v-4.2zM0 1955.7v4.2h62.4v-4.2zM0 2078.5v4.2h62.4v-4.2zM0 2242.2v4.2h62.4v-4.2zM0 2275.7v4.2h62.4v-4.2zM0 2286.9v4.2h62.4v-4.2zM0 2327.8v4.2h62.4v-4.2zM0 2353.9v4.2h62.4v-4.2z"/><path fill="#c00000" d="M0 1948.2v4.2h62.4v-4.2zM0 2257.1v4.2h62.4v-4.2z"/><path fill="#ff9f9f" d="M0 1963.1v4.2h62.4v-4.2zM0 2004.0v4.2h62.4v-4.2zM0 2361.3v4.2h62.4v-4.2z"/><path fill="#4040ff" d="M0 1974.3v4.2h62.4v-4.2zM0 2000.3v4.2h62.4v-4.2zM0 2067.3v4.2h62.4v-4.2zM0 2190.1v4.2h62.4v-4.2zM0 2346.4v4.2h62.4v-4.2z"/><path fill="#ff6060" d="M0 1978.0v4.2h62.4v-4.2zM0 2026.4v11.7h62.4v-11.7zM0 2398.6v4.2h62.4v-4.2z"/><path fill="#9f9fff" d="M0 1985.4v4.2h62.4v-4.2zM0 2037.5v4.2h62.4v-4.2zM0 2059.9v4.2h62.4v-4.2zM0 2082.2v4.2h62.4v-4.2zM0 2108.2v4.2h62.4v-4.2zM0 2134.3v4.2h62.4v-4.2zM0 2193.9v7.9h62.4v-7.9zM0 2216.2v4.2h62.4v-4.2zM0 2249.7v4.2h62.4v-4.2zM0 2264.6v4.2h62.4v-4.2zM0 2313.0v4.2h62.4v-4.2zM0 2335.3v4.2h62.4v-4.2z"/><path fill="#ffbfbf" d="M0 1996.6v4.2h62.4v-4.2zM0 2007.8v4.2h62.4v-4.2zM0 2063.6v4.2h62.4v-4.2zM0 2123.1v7.9h62.4v-7.9zM0 2208.7v4.2h62.4v-4.2zM0 2227.3v4.2h62.4v-4.2zM0 2246.0v4.2h62.4v-4.2zM0 2290.6v7.9h62.4v-7.9zM0 2324.1v4.2h62.4v-4.2z"/><path fill="#bfbfff" d="M0 2011.5v4.2h62.4v-4.2zM0 2074.8v4.2h62.4v-4.2zM0 2085.9v4.2h62.4v-4.2zM0 2130.6v4.2h62.4v-4.2zM0 2164.1v4.2h62.4v-4.2zM0 2171.5v4.2h62.4v-4.2zM0 2179.0v4.2h62.4v-4.2z"/><path fill="#ff4040" d="M0 2015.2v4.2h62.4v-4.2zM0 2149.2v4.2h62.4v-4.2zM0 2167.8v4.2h62.4v-4.2zM0 2223.6v4.2h62.4v-4.2zM0 2320.4v4.2h62.4v-4.2z"/><path fill="#f00" d="M0 2018.9v4.2h62.4v-4.2zM0 2138.0v4.2h62.4v-4.2zM0 2145.5v4.2h62.4v-4.2zM0 2160.4v4.2h62.4v-4.2zM0 2279.5v7.9h62.4v-7.9zM0 2357.6v4.2h62.4v-4.2zM0 2383.7v7.9h62.4v-7.9zM0 2394.8v4.2h62.4v-4.2z"/><path fill="#8080ff" d="M0 2052.4v4.2h62.4v-4.2z"/><path fill="#00c" d="M0 2056.1v4.2h62.4v-4.2zM0 2141.7v4.2h62.4v-4.2z"/><path fill="#2020ff" d="M0 2071.0v4.2h62.4v-4.2zM0 2152.9v4.2h62.4v-4.2zM0 2175.2v4.2h62.4v-4.2zM0 2212.5v4.2h62.4v-4.2zM0 2219.9v4.2h62.4v-4.2zM0 2238.5v4.2h62.4v-4.2zM0 2379.9v4.2h62.4v-4.2zM0 2391.1v4.2h62.4v-4.2z"/><path fill="#ff2020" d="M0 2097.1v4.2h62.4v-4.2zM0 2115.7v4.2h62.4v-4.2zM0 2260.8v4.2h62.4v-4.2zM0 2272.0v4.2h62.4v-4.2zM0 2309.2v4.2h62.4v-4.2zM0 2342.7v4.2h62.4v-4.2z"/><path fill="#6060ff" d="M0 2268.3v4.2h62.4v-4.2zM0 2365.1v4.2h62.4v-4.2z"/></g><g transform="translate(840.8,0)"><path fill="#f00" d="M0 1929.6v48.9h61.8v-48.9z"/><path fill="#ff1010" d="M0 1978.0v22.8h61.8v-22.8z"/><path fill="#ff2020" d="M0 2000.3v19.1h61.8v-19.1z"/><path fill="#ff3030" d="M0 2018.9v11.7h61.8v-11.7z"/><path fill="#ff4040" d="M0 2030.1v11.7h61.8v-11.7z"/><path fill="#ff5050" d="M0 2041.3v11.7h61.8v-11.7z"/><path fill="#ff6060" d="M0 2052.4v7.9h61.8v-7.9z"/><path fill="#ff7070" d="M0 2059.9v11.7h61.8v-11.7z"/><path fill="#ff8080" d="M0 2071.0v7.9h61.8v-7.9z"/><path fill="#ff8f8f" d="M0 2078.5v7.9h61.8v-7.9z"/><path fill="#ff9f9f" d="M0 2085.9v11.7h61.8v-11.7z"/><path fill="#ffafaf" d="M0 2097.1v7.9h61.8v-7.9z"/><path fill="#ffbfbf" d="M0 2104.5v7.9h61.8v-7.9z"/><path fill="#ffcfcf" d="M0 2112.0v11.7h61.8v-11.7z"/><path fill="#ffdfdf" d="M0 2123.1v7.9h61.8v-7.9z"/><path fill="#ffefef" d="M0 2130.6v7.9h61.8v-7.9z"/><path fill="#efefff" d="M0 2242.2v11.7h61.8v-11.7z"/><path fill="#dfdfff" d="M0 2253.4v15.4h61.8v-15.4z"/><path fill="#cfcfff" d="M0 2268.3v11.7h61.8v-11.7z"/><path fill="#bfbfff" d="M0 2279.5v11.7h61.8v-11.7z"/><path fill="#afafff" d="M0 2290.6v11.7h61.8v-11.7z"/><path fill="#9f9fff" d="M0 2301.8v15.4h61.8v-15.4z"/><path fill="#8f8fff" d="M0 2316.7v11.7h61.8v-11.7z"/><path fill="#8080ff" d="M0 2327.8v11.7h61.8v-11.7z"/><path fill="#7070ff" d="M0 2339.0v11.7h61.8v-11.7z"/><path fill="#6060ff" d="M0 2350.2v11.7h61.8v-11.7z"/><path fill="#5050ff" d="M0 2361.3v7.9h61.8v-7.9z"/><path fill="#4040ff" d="M0 2368.8v7.9h61.8v-7.9z"/><path fill="#2020ff" d="M0 2376.2v4.2h61.8v-4.2z"/><path fill="#00f" d="M0 2379.9v26.1h61.8v-26.1z"/></g></g><rect x="402.8" y="1927.6" width="500.8" height="479.6" fill="none" stroke="#000" stroke-width="2.4"/><line x1="654.6" y1="1927" x2="654.6" y2="2407" stroke="#000" stroke-width="2.4"/><text x="932.3" y="1886.2" font-size="35.2" font-weight="bold">Samples</text><rect x="931" y="1913.9" width="17.8" height="17.8" fill="#2aace2" stroke="#000" stroke-width="2.2"/><text x="961.2" y="1932.0" font-size="35.6">V-early</text><rect x="931" y="1959.2" width="17.8" height="17.8" fill="#d3519b" stroke="#000" stroke-width="2.2"/><text x="961.2" y="1977.3" font-size="35.6">I-early</text><rect x="931" y="2004.5" width="17.8" height="17.8" fill="#44536a" stroke="#000" stroke-width="2.2"/><text x="961.2" y="2022.6" font-size="35.6">V-late</text><rect x="931" y="2049.8" width="17.8" height="17.8" fill="#f4e81b" stroke="#000" stroke-width="2.2"/><text x="961.2" y="2067.9" font-size="35.6">I-late</text><text x="933.1" y="2110.5" font-size="22.0" font-weight="bold">RNA</text><text x="933.1" y="2134.5" font-size="22.0" font-weight="bold">Expression</text><rect x="930.2" y="2153.4" width="21.8" height="90" rx="2" fill="url(#gRNA)"/><line x1="945" y1="2160" x2="949.5" y2="2160" stroke="#fff" stroke-width="1.6" stroke-linecap="round"/><line x1="945" y1="2179.5" x2="949.5" y2="2179.5" stroke="#fff" stroke-width="1.6" stroke-linecap="round"/><line x1="945" y1="2199" x2="949.5" y2="2199" stroke="#fff" stroke-width="1.6" stroke-linecap="round"/><line x1="945" y1="2218.5" x2="949.5" y2="2218.5" stroke="#fff" stroke-width="1.6" stroke-linecap="round"/><line x1="945" y1="2238" x2="949.5" y2="2238" stroke="#fff" stroke-width="1.6" stroke-linecap="round"/><text x="972.8" y="2165.3" font-size="20.3" text-anchor="middle">2</text><text x="972.8" y="2184.6" font-size="20.3" text-anchor="middle">1</text><text x="972.8" y="2203.8" font-size="20.3" text-anchor="middle">0</text><text x="972.8" y="2223.0" font-size="20.3" text-anchor="middle">−1</text><text x="972.8" y="2242.2" font-size="20.3" text-anchor="middle">−2</text><text x="932.6" y="2276.5" font-size="22.0" font-weight="bold">Protein</text><text x="932.6" y="2303.8" font-size="22.0" font-weight="bold">expression</text><rect x="930.5" y="2317.9" width="21" height="88.2" rx="2" fill="url(#gPROT)"/><line x1="944.5" y1="2324.5" x2="949" y2="2324.5" stroke="#fff" stroke-width="1.6" stroke-linecap="round"/><line x1="944.5" y1="2344" x2="949" y2="2344" stroke="#fff" stroke-width="1.6" stroke-linecap="round"/><line x1="944.5" y1="2363.5" x2="949" y2="2363.5" stroke="#fff" stroke-width="1.6" stroke-linecap="round"/><line x1="944.5" y1="2383" x2="949" y2="2383" stroke="#fff" stroke-width="1.6" stroke-linecap="round"/><line x1="944.5" y1="2402" x2="949" y2="2402" stroke="#fff" stroke-width="1.6" stroke-linecap="round"/><text x="971.6" y="2328.8" font-size="20.3" text-anchor="middle">2</text><text x="971.6" y="2349.7" font-size="20.3" text-anchor="middle">1</text><text x="971.6" y="2368.2" font-size="20.3" text-anchor="middle">0</text><text x="971.6" y="2388.0" font-size="20.3" text-anchor="middle">−1</text><text x="971.6" y="2407.3" font-size="20.3" text-anchor="middle">−2</text><text x="1116.6" y="1865.0" font-size="56.3" fill="#231f20">F</text><rect x="1661.6" y="1924.0" width="247.0" height="18.3" fill="#ff0000" stroke="#000" stroke-width="1"/><text x="1651.7" y="1940.7" font-size="26.7" text-anchor="end">SMAC, XIAP-regulated apoptotic response</text><rect x="1661.6" y="1966.5" width="205.8" height="18.3" fill="#ff0000" stroke="#000" stroke-width="1"/><text x="1651.7" y="1983.2" font-size="26.7" text-anchor="end">CD22 mediated BCR regulation</text><rect x="1661.6" y="2008.4" width="80.2" height="18.3" fill="#ff0000" stroke="#000" stroke-width="1"/><text x="1651.7" y="2025.1" font-size="26.7" text-anchor="end">Glycosphingolipid catabolism</text><rect x="1661.6" y="2050.3" width="27.9" height="18.3" fill="#ff0000" stroke="#000" stroke-width="1"/><text x="1651.7" y="2067.0" font-size="26.7" text-anchor="end">Clathrin-mediated endocytosis</text><rect x="1661.6" y="2092.2" width="22.9" height="18.3" fill="#ff0000" stroke="#000" stroke-width="1"/><text x="1651.7" y="2108.9" font-size="26.7" text-anchor="end">Processing of pre-mRNA</text><rect x="1661.6" y="2134.1" width="12.9" height="18.3" fill="#ff0000" stroke="#000" stroke-width="1"/><text x="1651.7" y="2150.8" font-size="26.7" text-anchor="end">Metabolism of RNA</text><rect x="1617.5" y="2185.7" width="44.1" height="18.3" fill="#4472c4" stroke="#000" stroke-width="1"/><text x="1669.6" y="2201.9" font-size="26.7">Clathrin-mediated endocytosis</text><rect x="1364.2" y="2227.7" width="297.4" height="18.3" fill="#4472c4" stroke="#000" stroke-width="1"/><text x="1669.6" y="2243.9" font-size="26.7">Ionotropic act. of kainate recept.</text><rect x="1235.9" y="2269.6" width="425.7" height="18.3" fill="#4472c4" stroke="#000" stroke-width="1"/><text x="1669.6" y="2285.8" font-size="26.7">p38MAPK events</text><line x1="1661.6" y1="1916.3" x2="1661.6" y2="2305" stroke="#000" stroke-width="2.2"/><line x1="1231.3" y1="2304.3" x2="1917.9" y2="2304.3" stroke="#000" stroke-width="2.5"/><text x="1236.6" y="2356.1" font-size="26" text-anchor="middle">-100</text><text x="1325.6" y="2356.1" font-size="26" text-anchor="middle">-80</text><text x="1408.9" y="2356.1" font-size="26" text-anchor="middle">-60</text><text x="1492.2" y="2356.1" font-size="26" text-anchor="middle">-40</text><text x="1575.5" y="2356.1" font-size="26" text-anchor="middle">-20</text><text x="1661.1" y="2356.1" font-size="26" text-anchor="middle">0</text><text x="1745.2" y="2356.1" font-size="26" text-anchor="middle">20</text><text x="1828.5" y="2356.1" font-size="26" text-anchor="middle">40</text><text x="1911.8" y="2356.1" font-size="26" text-anchor="middle">60</text><path d="M1245.1,2304V2324.7M1328.4,2304V2324.7M1411.7,2304V2324.7M1495.0,2304V2324.7M1578.3,2304V2324.7M1661.6,2304V2324.7M1744.9,2304V2324.7M1828.2,2304V2324.7M1911.5,2304V2324.7" stroke="#000" stroke-width="2.6"/><text x="1478.2" y="2399.0" font-size="27">Enrichment ratio</text>
</svg>
</body></html>
